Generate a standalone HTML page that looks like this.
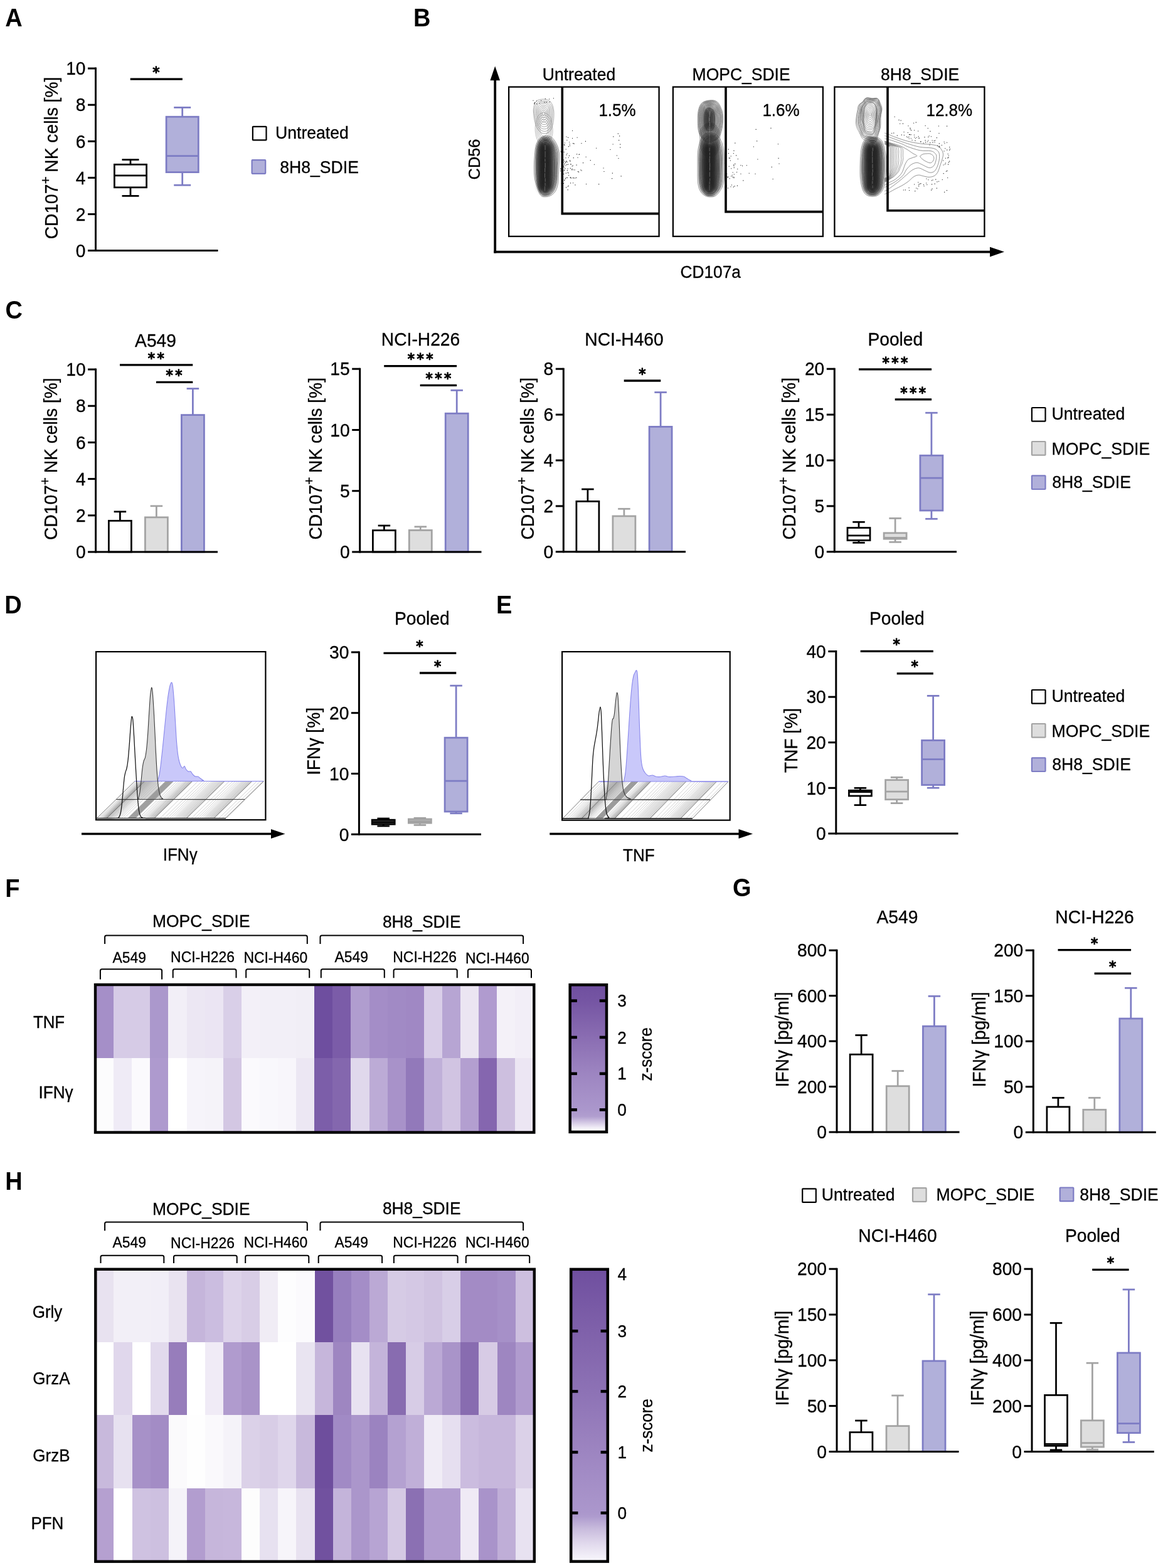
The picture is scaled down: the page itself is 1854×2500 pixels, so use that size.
<!DOCTYPE html>
<html lang="en">
<head>
<meta charset="utf-8">
<title>Figure: NK cell activation by 8H8_SDIE</title>
<style>
html,body{margin:0;padding:0;background:#fff}
body{width:1854px;height:2500px;overflow:hidden}
svg{display:block}
svg text{font-family:"Liberation Sans", sans-serif;fill:#000}
svg text.st{font-family:"DejaVu Sans", "Liberation Sans", sans-serif}
</style>
</head>
<body>
<svg width="1854" height="2500" viewBox="0 0 1854 2500">
<rect x="0" y="0" width="1854" height="2500" fill="#fff"/>
<text font-size="38" font-weight="bold" transform="translate(8.3 42.4) scale(1 1.05)">A</text>
<text font-size="38" font-weight="bold" transform="translate(659 42.2) scale(1 1.05)">B</text>
<text font-size="38" font-weight="bold" transform="translate(8.6 508) scale(1 1.05)">C</text>
<text font-size="38" font-weight="bold" transform="translate(7.3 978) scale(1 1.05)">D</text>
<text font-size="38" font-weight="bold" transform="translate(791 978) scale(1 1.05)">E</text>
<text font-size="38" font-weight="bold" transform="translate(8.2 1430) scale(1 1.05)">F</text>
<text font-size="38" font-weight="bold" transform="translate(1168 1429.4) scale(1 1.05)">G</text>
<text font-size="38" font-weight="bold" transform="translate(8.2 1897.2) scale(1 1.05)">H</text>
<text font-size="28.2" text-anchor="middle" transform="translate(92 252) rotate(-90) scale(1 1.05)" stroke="#000" stroke-width="0.3">CD107<tspan dy="-11.5" font-size="21">+</tspan><tspan dy="11.5" dx="-1.2"> NK cells [%]</tspan></text>
<line x1="208" y1="254.6" x2="208" y2="262.3" stroke="#000" stroke-width="2.75" stroke-linecap="butt"/>
<line x1="208" y1="298.8" x2="208" y2="312.4" stroke="#000" stroke-width="2.75" stroke-linecap="butt"/>
<line x1="194.5" y1="254.6" x2="221.5" y2="254.6" stroke="#000" stroke-width="2.75" stroke-linecap="butt"/>
<line x1="194.5" y1="312.4" x2="221.5" y2="312.4" stroke="#000" stroke-width="2.75" stroke-linecap="butt"/>
<rect x="182.4" y="262.3" width="51.2" height="36.5" fill="#fff" stroke="#000" stroke-width="2.75"/>
<line x1="182.4" y1="279.9" x2="233.6" y2="279.9" stroke="#000" stroke-width="2.75" stroke-linecap="butt"/>
<line x1="290.7" y1="171.4" x2="290.7" y2="186.2" stroke="#7d7cc4" stroke-width="2.75" stroke-linecap="butt"/>
<line x1="290.7" y1="274.6" x2="290.7" y2="295.2" stroke="#7d7cc4" stroke-width="2.75" stroke-linecap="butt"/>
<line x1="277.2" y1="171.4" x2="304.2" y2="171.4" stroke="#7d7cc4" stroke-width="2.75" stroke-linecap="butt"/>
<line x1="277.2" y1="295.2" x2="304.2" y2="295.2" stroke="#7d7cc4" stroke-width="2.75" stroke-linecap="butt"/>
<rect x="265.1" y="186.2" width="51.2" height="88.4" fill="#b1b0da" stroke="#7d7cc4" stroke-width="2.75"/>
<line x1="265.1" y1="248.6" x2="316.3" y2="248.6" stroke="#7d7cc4" stroke-width="2.75" stroke-linecap="butt"/>
<line x1="207.7" y1="126.2" x2="290.9" y2="126.2" stroke="#000" stroke-width="3.3" stroke-linecap="butt"/>
<text x="248.8" y="123" font-size="22.5" text-anchor="middle" class="st" stroke="#000" stroke-width="1.3" stroke-linejoin="round">*</text>
<rect x="402.9" y="201.8" width="21.6" height="21.6" rx="0.7" fill="#fff" stroke="#000" stroke-width="2.2"/>
<text font-size="26.6" transform="translate(439 221.3) scale(1 1.05)" stroke="#000" stroke-width="0.3">Untreated</text>
<rect x="401.6" y="255.2" width="21.6" height="21.6" rx="0.7" fill="#b1b0da" stroke="#7d7cc4" stroke-width="2.2"/>
<text font-size="26.6" transform="translate(446.3 275.5) scale(1 1.05)" stroke="#000" stroke-width="0.3">8H8_SDIE</text>
<line x1="152.5" y1="107.6" x2="152.5" y2="401.1" stroke="#000" stroke-width="3" stroke-linecap="butt"/>
<line x1="140" y1="399.6" x2="347.5" y2="399.6" stroke="#000" stroke-width="3" stroke-linecap="butt"/>
<text font-size="28.2" text-anchor="end" transform="translate(136.5 409.8) scale(1 1.05)" stroke="#000" stroke-width="0.3">0</text>
<line x1="140" y1="341.5" x2="152.5" y2="341.5" stroke="#000" stroke-width="3" stroke-linecap="butt"/>
<text font-size="28.2" text-anchor="end" transform="translate(136.5 351.7) scale(1 1.05)" stroke="#000" stroke-width="0.3">2</text>
<line x1="140" y1="283.4" x2="152.5" y2="283.4" stroke="#000" stroke-width="3" stroke-linecap="butt"/>
<text font-size="28.2" text-anchor="end" transform="translate(136.5 293.6) scale(1 1.05)" stroke="#000" stroke-width="0.3">4</text>
<line x1="140" y1="225.3" x2="152.5" y2="225.3" stroke="#000" stroke-width="3" stroke-linecap="butt"/>
<text font-size="28.2" text-anchor="end" transform="translate(136.5 235.5) scale(1 1.05)" stroke="#000" stroke-width="0.3">6</text>
<line x1="140" y1="167.2" x2="152.5" y2="167.2" stroke="#000" stroke-width="3" stroke-linecap="butt"/>
<text font-size="28.2" text-anchor="end" transform="translate(136.5 177.4) scale(1 1.05)" stroke="#000" stroke-width="0.3">8</text>
<line x1="140" y1="109.1" x2="152.5" y2="109.1" stroke="#000" stroke-width="3" stroke-linecap="butt"/>
<text font-size="28.2" text-anchor="end" transform="translate(136.5 119.3) scale(1 1.05)" stroke="#000" stroke-width="0.3">10</text>
<text font-size="28.2" text-anchor="middle" transform="translate(91.3 731.7) rotate(-90) scale(1 1.05)" stroke="#000" stroke-width="0.3">CD107<tspan dy="-11.5" font-size="21">+</tspan><tspan dy="11.5" dx="-1.2"> NK cells [%]</tspan></text>
<text font-size="28.2" text-anchor="middle" transform="translate(248 552.5) scale(1 1.05)" stroke="#000" stroke-width="0.3">A549</text>
<line x1="191.4" y1="815.8" x2="191.4" y2="830.3" stroke="#000" stroke-width="2.75" stroke-linecap="butt"/>
<line x1="181.65" y1="815.8" x2="201.15" y2="815.8" stroke="#000" stroke-width="2.75" stroke-linecap="butt"/>
<rect x="173.4" y="830.3" width="36" height="49.7" fill="#fff" stroke="#000" stroke-width="2.75"/>
<line x1="249.4" y1="806.8" x2="249.4" y2="824.8" stroke="#a3a3a3" stroke-width="2.75" stroke-linecap="butt"/>
<line x1="239.65" y1="806.8" x2="259.15" y2="806.8" stroke="#a3a3a3" stroke-width="2.75" stroke-linecap="butt"/>
<rect x="231.4" y="824.8" width="36" height="55.2" fill="#dedede" stroke="#a3a3a3" stroke-width="2.75"/>
<line x1="307.4" y1="619.6" x2="307.4" y2="661.6" stroke="#7d7cc4" stroke-width="2.75" stroke-linecap="butt"/>
<line x1="297.65" y1="619.6" x2="317.15" y2="619.6" stroke="#7d7cc4" stroke-width="2.75" stroke-linecap="butt"/>
<rect x="289.4" y="661.6" width="36" height="218.4" fill="#b1b0da" stroke="#7d7cc4" stroke-width="2.75"/>
<line x1="191" y1="581.8" x2="307.3" y2="581.8" stroke="#000" stroke-width="3.3" stroke-linecap="butt"/>
<text x="250.55" y="578.6" font-size="22.5" text-anchor="middle" class="st" stroke="#000" stroke-width="1.3" stroke-linejoin="round" letter-spacing="3.5">**</text>
<line x1="249" y1="609.3" x2="307.3" y2="609.3" stroke="#000" stroke-width="3.3" stroke-linecap="butt"/>
<text x="279.25" y="605.9" font-size="22.5" text-anchor="middle" class="st" stroke="#000" stroke-width="1.3" stroke-linejoin="round" letter-spacing="3.5">**</text>
<text font-size="28.2" text-anchor="middle" transform="translate(512.5 731.3) rotate(-90) scale(1 1.05)" stroke="#000" stroke-width="0.3">CD107<tspan dy="-11.5" font-size="21">+</tspan><tspan dy="11.5" dx="-1.2"> NK cells [%]</tspan></text>
<text font-size="28.2" text-anchor="middle" transform="translate(670.5 550.5) scale(1 1.05)" stroke="#000" stroke-width="0.3">NCI-H226</text>
<line x1="612.4" y1="838" x2="612.4" y2="845.6" stroke="#000" stroke-width="2.75" stroke-linecap="butt"/>
<line x1="602.65" y1="838" x2="622.15" y2="838" stroke="#000" stroke-width="2.75" stroke-linecap="butt"/>
<rect x="594.4" y="845.6" width="36" height="34.4" fill="#fff" stroke="#000" stroke-width="2.75"/>
<line x1="670.3" y1="839.8" x2="670.3" y2="845.4" stroke="#a3a3a3" stroke-width="2.75" stroke-linecap="butt"/>
<line x1="660.55" y1="839.8" x2="680.05" y2="839.8" stroke="#a3a3a3" stroke-width="2.75" stroke-linecap="butt"/>
<rect x="652.3" y="845.4" width="36" height="34.6" fill="#dedede" stroke="#a3a3a3" stroke-width="2.75"/>
<line x1="728.2" y1="622.3" x2="728.2" y2="659.2" stroke="#7d7cc4" stroke-width="2.75" stroke-linecap="butt"/>
<line x1="718.45" y1="622.3" x2="737.95" y2="622.3" stroke="#7d7cc4" stroke-width="2.75" stroke-linecap="butt"/>
<rect x="710.2" y="659.2" width="36" height="220.8" fill="#b1b0da" stroke="#7d7cc4" stroke-width="2.75"/>
<line x1="612.2" y1="583.6" x2="728.1" y2="583.6" stroke="#000" stroke-width="3.3" stroke-linecap="butt"/>
<text x="671.75" y="580.1" font-size="22.5" text-anchor="middle" class="st" stroke="#000" stroke-width="1.3" stroke-linejoin="round" letter-spacing="3.5">***</text>
<line x1="669.7" y1="614.3" x2="728.1" y2="614.3" stroke="#000" stroke-width="3.3" stroke-linecap="butt"/>
<text x="700.55" y="611.1" font-size="22.5" text-anchor="middle" class="st" stroke="#000" stroke-width="1.3" stroke-linejoin="round" letter-spacing="3.5">***</text>
<text font-size="28.2" text-anchor="middle" transform="translate(851.3 731.3) rotate(-90) scale(1 1.05)" stroke="#000" stroke-width="0.3">CD107<tspan dy="-11.5" font-size="21">+</tspan><tspan dy="11.5" dx="-1.2"> NK cells [%]</tspan></text>
<text font-size="28.2" text-anchor="middle" transform="translate(995 550.5) scale(1 1.05)" stroke="#000" stroke-width="0.3">NCI-H460</text>
<line x1="936.9" y1="780" x2="936.9" y2="799.4" stroke="#000" stroke-width="2.75" stroke-linecap="butt"/>
<line x1="927.15" y1="780" x2="946.65" y2="780" stroke="#000" stroke-width="2.75" stroke-linecap="butt"/>
<rect x="918.9" y="799.4" width="36" height="80.4" fill="#fff" stroke="#000" stroke-width="2.75"/>
<line x1="994.9" y1="811.3" x2="994.9" y2="822.9" stroke="#a3a3a3" stroke-width="2.75" stroke-linecap="butt"/>
<line x1="985.15" y1="811.3" x2="1004.65" y2="811.3" stroke="#a3a3a3" stroke-width="2.75" stroke-linecap="butt"/>
<rect x="976.9" y="822.9" width="36" height="56.9" fill="#dedede" stroke="#a3a3a3" stroke-width="2.75"/>
<line x1="1053.1" y1="625.5" x2="1053.1" y2="680.4" stroke="#7d7cc4" stroke-width="2.75" stroke-linecap="butt"/>
<line x1="1043.35" y1="625.5" x2="1062.85" y2="625.5" stroke="#7d7cc4" stroke-width="2.75" stroke-linecap="butt"/>
<rect x="1035.1" y="680.4" width="36" height="199.4" fill="#b1b0da" stroke="#7d7cc4" stroke-width="2.75"/>
<line x1="994.7" y1="607" x2="1053.3" y2="607" stroke="#000" stroke-width="3.3" stroke-linecap="butt"/>
<text x="1023.8" y="603.6" font-size="22.5" text-anchor="middle" class="st" stroke="#000" stroke-width="1.3" stroke-linejoin="round">*</text>
<text font-size="28.2" text-anchor="middle" transform="translate(1268 731.3) rotate(-90) scale(1 1.05)" stroke="#000" stroke-width="0.3">CD107<tspan dy="-11.5" font-size="21">+</tspan><tspan dy="11.5" dx="-1.2"> NK cells [%]</tspan></text>
<text font-size="28.2" text-anchor="middle" transform="translate(1427.3 550.5) scale(1 1.05)" stroke="#000" stroke-width="0.3">Pooled</text>
<line x1="1369" y1="832.3" x2="1369" y2="841.5" stroke="#000" stroke-width="2.75" stroke-linecap="butt"/>
<line x1="1369" y1="861.5" x2="1369" y2="865.3" stroke="#000" stroke-width="2.75" stroke-linecap="butt"/>
<line x1="1359.25" y1="832.3" x2="1378.75" y2="832.3" stroke="#000" stroke-width="2.75" stroke-linecap="butt"/>
<line x1="1359.25" y1="865.3" x2="1378.75" y2="865.3" stroke="#000" stroke-width="2.75" stroke-linecap="butt"/>
<rect x="1351" y="841.5" width="36" height="20" fill="#fff" stroke="#000" stroke-width="2.75"/>
<line x1="1351" y1="853.8" x2="1387" y2="853.8" stroke="#000" stroke-width="2.75" stroke-linecap="butt"/>
<line x1="1427.1" y1="826.4" x2="1427.1" y2="849.8" stroke="#a3a3a3" stroke-width="2.75" stroke-linecap="butt"/>
<line x1="1427.1" y1="859.2" x2="1427.1" y2="864.3" stroke="#a3a3a3" stroke-width="2.75" stroke-linecap="butt"/>
<line x1="1417.35" y1="826.4" x2="1436.85" y2="826.4" stroke="#a3a3a3" stroke-width="2.75" stroke-linecap="butt"/>
<line x1="1417.35" y1="864.3" x2="1436.85" y2="864.3" stroke="#a3a3a3" stroke-width="2.75" stroke-linecap="butt"/>
<rect x="1409.1" y="849.8" width="36" height="9.4" fill="#dedede" stroke="#a3a3a3" stroke-width="2.75"/>
<line x1="1409.1" y1="857.3" x2="1445.1" y2="857.3" stroke="#a3a3a3" stroke-width="2.75" stroke-linecap="butt"/>
<line x1="1484.9" y1="658.2" x2="1484.9" y2="726.2" stroke="#7d7cc4" stroke-width="2.75" stroke-linecap="butt"/>
<line x1="1484.9" y1="814" x2="1484.9" y2="827.3" stroke="#7d7cc4" stroke-width="2.75" stroke-linecap="butt"/>
<line x1="1475.15" y1="658.2" x2="1494.65" y2="658.2" stroke="#7d7cc4" stroke-width="2.75" stroke-linecap="butt"/>
<line x1="1475.15" y1="827.3" x2="1494.65" y2="827.3" stroke="#7d7cc4" stroke-width="2.75" stroke-linecap="butt"/>
<rect x="1466.9" y="726.2" width="36" height="87.8" fill="#b1b0da" stroke="#7d7cc4" stroke-width="2.75"/>
<line x1="1466.9" y1="762.2" x2="1502.9" y2="762.2" stroke="#7d7cc4" stroke-width="2.75" stroke-linecap="butt"/>
<line x1="1369" y1="588.8" x2="1485.1" y2="588.8" stroke="#000" stroke-width="3.3" stroke-linecap="butt"/>
<text x="1428.55" y="586.1" font-size="22.5" text-anchor="middle" class="st" stroke="#000" stroke-width="1.3" stroke-linejoin="round" letter-spacing="3.5">***</text>
<line x1="1426.7" y1="636.8" x2="1485.1" y2="636.8" stroke="#000" stroke-width="3.3" stroke-linecap="butt"/>
<text x="1457.25" y="633.6" font-size="22.5" text-anchor="middle" class="st" stroke="#000" stroke-width="1.3" stroke-linejoin="round" letter-spacing="3.5">***</text>
<rect x="1644.9" y="650" width="21.6" height="21.6" rx="0.7" fill="#fff" stroke="#000" stroke-width="2.2"/>
<text font-size="26.6" transform="translate(1676.6 669.2) scale(1 1.05)" stroke="#000" stroke-width="0.3">Untreated</text>
<rect x="1644.9" y="704" width="21.6" height="21.6" rx="0.7" fill="#dedede" stroke="#a3a3a3" stroke-width="2.2"/>
<text font-size="26.6" transform="translate(1676.6 725.3) scale(1 1.05)" stroke="#000" stroke-width="0.3">MOPC_SDIE</text>
<rect x="1644.9" y="758.4" width="21.6" height="21.6" rx="0.7" fill="#b1b0da" stroke="#7d7cc4" stroke-width="2.2"/>
<text font-size="26.6" transform="translate(1677.3 777.9) scale(1 1.05)" stroke="#000" stroke-width="0.3">8H8_SDIE</text>
<line x1="152.6" y1="587.5" x2="152.6" y2="881.5" stroke="#000" stroke-width="3" stroke-linecap="butt"/>
<line x1="140.1" y1="880" x2="347" y2="880" stroke="#000" stroke-width="3" stroke-linecap="butt"/>
<text font-size="28.2" text-anchor="end" transform="translate(136.6 890.2) scale(1 1.05)" stroke="#000" stroke-width="0.3">0</text>
<line x1="140.1" y1="821.8" x2="152.6" y2="821.8" stroke="#000" stroke-width="3" stroke-linecap="butt"/>
<text font-size="28.2" text-anchor="end" transform="translate(136.6 832) scale(1 1.05)" stroke="#000" stroke-width="0.3">2</text>
<line x1="140.1" y1="763.6" x2="152.6" y2="763.6" stroke="#000" stroke-width="3" stroke-linecap="butt"/>
<text font-size="28.2" text-anchor="end" transform="translate(136.6 773.8) scale(1 1.05)" stroke="#000" stroke-width="0.3">4</text>
<line x1="140.1" y1="705.4" x2="152.6" y2="705.4" stroke="#000" stroke-width="3" stroke-linecap="butt"/>
<text font-size="28.2" text-anchor="end" transform="translate(136.6 715.6) scale(1 1.05)" stroke="#000" stroke-width="0.3">6</text>
<line x1="140.1" y1="647.2" x2="152.6" y2="647.2" stroke="#000" stroke-width="3" stroke-linecap="butt"/>
<text font-size="28.2" text-anchor="end" transform="translate(136.6 657.4) scale(1 1.05)" stroke="#000" stroke-width="0.3">8</text>
<line x1="140.1" y1="589" x2="152.6" y2="589" stroke="#000" stroke-width="3" stroke-linecap="butt"/>
<text font-size="28.2" text-anchor="end" transform="translate(136.6 599.2) scale(1 1.05)" stroke="#000" stroke-width="0.3">10</text>
<line x1="573.7" y1="586.7" x2="573.7" y2="881.5" stroke="#000" stroke-width="3" stroke-linecap="butt"/>
<line x1="561.2" y1="880" x2="767.5" y2="880" stroke="#000" stroke-width="3" stroke-linecap="butt"/>
<text font-size="28.2" text-anchor="end" transform="translate(557.7 890.2) scale(1 1.05)" stroke="#000" stroke-width="0.3">0</text>
<line x1="561.2" y1="782.73" x2="573.7" y2="782.73" stroke="#000" stroke-width="3" stroke-linecap="butt"/>
<text font-size="28.2" text-anchor="end" transform="translate(557.7 792.93) scale(1 1.05)" stroke="#000" stroke-width="0.3">5</text>
<line x1="561.2" y1="685.47" x2="573.7" y2="685.47" stroke="#000" stroke-width="3" stroke-linecap="butt"/>
<text font-size="28.2" text-anchor="end" transform="translate(557.7 695.67) scale(1 1.05)" stroke="#000" stroke-width="0.3">10</text>
<line x1="561.2" y1="588.2" x2="573.7" y2="588.2" stroke="#000" stroke-width="3" stroke-linecap="butt"/>
<text font-size="28.2" text-anchor="end" transform="translate(557.7 598.4) scale(1 1.05)" stroke="#000" stroke-width="0.3">15</text>
<line x1="898.3" y1="586.7" x2="898.3" y2="881.3" stroke="#000" stroke-width="3" stroke-linecap="butt"/>
<line x1="885.8" y1="879.8" x2="1093" y2="879.8" stroke="#000" stroke-width="3" stroke-linecap="butt"/>
<text font-size="28.2" text-anchor="end" transform="translate(882.3 890) scale(1 1.05)" stroke="#000" stroke-width="0.3">0</text>
<line x1="885.8" y1="806.9" x2="898.3" y2="806.9" stroke="#000" stroke-width="3" stroke-linecap="butt"/>
<text font-size="28.2" text-anchor="end" transform="translate(882.3 817.1) scale(1 1.05)" stroke="#000" stroke-width="0.3">2</text>
<line x1="885.8" y1="734" x2="898.3" y2="734" stroke="#000" stroke-width="3" stroke-linecap="butt"/>
<text font-size="28.2" text-anchor="end" transform="translate(882.3 744.2) scale(1 1.05)" stroke="#000" stroke-width="0.3">4</text>
<line x1="885.8" y1="661.1" x2="898.3" y2="661.1" stroke="#000" stroke-width="3" stroke-linecap="butt"/>
<text font-size="28.2" text-anchor="end" transform="translate(882.3 671.3) scale(1 1.05)" stroke="#000" stroke-width="0.3">6</text>
<line x1="885.8" y1="588.2" x2="898.3" y2="588.2" stroke="#000" stroke-width="3" stroke-linecap="butt"/>
<text font-size="28.2" text-anchor="end" transform="translate(882.3 598.4) scale(1 1.05)" stroke="#000" stroke-width="0.3">8</text>
<line x1="1330.3" y1="586.7" x2="1330.3" y2="881.3" stroke="#000" stroke-width="3" stroke-linecap="butt"/>
<line x1="1317.8" y1="879.8" x2="1525" y2="879.8" stroke="#000" stroke-width="3" stroke-linecap="butt"/>
<text font-size="28.2" text-anchor="end" transform="translate(1314.3 890) scale(1 1.05)" stroke="#000" stroke-width="0.3">0</text>
<line x1="1317.8" y1="806.9" x2="1330.3" y2="806.9" stroke="#000" stroke-width="3" stroke-linecap="butt"/>
<text font-size="28.2" text-anchor="end" transform="translate(1314.3 817.1) scale(1 1.05)" stroke="#000" stroke-width="0.3">5</text>
<line x1="1317.8" y1="734" x2="1330.3" y2="734" stroke="#000" stroke-width="3" stroke-linecap="butt"/>
<text font-size="28.2" text-anchor="end" transform="translate(1314.3 744.2) scale(1 1.05)" stroke="#000" stroke-width="0.3">10</text>
<line x1="1317.8" y1="661.1" x2="1330.3" y2="661.1" stroke="#000" stroke-width="3" stroke-linecap="butt"/>
<text font-size="28.2" text-anchor="end" transform="translate(1314.3 671.3) scale(1 1.05)" stroke="#000" stroke-width="0.3">15</text>
<line x1="1317.8" y1="588.2" x2="1330.3" y2="588.2" stroke="#000" stroke-width="3" stroke-linecap="butt"/>
<text font-size="28.2" text-anchor="end" transform="translate(1314.3 598.4) scale(1 1.05)" stroke="#000" stroke-width="0.3">20</text>
<text font-size="28.2" text-anchor="middle" transform="translate(510 1182) rotate(-90) scale(1 1.05)" stroke="#000" stroke-width="0.3">IFNγ [%]</text>
<text font-size="28.2" text-anchor="middle" transform="translate(672.8 996.3) scale(1 1.05)" stroke="#000" stroke-width="0.3">Pooled</text>
<line x1="611.2" y1="1305" x2="611.2" y2="1307.2" stroke="#000" stroke-width="2.75" stroke-linecap="butt"/>
<line x1="611.2" y1="1314.2" x2="611.2" y2="1317" stroke="#000" stroke-width="2.75" stroke-linecap="butt"/>
<line x1="601.45" y1="1305" x2="620.95" y2="1305" stroke="#000" stroke-width="2.75" stroke-linecap="butt"/>
<line x1="601.45" y1="1317" x2="620.95" y2="1317" stroke="#000" stroke-width="2.75" stroke-linecap="butt"/>
<rect x="593.2" y="1307.2" width="36" height="7" fill="#555" stroke="#000" stroke-width="2.75"/>
<line x1="593.2" y1="1310.8" x2="629.2" y2="1310.8" stroke="#000" stroke-width="2.75" stroke-linecap="butt"/>
<line x1="669.4" y1="1304.3" x2="669.4" y2="1306" stroke="#a3a3a3" stroke-width="2.75" stroke-linecap="butt"/>
<line x1="669.4" y1="1312.2" x2="669.4" y2="1315.5" stroke="#a3a3a3" stroke-width="2.75" stroke-linecap="butt"/>
<line x1="659.65" y1="1304.3" x2="679.15" y2="1304.3" stroke="#a3a3a3" stroke-width="2.75" stroke-linecap="butt"/>
<line x1="659.65" y1="1315.5" x2="679.15" y2="1315.5" stroke="#a3a3a3" stroke-width="2.75" stroke-linecap="butt"/>
<rect x="651.4" y="1306" width="36" height="6.2" fill="#bdbdbd" stroke="#a3a3a3" stroke-width="2.75"/>
<line x1="651.4" y1="1309.5" x2="687.4" y2="1309.5" stroke="#a3a3a3" stroke-width="2.75" stroke-linecap="butt"/>
<line x1="727.1" y1="1093.2" x2="727.1" y2="1176.2" stroke="#7d7cc4" stroke-width="2.75" stroke-linecap="butt"/>
<line x1="727.1" y1="1294" x2="727.1" y2="1296.8" stroke="#7d7cc4" stroke-width="2.75" stroke-linecap="butt"/>
<line x1="717.35" y1="1093.2" x2="736.85" y2="1093.2" stroke="#7d7cc4" stroke-width="2.75" stroke-linecap="butt"/>
<line x1="717.35" y1="1296.8" x2="736.85" y2="1296.8" stroke="#7d7cc4" stroke-width="2.75" stroke-linecap="butt"/>
<rect x="709.1" y="1176.2" width="36" height="117.8" fill="#b1b0da" stroke="#7d7cc4" stroke-width="2.75"/>
<line x1="709.1" y1="1245" x2="745.1" y2="1245" stroke="#7d7cc4" stroke-width="2.75" stroke-linecap="butt"/>
<line x1="611.5" y1="1041.3" x2="727.3" y2="1041.3" stroke="#000" stroke-width="3.3" stroke-linecap="butt"/>
<text x="668.8" y="1037.9" font-size="22.5" text-anchor="middle" class="st" stroke="#000" stroke-width="1.3" stroke-linejoin="round">*</text>
<line x1="669" y1="1073" x2="727.3" y2="1073" stroke="#000" stroke-width="3.3" stroke-linecap="butt"/>
<text x="697.5" y="1069.9" font-size="22.5" text-anchor="middle" class="st" stroke="#000" stroke-width="1.3" stroke-linejoin="round">*</text>
<text font-size="28.2" text-anchor="middle" transform="translate(1271.3 1180.6) rotate(-90) scale(1 1.05)" stroke="#000" stroke-width="0.3">TNF [%]</text>
<text font-size="28.2" text-anchor="middle" transform="translate(1429.8 996.3) scale(1 1.05)" stroke="#000" stroke-width="0.3">Pooled</text>
<line x1="1371.4" y1="1256.4" x2="1371.4" y2="1260.3" stroke="#000" stroke-width="2.75" stroke-linecap="butt"/>
<line x1="1371.4" y1="1269" x2="1371.4" y2="1283.6" stroke="#000" stroke-width="2.75" stroke-linecap="butt"/>
<line x1="1361.65" y1="1256.4" x2="1381.15" y2="1256.4" stroke="#000" stroke-width="2.75" stroke-linecap="butt"/>
<line x1="1361.65" y1="1283.6" x2="1381.15" y2="1283.6" stroke="#000" stroke-width="2.75" stroke-linecap="butt"/>
<rect x="1353.4" y="1260.3" width="36" height="8.7" fill="#fff" stroke="#000" stroke-width="2.75"/>
<line x1="1353.4" y1="1262.6" x2="1389.4" y2="1262.6" stroke="#000" stroke-width="2.75" stroke-linecap="butt"/>
<line x1="1429.6" y1="1239.4" x2="1429.6" y2="1243.6" stroke="#a3a3a3" stroke-width="2.75" stroke-linecap="butt"/>
<line x1="1429.6" y1="1274.7" x2="1429.6" y2="1280.6" stroke="#a3a3a3" stroke-width="2.75" stroke-linecap="butt"/>
<line x1="1419.85" y1="1239.4" x2="1439.35" y2="1239.4" stroke="#a3a3a3" stroke-width="2.75" stroke-linecap="butt"/>
<line x1="1419.85" y1="1280.6" x2="1439.35" y2="1280.6" stroke="#a3a3a3" stroke-width="2.75" stroke-linecap="butt"/>
<rect x="1411.6" y="1243.6" width="36" height="31.1" fill="#dedede" stroke="#a3a3a3" stroke-width="2.75"/>
<line x1="1411.6" y1="1262" x2="1447.6" y2="1262" stroke="#a3a3a3" stroke-width="2.75" stroke-linecap="butt"/>
<line x1="1487.6" y1="1109.4" x2="1487.6" y2="1180.4" stroke="#7d7cc4" stroke-width="2.75" stroke-linecap="butt"/>
<line x1="1487.6" y1="1251.5" x2="1487.6" y2="1256.2" stroke="#7d7cc4" stroke-width="2.75" stroke-linecap="butt"/>
<line x1="1477.85" y1="1109.4" x2="1497.35" y2="1109.4" stroke="#7d7cc4" stroke-width="2.75" stroke-linecap="butt"/>
<line x1="1477.85" y1="1256.2" x2="1497.35" y2="1256.2" stroke="#7d7cc4" stroke-width="2.75" stroke-linecap="butt"/>
<rect x="1469.6" y="1180.4" width="36" height="71.1" fill="#b1b0da" stroke="#7d7cc4" stroke-width="2.75"/>
<line x1="1469.6" y1="1210.5" x2="1505.6" y2="1210.5" stroke="#7d7cc4" stroke-width="2.75" stroke-linecap="butt"/>
<line x1="1371.7" y1="1038.3" x2="1487.8" y2="1038.3" stroke="#000" stroke-width="3.3" stroke-linecap="butt"/>
<text x="1429" y="1034.9" font-size="22.5" text-anchor="middle" class="st" stroke="#000" stroke-width="1.3" stroke-linejoin="round">*</text>
<line x1="1429.7" y1="1073.8" x2="1487.8" y2="1073.8" stroke="#000" stroke-width="3.3" stroke-linecap="butt"/>
<text x="1458" y="1070.4" font-size="22.5" text-anchor="middle" class="st" stroke="#000" stroke-width="1.3" stroke-linejoin="round">*</text>
<rect x="1644.9" y="1100" width="21.6" height="21.6" rx="0.7" fill="#fff" stroke="#000" stroke-width="2.2"/>
<text font-size="26.6" transform="translate(1676.6 1119.2) scale(1 1.05)" stroke="#000" stroke-width="0.3">Untreated</text>
<rect x="1644.9" y="1154" width="21.6" height="21.6" rx="0.7" fill="#dedede" stroke="#a3a3a3" stroke-width="2.2"/>
<text font-size="26.6" transform="translate(1676.6 1175.3) scale(1 1.05)" stroke="#000" stroke-width="0.3">MOPC_SDIE</text>
<rect x="1644.9" y="1208.4" width="21.6" height="21.6" rx="0.7" fill="#b1b0da" stroke="#7d7cc4" stroke-width="2.2"/>
<text font-size="26.6" transform="translate(1677.3 1227.9) scale(1 1.05)" stroke="#000" stroke-width="0.3">8H8_SDIE</text>
<line x1="572.4" y1="1038.4" x2="572.4" y2="1331.8" stroke="#000" stroke-width="3" stroke-linecap="butt"/>
<line x1="559.9" y1="1330.3" x2="767" y2="1330.3" stroke="#000" stroke-width="3" stroke-linecap="butt"/>
<text font-size="28.2" text-anchor="end" transform="translate(556.4 1340.5) scale(1 1.05)" stroke="#000" stroke-width="0.3">0</text>
<line x1="559.9" y1="1233.5" x2="572.4" y2="1233.5" stroke="#000" stroke-width="3" stroke-linecap="butt"/>
<text font-size="28.2" text-anchor="end" transform="translate(556.4 1243.7) scale(1 1.05)" stroke="#000" stroke-width="0.3">10</text>
<line x1="559.9" y1="1136.7" x2="572.4" y2="1136.7" stroke="#000" stroke-width="3" stroke-linecap="butt"/>
<text font-size="28.2" text-anchor="end" transform="translate(556.4 1146.9) scale(1 1.05)" stroke="#000" stroke-width="0.3">20</text>
<line x1="559.9" y1="1039.9" x2="572.4" y2="1039.9" stroke="#000" stroke-width="3" stroke-linecap="butt"/>
<text font-size="28.2" text-anchor="end" transform="translate(556.4 1050.1) scale(1 1.05)" stroke="#000" stroke-width="0.3">30</text>
<line x1="1332.8" y1="1037.1" x2="1332.8" y2="1330.4" stroke="#000" stroke-width="3" stroke-linecap="butt"/>
<line x1="1320.3" y1="1328.9" x2="1527.5" y2="1328.9" stroke="#000" stroke-width="3" stroke-linecap="butt"/>
<text font-size="28.2" text-anchor="end" transform="translate(1316.8 1339.1) scale(1 1.05)" stroke="#000" stroke-width="0.3">0</text>
<line x1="1320.3" y1="1256.33" x2="1332.8" y2="1256.33" stroke="#000" stroke-width="3" stroke-linecap="butt"/>
<text font-size="28.2" text-anchor="end" transform="translate(1316.8 1266.53) scale(1 1.05)" stroke="#000" stroke-width="0.3">10</text>
<line x1="1320.3" y1="1183.75" x2="1332.8" y2="1183.75" stroke="#000" stroke-width="3" stroke-linecap="butt"/>
<text font-size="28.2" text-anchor="end" transform="translate(1316.8 1193.95) scale(1 1.05)" stroke="#000" stroke-width="0.3">20</text>
<line x1="1320.3" y1="1111.17" x2="1332.8" y2="1111.17" stroke="#000" stroke-width="3" stroke-linecap="butt"/>
<text font-size="28.2" text-anchor="end" transform="translate(1316.8 1121.38) scale(1 1.05)" stroke="#000" stroke-width="0.3">30</text>
<line x1="1320.3" y1="1038.6" x2="1332.8" y2="1038.6" stroke="#000" stroke-width="3" stroke-linecap="butt"/>
<text font-size="28.2" text-anchor="end" transform="translate(1316.8 1048.8) scale(1 1.05)" stroke="#000" stroke-width="0.3">40</text>
<text font-size="28.2" text-anchor="middle" transform="translate(1256.9 1657.5) rotate(-90) scale(1 1.05)" stroke="#000" stroke-width="0.3">IFNγ [pg/ml]</text>
<text font-size="28.2" text-anchor="middle" transform="translate(1430.4 1472) scale(1 1.05)" stroke="#000" stroke-width="0.3">A549</text>
<line x1="1373.1" y1="1650.5" x2="1373.1" y2="1681.2" stroke="#000" stroke-width="2.75" stroke-linecap="butt"/>
<line x1="1363.35" y1="1650.5" x2="1382.85" y2="1650.5" stroke="#000" stroke-width="2.75" stroke-linecap="butt"/>
<rect x="1355.1" y="1681.2" width="36" height="123.7" fill="#fff" stroke="#000" stroke-width="2.75"/>
<line x1="1431.2" y1="1707.5" x2="1431.2" y2="1731.7" stroke="#a3a3a3" stroke-width="2.75" stroke-linecap="butt"/>
<line x1="1421.45" y1="1707.5" x2="1440.95" y2="1707.5" stroke="#a3a3a3" stroke-width="2.75" stroke-linecap="butt"/>
<rect x="1413.2" y="1731.7" width="36" height="73.2" fill="#dedede" stroke="#a3a3a3" stroke-width="2.75"/>
<line x1="1489.4" y1="1588.3" x2="1489.4" y2="1636.2" stroke="#7d7cc4" stroke-width="2.75" stroke-linecap="butt"/>
<line x1="1479.65" y1="1588.3" x2="1499.15" y2="1588.3" stroke="#7d7cc4" stroke-width="2.75" stroke-linecap="butt"/>
<rect x="1471.4" y="1636.2" width="36" height="168.7" fill="#b1b0da" stroke="#7d7cc4" stroke-width="2.75"/>
<text font-size="28.2" text-anchor="middle" transform="translate(1570.9 1657.5) rotate(-90) scale(1 1.05)" stroke="#000" stroke-width="0.3">IFNγ [pg/ml]</text>
<text font-size="28.2" text-anchor="middle" transform="translate(1745 1471.8) scale(1 1.05)" stroke="#000" stroke-width="0.3">NCI-H226</text>
<line x1="1686.9" y1="1750.3" x2="1686.9" y2="1764.8" stroke="#000" stroke-width="2.75" stroke-linecap="butt"/>
<line x1="1677.15" y1="1750.3" x2="1696.65" y2="1750.3" stroke="#000" stroke-width="2.75" stroke-linecap="butt"/>
<rect x="1668.9" y="1764.8" width="36" height="40.4" fill="#fff" stroke="#000" stroke-width="2.75"/>
<line x1="1744.8" y1="1750.3" x2="1744.8" y2="1769.3" stroke="#a3a3a3" stroke-width="2.75" stroke-linecap="butt"/>
<line x1="1735.05" y1="1750.3" x2="1754.55" y2="1750.3" stroke="#a3a3a3" stroke-width="2.75" stroke-linecap="butt"/>
<rect x="1726.8" y="1769.3" width="36" height="35.9" fill="#dedede" stroke="#a3a3a3" stroke-width="2.75"/>
<line x1="1802.8" y1="1575.3" x2="1802.8" y2="1624" stroke="#7d7cc4" stroke-width="2.75" stroke-linecap="butt"/>
<line x1="1793.05" y1="1575.3" x2="1812.55" y2="1575.3" stroke="#7d7cc4" stroke-width="2.75" stroke-linecap="butt"/>
<rect x="1784.8" y="1624" width="36" height="181.2" fill="#b1b0da" stroke="#7d7cc4" stroke-width="2.75"/>
<line x1="1686.5" y1="1514.6" x2="1803.1" y2="1514.6" stroke="#000" stroke-width="3.3" stroke-linecap="butt"/>
<text x="1744.7" y="1511.6" font-size="22.5" text-anchor="middle" class="st" stroke="#000" stroke-width="1.3" stroke-linejoin="round">*</text>
<line x1="1744.6" y1="1552.1" x2="1803.1" y2="1552.1" stroke="#000" stroke-width="3.3" stroke-linecap="butt"/>
<text x="1773.6" y="1548.7" font-size="22.5" text-anchor="middle" class="st" stroke="#000" stroke-width="1.3" stroke-linejoin="round">*</text>
<text font-size="28.2" text-anchor="middle" transform="translate(1256.9 2165.6) rotate(-90) scale(1 1.05)" stroke="#000" stroke-width="0.3">IFNγ [pg/ml]</text>
<text font-size="28.2" text-anchor="middle" transform="translate(1431 1979.5) scale(1 1.05)" stroke="#000" stroke-width="0.3">NCI-H460</text>
<line x1="1372.9" y1="2265" x2="1372.9" y2="2283.6" stroke="#000" stroke-width="2.75" stroke-linecap="butt"/>
<line x1="1363.15" y1="2265" x2="1382.65" y2="2265" stroke="#000" stroke-width="2.75" stroke-linecap="butt"/>
<rect x="1354.9" y="2283.6" width="36" height="30.8" fill="#fff" stroke="#000" stroke-width="2.75"/>
<line x1="1431" y1="2225" x2="1431" y2="2273.6" stroke="#a3a3a3" stroke-width="2.75" stroke-linecap="butt"/>
<line x1="1421.25" y1="2225" x2="1440.75" y2="2225" stroke="#a3a3a3" stroke-width="2.75" stroke-linecap="butt"/>
<rect x="1413" y="2273.6" width="36" height="40.8" fill="#dedede" stroke="#a3a3a3" stroke-width="2.75"/>
<line x1="1489" y1="2063.8" x2="1489" y2="2169.9" stroke="#7d7cc4" stroke-width="2.75" stroke-linecap="butt"/>
<line x1="1479.25" y1="2063.8" x2="1498.75" y2="2063.8" stroke="#7d7cc4" stroke-width="2.75" stroke-linecap="butt"/>
<rect x="1471" y="2169.9" width="36" height="144.5" fill="#b1b0da" stroke="#7d7cc4" stroke-width="2.75"/>
<text font-size="28.2" text-anchor="middle" transform="translate(1567.9 2165.6) rotate(-90) scale(1 1.05)" stroke="#000" stroke-width="0.3">IFNγ [pg/ml]</text>
<text font-size="28.2" text-anchor="middle" transform="translate(1741.8 1979.5) scale(1 1.05)" stroke="#000" stroke-width="0.3">Pooled</text>
<line x1="1683.5" y1="2109.4" x2="1683.5" y2="2224.4" stroke="#000" stroke-width="2.75" stroke-linecap="butt"/>
<line x1="1683.5" y1="2305.2" x2="1683.5" y2="2311.8" stroke="#000" stroke-width="2.75" stroke-linecap="butt"/>
<line x1="1673.75" y1="2109.4" x2="1693.25" y2="2109.4" stroke="#000" stroke-width="2.75" stroke-linecap="butt"/>
<line x1="1673.75" y1="2311.8" x2="1693.25" y2="2311.8" stroke="#000" stroke-width="2.75" stroke-linecap="butt"/>
<rect x="1665.5" y="2224.4" width="36" height="80.8" fill="#fff" stroke="#000" stroke-width="2.75"/>
<line x1="1665.5" y1="2302.4" x2="1701.5" y2="2302.4" stroke="#000" stroke-width="2.75" stroke-linecap="butt"/>
<line x1="1741.4" y1="2173.2" x2="1741.4" y2="2264.8" stroke="#a3a3a3" stroke-width="2.75" stroke-linecap="butt"/>
<line x1="1741.4" y1="2307" x2="1741.4" y2="2311.2" stroke="#a3a3a3" stroke-width="2.75" stroke-linecap="butt"/>
<line x1="1731.65" y1="2173.2" x2="1751.15" y2="2173.2" stroke="#a3a3a3" stroke-width="2.75" stroke-linecap="butt"/>
<line x1="1731.65" y1="2311.2" x2="1751.15" y2="2311.2" stroke="#a3a3a3" stroke-width="2.75" stroke-linecap="butt"/>
<rect x="1723.4" y="2264.8" width="36" height="42.2" fill="#dedede" stroke="#a3a3a3" stroke-width="2.75"/>
<line x1="1723.4" y1="2300.5" x2="1759.4" y2="2300.5" stroke="#a3a3a3" stroke-width="2.75" stroke-linecap="butt"/>
<line x1="1799.4" y1="2056" x2="1799.4" y2="2157" stroke="#7d7cc4" stroke-width="2.75" stroke-linecap="butt"/>
<line x1="1799.4" y1="2284.6" x2="1799.4" y2="2299.4" stroke="#7d7cc4" stroke-width="2.75" stroke-linecap="butt"/>
<line x1="1789.65" y1="2056" x2="1809.15" y2="2056" stroke="#7d7cc4" stroke-width="2.75" stroke-linecap="butt"/>
<line x1="1789.65" y1="2299.4" x2="1809.15" y2="2299.4" stroke="#7d7cc4" stroke-width="2.75" stroke-linecap="butt"/>
<rect x="1781.4" y="2157" width="36" height="127.6" fill="#b1b0da" stroke="#7d7cc4" stroke-width="2.75"/>
<line x1="1781.4" y1="2269.5" x2="1817.4" y2="2269.5" stroke="#7d7cc4" stroke-width="2.75" stroke-linecap="butt"/>
<line x1="1741.2" y1="2024.3" x2="1799.6" y2="2024.3" stroke="#000" stroke-width="3.3" stroke-linecap="butt"/>
<text x="1770.3" y="2020.9" font-size="22.5" text-anchor="middle" class="st" stroke="#000" stroke-width="1.3" stroke-linejoin="round">*</text>
<rect x="1279.2" y="1895.3" width="21.6" height="21.6" rx="0.7" fill="#fff" stroke="#000" stroke-width="2.2"/>
<text font-size="26.6" transform="translate(1309.8 1914.3) scale(1 1.05)" stroke="#000" stroke-width="0.3">Untreated</text>
<rect x="1455" y="1894.2" width="21.6" height="21.6" rx="0.7" fill="#dedede" stroke="#a3a3a3" stroke-width="2.2"/>
<text font-size="26.6" transform="translate(1492.6 1914.3) scale(1 1.05)" stroke="#000" stroke-width="0.3">MOPC_SDIE</text>
<rect x="1689.7" y="1893.5" width="21.6" height="21.6" rx="0.7" fill="#b1b0da" stroke="#7d7cc4" stroke-width="2.2"/>
<text font-size="26.6" transform="translate(1721.2 1914.3) scale(1 1.05)" stroke="#000" stroke-width="0.3">8H8_SDIE</text>
<line x1="1334" y1="1513.7" x2="1334" y2="1806.4" stroke="#000" stroke-width="3" stroke-linecap="butt"/>
<line x1="1321.5" y1="1804.9" x2="1529.5" y2="1804.9" stroke="#000" stroke-width="3" stroke-linecap="butt"/>
<text font-size="28.2" text-anchor="end" transform="translate(1318 1815.1) scale(1 1.05)" stroke="#000" stroke-width="0.3">0</text>
<line x1="1321.5" y1="1732.48" x2="1334" y2="1732.48" stroke="#000" stroke-width="3" stroke-linecap="butt"/>
<text font-size="28.2" text-anchor="end" transform="translate(1318 1742.68) scale(1 1.05)" stroke="#000" stroke-width="0.3">200</text>
<line x1="1321.5" y1="1660.05" x2="1334" y2="1660.05" stroke="#000" stroke-width="3" stroke-linecap="butt"/>
<text font-size="28.2" text-anchor="end" transform="translate(1318 1670.25) scale(1 1.05)" stroke="#000" stroke-width="0.3">400</text>
<line x1="1321.5" y1="1587.62" x2="1334" y2="1587.62" stroke="#000" stroke-width="3" stroke-linecap="butt"/>
<text font-size="28.2" text-anchor="end" transform="translate(1318 1597.83) scale(1 1.05)" stroke="#000" stroke-width="0.3">600</text>
<line x1="1321.5" y1="1515.2" x2="1334" y2="1515.2" stroke="#000" stroke-width="3" stroke-linecap="butt"/>
<text font-size="28.2" text-anchor="end" transform="translate(1318 1525.4) scale(1 1.05)" stroke="#000" stroke-width="0.3">800</text>
<line x1="1647.3" y1="1513.7" x2="1647.3" y2="1806.7" stroke="#000" stroke-width="3" stroke-linecap="butt"/>
<line x1="1634.8" y1="1805.2" x2="1842.8" y2="1805.2" stroke="#000" stroke-width="3" stroke-linecap="butt"/>
<text font-size="28.2" text-anchor="end" transform="translate(1631.3 1815.4) scale(1 1.05)" stroke="#000" stroke-width="0.3">0</text>
<line x1="1634.8" y1="1732.7" x2="1647.3" y2="1732.7" stroke="#000" stroke-width="3" stroke-linecap="butt"/>
<text font-size="28.2" text-anchor="end" transform="translate(1631.3 1742.9) scale(1 1.05)" stroke="#000" stroke-width="0.3">50</text>
<line x1="1634.8" y1="1660.2" x2="1647.3" y2="1660.2" stroke="#000" stroke-width="3" stroke-linecap="butt"/>
<text font-size="28.2" text-anchor="end" transform="translate(1631.3 1670.4) scale(1 1.05)" stroke="#000" stroke-width="0.3">100</text>
<line x1="1634.8" y1="1587.7" x2="1647.3" y2="1587.7" stroke="#000" stroke-width="3" stroke-linecap="butt"/>
<text font-size="28.2" text-anchor="end" transform="translate(1631.3 1597.9) scale(1 1.05)" stroke="#000" stroke-width="0.3">150</text>
<line x1="1634.8" y1="1515.2" x2="1647.3" y2="1515.2" stroke="#000" stroke-width="3" stroke-linecap="butt"/>
<text font-size="28.2" text-anchor="end" transform="translate(1631.3 1525.4) scale(1 1.05)" stroke="#000" stroke-width="0.3">200</text>
<line x1="1334" y1="2021.7" x2="1334" y2="2315.9" stroke="#000" stroke-width="3" stroke-linecap="butt"/>
<line x1="1321.5" y1="2314.4" x2="1528.5" y2="2314.4" stroke="#000" stroke-width="3" stroke-linecap="butt"/>
<text font-size="28.2" text-anchor="end" transform="translate(1318 2324.6) scale(1 1.05)" stroke="#000" stroke-width="0.3">0</text>
<line x1="1321.5" y1="2241.6" x2="1334" y2="2241.6" stroke="#000" stroke-width="3" stroke-linecap="butt"/>
<text font-size="28.2" text-anchor="end" transform="translate(1318 2251.8) scale(1 1.05)" stroke="#000" stroke-width="0.3">50</text>
<line x1="1321.5" y1="2168.8" x2="1334" y2="2168.8" stroke="#000" stroke-width="3" stroke-linecap="butt"/>
<text font-size="28.2" text-anchor="end" transform="translate(1318 2179) scale(1 1.05)" stroke="#000" stroke-width="0.3">100</text>
<line x1="1321.5" y1="2096" x2="1334" y2="2096" stroke="#000" stroke-width="3" stroke-linecap="butt"/>
<text font-size="28.2" text-anchor="end" transform="translate(1318 2106.2) scale(1 1.05)" stroke="#000" stroke-width="0.3">150</text>
<line x1="1321.5" y1="2023.2" x2="1334" y2="2023.2" stroke="#000" stroke-width="3" stroke-linecap="butt"/>
<text font-size="28.2" text-anchor="end" transform="translate(1318 2033.4) scale(1 1.05)" stroke="#000" stroke-width="0.3">200</text>
<line x1="1645" y1="2021.7" x2="1645" y2="2316" stroke="#000" stroke-width="3" stroke-linecap="butt"/>
<line x1="1632.5" y1="2314.5" x2="1839.8" y2="2314.5" stroke="#000" stroke-width="3" stroke-linecap="butt"/>
<text font-size="28.2" text-anchor="end" transform="translate(1629 2324.7) scale(1 1.05)" stroke="#000" stroke-width="0.3">0</text>
<line x1="1632.5" y1="2241.68" x2="1645" y2="2241.68" stroke="#000" stroke-width="3" stroke-linecap="butt"/>
<text font-size="28.2" text-anchor="end" transform="translate(1629 2251.88) scale(1 1.05)" stroke="#000" stroke-width="0.3">200</text>
<line x1="1632.5" y1="2168.85" x2="1645" y2="2168.85" stroke="#000" stroke-width="3" stroke-linecap="butt"/>
<text font-size="28.2" text-anchor="end" transform="translate(1629 2179.05) scale(1 1.05)" stroke="#000" stroke-width="0.3">400</text>
<line x1="1632.5" y1="2096.03" x2="1645" y2="2096.03" stroke="#000" stroke-width="3" stroke-linecap="butt"/>
<text font-size="28.2" text-anchor="end" transform="translate(1629 2106.22) scale(1 1.05)" stroke="#000" stroke-width="0.3">600</text>
<line x1="1632.5" y1="2023.2" x2="1645" y2="2023.2" stroke="#000" stroke-width="3" stroke-linecap="butt"/>
<text font-size="28.2" text-anchor="end" transform="translate(1629 2033.4) scale(1 1.05)" stroke="#000" stroke-width="0.3">800</text>
<line x1="789.2" y1="125" x2="789.2" y2="403.4" stroke="#000" stroke-width="3.8" stroke-linecap="butt"/>
<polygon points="789.2,105.5 797,128.3 781.4,128.3" fill="#000"/>
<line x1="787.3" y1="401.6" x2="1580" y2="401.6" stroke="#000" stroke-width="3.6" stroke-linecap="butt"/>
<polygon points="1601,401.6 1578,393.8 1578,409.4" fill="#000"/>
<text font-size="25.4" text-anchor="middle" transform="translate(765 254) rotate(-90) scale(1 1.05)" stroke="#000" stroke-width="0.3">CD56</text>
<text font-size="26.3" text-anchor="middle" transform="translate(1132.7 443) scale(1 1.05)" stroke="#000" stroke-width="0.3">CD107a</text>
<defs><filter id="bl" x="-50%" y="-20%" width="200%" height="140%"><feGaussianBlur stdDeviation="3.2"/></filter></defs>
<rect x="858.3" y="226" width="21.5" height="81" rx="10.75" fill="#0a0a0a" opacity="0.8" filter="url(#bl)"/>
<path d="M883.0,180.5L882.9,185.2L882.7,189.1L882.3,192.6L881.8,195.9L881.1,199.1L880.2,202.1L879.2,204.8L877.9,207.2L876.4,209.2L874.8,210.7L873.0,211.9L871.0,212.6L868.9,213.0L866.3,212.8L863.9,212.2L862.1,211.1L860.5,209.7L859.0,208.1L857.7,206.4L856.5,204.5L855.3,202.5L854.3,200.2L853.5,197.7L852.8,194.9L852.1,191.9L851.6,188.7L851.0,185.1L850.6,180.5L850.3,177.0L850.4,174.1L850.8,171.4L851.4,168.9L852.1,166.6L853.0,164.5L854.1,162.6L855.4,161.1L857.0,160.0L858.6,159.3L860.4,158.8L862.1,158.5L864.0,158.3L866.3,158.2L868.7,158.3L870.7,158.6L872.5,159.1L874.2,160.0L875.8,161.0L877.2,162.3L878.5,163.7L879.6,165.4L880.6,167.4L881.3,169.5L881.9,171.9L882.4,174.4L882.8,177.1ZM881.0,180.5L880.9,184.6L880.7,188.0L880.4,191.2L880.0,194.2L879.5,197.1L878.8,199.8L877.8,202.3L876.7,204.4L875.4,206.1L873.9,207.5L872.2,208.5L870.5,209.1L868.6,209.4L866.3,209.2L864.2,208.6L862.6,207.6L861.1,206.4L859.8,204.9L858.7,203.4L857.6,201.9L856.5,200.1L855.6,198.2L854.8,195.9L854.1,193.5L853.5,190.8L853.0,187.9L852.5,184.7L852.1,180.5L851.9,177.3L852.1,174.7L852.5,172.4L853.1,170.3L853.8,168.3L854.6,166.5L855.6,164.8L856.7,163.4L858.0,162.3L859.5,161.7L861.0,161.3L862.6,161.1L864.3,161.0L866.3,160.9L868.4,160.8L870.2,161.0L871.9,161.4L873.4,162.2L874.7,163.1L876.0,164.3L877.1,165.6L878.2,167.1L879.1,168.7L879.8,170.6L880.4,172.7L880.8,175.0L881.0,177.5ZM879.1,180.5L879.1,184.4L879.0,187.6L878.8,190.6L878.4,193.5L877.7,196.1L876.9,198.5L875.9,200.6L874.7,202.4L873.3,203.8L871.8,204.8L870.2,205.4L868.4,205.7L866.3,205.6L864.3,205.0L862.8,204.1L861.5,203.0L860.3,201.7L859.2,200.3L858.1,198.8L857.2,197.0L856.4,195.0L855.7,192.6L855.2,190.1L854.8,187.3L854.4,184.3L854.1,180.5L854.0,177.6L854.2,175.2L854.6,173.1L855.2,171.2L855.9,169.4L856.6,167.8L857.5,166.2L858.6,165.0L859.9,164.2L861.4,163.7L862.8,163.4L864.4,163.2L866.3,163.0L868.3,162.9L870.0,163.1L871.6,163.7L872.9,164.5L874.1,165.6L875.2,166.8L876.3,168.2L877.2,169.7L877.9,171.4L878.5,173.3L878.8,175.4L879.0,177.7ZM877.1,180.5L877.2,184.3L877.1,187.5L876.8,190.5L876.3,193.3L875.5,195.8L874.4,197.9L873.2,199.6L871.8,200.9L870.2,201.7L868.4,202.1L866.3,202.1L864.4,201.5L862.9,200.6L861.5,199.4L860.4,197.9L859.3,196.3L858.4,194.5L857.7,192.3L857.1,189.8L856.6,187.2L856.0,184.3L855.7,180.5L855.6,177.6L855.9,175.3L856.5,173.3L857.3,171.5L858.1,169.9L859.0,168.4L860.1,167.2L861.4,166.4L862.9,165.8L864.4,165.4L866.3,165.2L868.4,165.1L870.0,165.5L871.5,166.3L872.8,167.3L874.0,168.5L875.0,169.9L875.9,171.5L876.5,173.4L876.8,175.5L877.0,177.8ZM875.4,180.5L875.3,184.2L875.1,187.2L874.7,190.1L874.1,192.7L873.2,194.9L871.9,196.7L870.5,197.9L868.8,198.5L866.9,198.6L864.8,198.2L863.3,197.3L862.1,195.9L861.0,194.4L860.0,192.7L859.1,190.8L858.4,188.4L857.9,185.7L857.5,182.6L857.3,179.0L857.5,176.5L858.0,174.4L858.8,172.7L859.7,171.2L860.8,170.0L862.0,169.1L863.4,168.5L864.9,168.1L866.9,168.0L868.7,168.2L870.2,168.6L871.6,169.3L872.9,170.3L874.0,171.6L874.8,173.4L875.2,175.5L875.3,177.8ZM873.7,180.5L873.6,184.1L873.3,187.0L872.7,189.6L871.9,192.1L870.7,193.8L869.1,194.7L867.4,194.9L865.3,194.8L863.8,194.0L862.6,192.5L861.6,190.8L860.7,189.0L859.9,186.8L859.4,184.1L859.1,180.5L859.1,177.8L859.6,175.6L860.4,173.9L861.3,172.5L862.5,171.4L863.8,170.8L865.3,170.5L867.3,170.4L869.0,170.8L870.4,171.5L871.6,172.5L872.6,173.9L873.2,175.8L873.5,177.9ZM872.0,180.5L871.9,184.1L871.3,186.9L870.4,189.3L869.1,190.9L867.4,191.4L865.3,191.2L863.9,190.1L862.8,188.4L861.9,186.5L861.3,184.0L861.0,180.5L861.0,177.8L861.7,175.9L862.6,174.3L863.8,173.3L865.3,172.9L867.3,172.9L868.9,173.4L870.2,174.4L871.3,175.8L871.7,177.9ZM870.2,180.5L869.9,183.9L869.1,186.3L867.7,187.7L865.8,187.9L864.4,186.7L863.4,184.8L862.9,182.3L862.7,179.1L863.3,177.2L864.3,175.9L865.8,175.4L867.6,175.6L869.0,176.4L869.9,178.0ZM868.3,180.5L868.0,183.0L867.0,184.3L865.6,184.2L864.8,182.8L864.5,180.5L864.7,178.7L865.6,177.9L867.0,178.0L868.0,178.7Z" fill="#000" fill-opacity="0.0" stroke="#555" stroke-width="0.5" stroke-linejoin="round"/>
<path d="M881.0,205.0L881.1,208.7L881.0,212.0L880.5,215.0L879.8,217.7L879.1,220.3L878.3,222.7L877.3,224.9L876.2,226.8L874.9,228.3L873.5,229.4L872.1,230.4L870.5,231.2L868.9,231.9L867.0,232.4L865.1,232.4L863.5,231.8L862.0,230.8L860.7,229.3L859.5,227.7L858.4,226.1L857.4,224.3L856.4,222.3L855.5,220.1L854.8,217.6L854.2,214.9L853.7,211.9L853.3,208.8L853.2,205.0L853.3,201.5L853.7,198.5L854.2,195.9L854.8,193.4L855.5,191.0L856.2,188.7L857.0,186.5L858.0,184.6L859.3,183.1L860.6,182.0L862.0,181.1L863.5,180.5L865.1,180.0L867.0,179.9L868.9,180.2L870.5,180.8L872.0,181.7L873.4,182.7L874.8,183.8L876.1,185.0L877.3,186.6L878.3,188.6L879.0,191.0L879.4,193.6L879.7,196.2L880.1,198.9L880.5,201.7ZM879.1,205.0L879.1,208.4L878.9,211.4L878.4,214.1L877.9,216.6L877.2,219.0L876.4,221.2L875.4,223.1L874.2,224.6L873.0,225.7L871.7,226.7L870.3,227.5L868.8,228.2L867.0,228.6L865.3,228.6L863.8,228.0L862.4,227.0L861.2,225.7L860.1,224.2L859.1,222.6L858.2,220.8L857.4,218.7L856.7,216.5L856.1,214.1L855.6,211.4L855.3,208.4L855.2,205.0L855.4,201.8L855.7,199.2L856.2,196.7L856.7,194.4L857.2,192.1L858.0,190.0L858.9,188.2L859.9,186.7L861.1,185.5L862.4,184.5L863.8,183.8L865.3,183.4L867.0,183.3L868.8,183.6L870.3,184.3L871.6,185.0L872.9,185.9L874.2,187.0L875.4,188.3L876.4,190.0L877.1,192.1L877.6,194.5L877.9,196.9L878.3,199.3L878.8,201.9ZM877.3,205.0L877.3,208.4L877.0,211.3L876.5,213.9L875.8,216.3L875.0,218.5L873.9,220.3L872.8,221.7L871.5,222.8L870.2,223.8L868.7,224.6L867.0,224.9L865.3,224.7L863.9,224.0L862.6,222.8L861.5,221.4L860.5,219.8L859.6,218.0L858.8,216.0L858.1,213.7L857.6,211.2L857.2,208.3L857.2,205.0L857.3,201.9L857.7,199.3L858.1,196.9L858.7,194.7L859.4,192.6L860.3,190.8L861.3,189.3L862.5,188.2L863.9,187.3L865.3,186.8L867.0,186.7L868.7,187.1L870.2,187.8L871.5,188.6L872.8,189.6L873.9,190.9L874.8,192.7L875.5,194.8L876.0,197.1L876.5,199.4L877.0,201.9ZM875.3,205.0L875.2,208.4L874.8,211.2L874.2,213.7L873.5,216.0L872.4,217.8L871.1,219.1L869.8,220.0L868.3,220.8L866.5,221.2L864.9,220.8L863.6,219.7L862.5,218.2L861.5,216.5L860.6,214.6L859.9,212.3L859.4,209.7L859.1,206.8L859.1,203.4L859.4,200.6L859.9,198.2L860.5,195.9L861.3,194.0L862.3,192.4L863.5,191.1L864.9,190.3L866.5,190.0L868.3,190.4L869.8,191.2L871.1,192.2L872.3,193.3L873.3,195.0L874.0,197.2L874.6,199.5L875.0,202.0ZM873.4,205.0L873.3,208.3L872.8,210.9L872.0,213.2L870.9,214.9L869.7,216.1L868.3,217.0L866.5,217.3L865.0,216.8L863.8,215.6L862.8,213.9L861.9,212.0L861.3,209.6L861.0,206.7L861.0,203.4L861.4,200.8L861.9,198.5L862.7,196.5L863.7,195.0L865.0,194.0L866.5,193.6L868.3,194.0L869.7,194.8L870.9,195.9L871.9,197.5L872.6,199.6L873.1,202.0Z" fill="#000" fill-opacity="0.0" stroke="#666" stroke-width="0.45" stroke-linejoin="round"/>
<path d="M891.2,265.0L890.7,273.2L890.4,278.9L890.2,284.1L889.9,289.1L889.3,293.7L888.4,297.9L887.1,301.6L885.5,304.8L883.6,307.3L881.4,309.4L879.1,311.1L876.4,312.5L873.3,313.5L868.8,313.9L865.6,313.7L863.5,312.8L861.7,311.1L860.1,308.8L858.8,306.0L857.7,303.1L856.6,300.1L855.6,297.0L854.5,293.8L853.5,290.2L852.5,285.9L851.8,280.7L851.4,274.4L851.3,265.0L851.6,255.6L852.1,249.2L852.6,243.7L853.1,238.8L853.9,234.3L854.8,230.5L856.0,227.3L857.3,224.6L858.7,222.5L860.2,220.8L861.9,219.3L863.7,218.1L865.8,217.2L868.8,216.6L873.2,216.6L876.3,217.3L878.9,218.6L881.2,220.5L883.2,222.9L885.0,225.5L886.7,228.4L888.2,231.6L889.6,235.2L890.8,239.3L891.6,244.2L891.9,249.8L891.7,256.3ZM889.2,265.0L888.8,273.0L888.6,278.6L888.3,283.7L888.0,288.4L887.3,292.8L886.4,296.7L885.2,300.2L883.8,303.2L882.1,305.8L880.2,307.9L878.1,309.6L875.7,311.0L872.9,311.9L868.8,312.4L865.9,312.2L864.0,311.3L862.3,309.7L860.9,307.5L859.7,304.9L858.7,302.1L857.7,299.3L856.7,296.3L855.7,293.1L854.9,289.5L854.1,285.2L853.5,280.1L853.2,274.0L853.1,265.0L853.3,255.9L853.6,249.7L854.0,244.3L854.5,239.4L855.2,235.2L856.1,231.5L857.1,228.3L858.3,225.7L859.6,223.5L861.0,221.7L862.5,220.3L864.1,219.2L866.0,218.4L868.8,218.0L872.8,218.1L875.6,218.8L878.0,220.1L880.0,221.9L881.9,224.1L883.6,226.6L885.1,229.2L886.6,232.2L888.0,235.6L889.1,239.7L889.8,244.5L890.0,250.1L889.8,256.4ZM888.3,265.0L888.1,273.0L887.9,278.6L887.6,283.7L887.2,288.3L886.4,292.5L885.5,296.2L884.3,299.5L882.9,302.4L881.4,305.0L879.6,307.2L877.6,309.0L875.3,310.3L872.7,311.2L868.8,311.6L866.1,311.3L864.2,310.4L862.7,308.9L861.3,306.9L860.2,304.5L859.1,301.9L858.1,299.1L857.2,296.1L856.4,292.8L855.6,289.0L855.1,284.6L854.6,279.5L854.4,273.6L854.3,265.0L854.3,256.2L854.5,250.0L854.8,244.6L855.3,239.9L855.9,235.6L856.8,232.0L857.7,228.8L858.8,226.2L860.0,224.0L861.3,222.2L862.8,220.8L864.4,219.8L866.2,219.1L868.8,218.9L872.6,219.1L875.2,219.8L877.4,221.1L879.4,222.9L881.1,225.0L882.7,227.4L884.2,230.0L885.6,232.9L886.9,236.3L887.9,240.2L888.6,245.0L888.8,250.4L888.7,256.6ZM887.5,265.0L887.4,273.0L887.2,278.6L886.9,283.6L886.4,288.1L885.7,292.2L884.8,295.9L883.6,299.1L882.3,301.9L880.7,304.3L879.1,306.4L877.2,308.2L875.0,309.5L872.5,310.4L868.8,310.7L866.2,310.4L864.5,309.6L863.0,308.2L861.7,306.3L860.5,304.1L859.5,301.6L858.6,298.8L857.7,295.7L857.0,292.3L856.3,288.5L855.8,284.2L855.4,279.3L855.1,273.5L854.9,265.0L855.0,256.3L855.2,250.3L855.5,245.0L856.0,240.4L856.6,236.2L857.4,232.6L858.3,229.4L859.3,226.8L860.4,224.5L861.7,222.7L863.0,221.3L864.5,220.3L866.3,219.6L868.8,219.3L872.4,219.6L874.9,220.4L877.0,221.7L878.9,223.5L880.5,225.5L882.1,227.9L883.5,230.5L884.8,233.4L886.0,236.7L887.0,240.7L887.6,245.3L887.9,250.6L887.8,256.7ZM887.1,265.0L886.9,273.0L886.6,278.6L886.3,283.5L885.7,287.9L885.0,291.9L884.1,295.5L883.0,298.6L881.7,301.4L880.2,303.8L878.6,305.9L876.8,307.6L874.7,309.0L872.3,309.8L868.8,310.1L866.3,309.9L864.6,309.1L863.2,307.7L861.9,306.0L860.8,303.8L859.8,301.3L859.0,298.5L858.2,295.4L857.5,292.0L856.9,288.2L856.3,284.0L855.9,279.2L855.5,273.5L855.3,265.0L855.4,256.3L855.7,250.4L856.1,245.3L856.6,240.8L857.2,236.7L857.9,233.2L858.8,230.0L859.7,227.4L860.8,225.2L862.0,223.4L863.3,222.0L864.7,221.0L866.4,220.3L868.8,220.1L872.2,220.3L874.6,221.0L876.7,222.3L878.4,224.0L880.0,226.1L881.5,228.5L882.8,231.2L884.0,234.1L885.1,237.4L886.0,241.3L886.7,245.7L887.1,250.8L887.2,256.7ZM886.3,265.0L886.1,272.9L885.8,278.4L885.5,283.1L885.0,287.5L884.3,291.4L883.4,294.9L882.3,298.1L881.1,300.9L879.8,303.3L878.2,305.4L876.5,307.2L874.5,308.5L872.2,309.3L868.8,309.6L866.4,309.3L864.8,308.4L863.4,307.2L862.2,305.5L861.1,303.5L860.2,301.1L859.3,298.3L858.6,295.2L857.9,291.7L857.3,287.9L856.8,283.7L856.4,279.0L856.0,273.4L855.8,265.0L855.9,256.4L856.2,250.5L856.6,245.5L857.1,241.1L857.7,237.1L858.4,233.6L859.1,230.4L860.1,227.8L861.1,225.6L862.2,223.8L863.5,222.5L864.9,221.5L866.5,220.9L868.8,220.8L872.1,221.0L874.4,221.8L876.3,223.0L878.0,224.6L879.6,226.6L881.0,228.9L882.2,231.5L883.4,234.5L884.4,237.8L885.3,241.6L885.9,246.0L886.3,251.0L886.4,256.8ZM885.6,265.0L885.4,272.8L885.2,278.2L884.9,283.0L884.3,287.2L883.6,291.0L882.8,294.5L881.8,297.5L880.6,300.3L879.3,302.7L877.8,304.7L876.2,306.4L874.3,307.7L872.0,308.4L868.8,308.7L866.6,308.5L865.0,307.8L863.6,306.7L862.5,305.1L861.4,303.2L860.5,300.8L859.6,298.1L858.9,295.0L858.3,291.6L857.7,287.8L857.3,283.6L856.9,278.8L856.5,273.3L856.4,265.0L856.4,256.5L856.7,250.7L857.1,245.7L857.5,241.3L858.1,237.4L858.7,233.8L859.5,230.8L860.4,228.1L861.4,226.0L862.5,224.3L863.7,223.0L865.1,222.0L866.6,221.5L868.8,221.3L872.0,221.5L874.2,222.1L876.1,223.3L877.7,224.9L879.2,226.8L880.5,229.2L881.8,231.8L882.9,234.7L883.8,238.1L884.6,241.9L885.2,246.2L885.6,251.2L885.7,256.9ZM884.9,265.0L884.8,272.7L884.6,278.1L884.3,282.9L883.8,287.1L883.1,290.9L882.3,294.3L881.3,297.3L880.2,300.0L878.9,302.3L877.5,304.3L875.9,305.9L874.0,307.0L871.9,307.7L868.8,307.9L866.6,307.7L865.2,307.1L863.9,306.0L862.7,304.5L861.7,302.6L860.8,300.3L860.0,297.7L859.3,294.7L858.7,291.3L858.1,287.6L857.7,283.4L857.3,278.7L857.0,273.1L856.9,265.0L857.0,256.7L857.3,251.0L857.6,246.1L858.0,241.8L858.6,237.9L859.2,234.4L859.9,231.3L860.7,228.6L861.7,226.4L862.7,224.7L863.9,223.4L865.2,222.5L866.7,221.9L868.8,221.7L871.9,221.8L874.0,222.4L875.8,223.6L877.4,225.1L878.9,227.1L880.1,229.5L881.3,232.1L882.3,235.0L883.3,238.3L884.0,242.1L884.6,246.4L884.9,251.4L885.0,257.0ZM884.5,265.0L884.4,272.7L884.2,278.1L883.9,282.8L883.3,287.0L882.7,290.7L881.8,294.0L880.9,297.0L879.8,299.6L878.5,301.8L877.1,303.7L875.6,305.3L873.8,306.4L871.8,307.1L868.8,307.4L866.7,307.2L865.3,306.5L864.1,305.5L863.0,304.0L862.0,302.1L861.1,299.9L860.3,297.2L859.7,294.2L859.1,290.9L858.6,287.2L858.2,283.0L857.9,278.4L857.6,273.0L857.5,265.0L857.5,256.8L857.7,251.1L858.0,246.3L858.5,242.1L859.0,238.3L859.6,234.8L860.2,231.7L861.0,229.0L861.9,226.7L862.9,224.9L864.0,223.6L865.3,222.7L866.7,222.2L868.8,222.1L871.7,222.3L873.8,223.0L875.5,224.1L877.1,225.6L878.5,227.5L879.7,229.8L880.9,232.4L881.9,235.3L882.7,238.6L883.5,242.4L884.0,246.7L884.3,251.5L884.5,257.1ZM883.8,265.0L883.8,272.6L883.6,277.9L883.3,282.6L882.8,286.7L882.2,290.4L881.4,293.7L880.4,296.6L879.3,299.1L878.1,301.3L876.8,303.2L875.3,304.7L873.6,305.8L871.6,306.5L868.8,306.8L866.8,306.6L865.4,305.9L864.3,304.8L863.2,303.4L862.3,301.5L861.4,299.3L860.7,296.7L860.1,293.7L859.5,290.3L859.1,286.7L858.6,282.7L858.3,278.2L857.9,272.9L857.7,265.0L857.7,256.7L858.0,251.1L858.3,246.4L858.8,242.2L859.3,238.4L859.9,235.0L860.5,232.0L861.3,229.3L862.2,227.1L863.1,225.3L864.2,223.9L865.4,223.0L866.8,222.6L868.8,222.6L871.6,222.9L873.6,223.6L875.3,224.7L876.8,226.0L878.2,227.8L879.4,229.9L880.5,232.4L881.5,235.4L882.3,238.8L882.9,242.6L883.4,246.9L883.7,251.7L883.8,257.2ZM883.5,265.0L883.4,272.6L883.2,277.9L882.8,282.5L882.3,286.5L881.7,290.2L880.9,293.4L880.0,296.3L879.0,298.8L877.8,301.0L876.5,302.8L875.1,304.3L873.4,305.3L871.5,306.0L868.8,306.2L866.9,306.0L865.6,305.4L864.4,304.4L863.4,302.9L862.5,301.1L861.7,298.9L861.0,296.3L860.4,293.3L859.9,290.1L859.4,286.5L859.0,282.5L858.7,278.1L858.4,272.8L858.2,265.0L858.2,256.9L858.4,251.3L858.7,246.6L859.1,242.4L859.6,238.7L860.2,235.3L860.8,232.4L861.6,229.8L862.4,227.6L863.4,225.9L864.4,224.5L865.6,223.6L866.9,223.0L868.8,222.9L871.5,223.2L873.4,223.9L875.1,225.0L876.5,226.5L877.8,228.3L879.0,230.5L880.0,233.0L880.9,235.9L881.7,239.2L882.4,242.9L882.9,247.1L883.3,251.8L883.5,257.2ZM883.0,265.0L882.9,272.5L882.6,277.7L882.3,282.2L881.8,286.2L881.1,289.8L880.4,292.9L879.5,295.8L878.6,298.3L877.5,300.5L876.2,302.4L874.9,303.9L873.3,305.0L871.4,305.7L868.8,305.9L867.0,305.7L865.7,305.0L864.6,304.0L863.6,302.6L862.7,300.8L861.9,298.6L861.3,296.0L860.7,293.1L860.2,289.9L859.7,286.3L859.4,282.3L859.0,277.9L858.8,272.7L858.7,265.0L858.7,257.1L858.9,251.6L859.2,247.0L859.6,242.8L860.0,239.1L860.5,235.8L861.2,232.9L861.9,230.5L862.7,228.3L863.6,226.6L864.6,225.2L865.7,224.2L867.0,223.5L868.8,223.3L871.4,223.5L873.3,224.1L874.9,225.1L876.3,226.6L877.5,228.4L878.7,230.6L879.6,233.2L880.5,236.2L881.3,239.5L881.9,243.2L882.4,247.3L882.7,251.9L883.0,257.3ZM882.4,265.0L882.3,272.4L882.0,277.5L881.7,281.9L881.2,285.8L880.6,289.3L879.9,292.5L879.1,295.3L878.2,297.9L877.1,300.1L876.0,302.0L874.6,303.5L873.1,304.6L871.4,305.3L868.8,305.6L867.0,305.4L865.8,304.7L864.7,303.7L863.8,302.2L862.9,300.4L862.2,298.2L861.5,295.7L861.0,292.9L860.5,289.7L860.0,286.1L859.7,282.2L859.4,277.8L859.2,272.6L859.1,265.0L859.1,257.2L859.3,251.8L859.6,247.3L860.0,243.2L860.4,239.6L860.9,236.4L861.5,233.5L862.2,230.9L862.9,228.8L863.8,226.9L864.7,225.5L865.8,224.4L867.0,223.8L868.8,223.6L871.4,223.8L873.1,224.4L874.7,225.5L876.0,227.0L877.2,228.8L878.3,231.1L879.2,233.6L880.1,236.6L880.8,239.8L881.4,243.5L881.8,247.5L882.2,252.1L882.4,257.4ZM881.7,265.0L881.7,272.2L881.5,277.3L881.2,281.7L880.8,285.6L880.2,289.1L879.5,292.3L878.8,295.1L877.9,297.6L876.8,299.8L875.7,301.6L874.4,303.1L873.0,304.2L871.3,304.9L868.8,305.2L867.1,305.0L865.9,304.4L864.9,303.4L864.0,302.0L863.1,300.1L862.4,298.0L861.8,295.4L861.3,292.5L860.8,289.3L860.4,285.8L860.1,281.9L859.8,277.5L859.7,272.4L859.6,265.0L859.6,257.4L859.7,252.1L860.0,247.6L860.3,243.5L860.7,239.9L861.2,236.7L861.8,233.8L862.4,231.2L863.1,229.1L864.0,227.3L864.9,225.9L865.9,224.9L867.1,224.2L868.8,224.1L871.3,224.3L873.0,224.9L874.4,225.9L875.7,227.4L876.9,229.2L877.9,231.4L878.9,233.9L879.7,236.8L880.3,240.1L880.9,243.7L881.3,247.8L881.6,252.3L881.7,257.6ZM881.1,265.0L881.1,272.1L880.9,277.1L880.7,281.4L880.3,285.3L879.8,288.8L879.1,292.0L878.4,294.8L877.5,297.2L876.5,299.4L875.4,301.2L874.2,302.6L872.8,303.7L871.2,304.4L868.8,304.6L867.2,304.5L866.0,303.9L865.0,302.9L864.1,301.5L863.4,299.7L862.7,297.5L862.1,295.1L861.5,292.3L861.1,289.1L860.7,285.6L860.4,281.7L860.2,277.4L860.0,272.3L860.0,265.0L860.0,257.5L860.1,252.3L860.4,247.8L860.7,243.8L861.0,240.2L861.5,237.0L862.0,234.1L862.6,231.6L863.3,229.5L864.1,227.7L865.0,226.3L866.0,225.2L867.1,224.6L868.8,224.3L871.2,224.5L872.8,225.1L874.3,226.2L875.5,227.7L876.6,229.5L877.6,231.7L878.5,234.3L879.3,237.1L879.9,240.3L880.4,244.0L880.8,248.0L881.1,252.5L881.1,257.7ZM880.8,265.0L880.7,272.1L880.6,277.1L880.3,281.4L879.9,285.2L879.4,288.7L878.8,291.8L878.1,294.6L877.2,297.0L876.3,299.1L875.2,300.8L874.0,302.2L872.6,303.2L871.1,303.8L868.8,304.0L867.2,303.9L866.1,303.3L865.2,302.3L864.3,300.9L863.6,299.2L862.9,297.1L862.3,294.7L861.8,292.0L861.4,288.9L861.0,285.4L860.7,281.6L860.5,277.3L860.3,272.3L860.3,265.0L860.3,257.6L860.4,252.4L860.6,248.0L860.9,244.0L861.3,240.5L861.8,237.3L862.3,234.4L862.9,232.0L863.5,229.8L864.3,228.1L865.1,226.7L866.1,225.7L867.2,225.1L868.8,224.9L871.1,225.1L872.7,225.8L874.0,226.8L875.2,228.3L876.3,230.1L877.2,232.3L878.1,234.8L878.8,237.6L879.4,240.8L879.9,244.3L880.3,248.2L880.6,252.7L880.7,257.8ZM880.3,265.0L880.2,272.0L880.1,276.9L879.9,281.2L879.5,285.0L879.0,288.5L878.4,291.6L877.7,294.3L876.9,296.7L876.0,298.7L875.0,300.4L873.8,301.8L872.5,302.8L871.0,303.4L868.8,303.7L867.3,303.5L866.2,302.9L865.3,301.8L864.5,300.4L863.8,298.7L863.2,296.7L862.6,294.3L862.1,291.7L861.6,288.7L861.3,285.3L861.0,281.4L860.8,277.1L860.7,272.1L860.7,265.0L860.7,257.8L860.8,252.7L861.0,248.3L861.3,244.4L861.6,240.8L862.0,237.6L862.5,234.8L863.1,232.3L863.7,230.2L864.5,228.5L865.3,227.1L866.2,226.1L867.3,225.5L868.8,225.2L871.0,225.4L872.5,226.1L873.8,227.2L875.0,228.7L876.0,230.6L876.9,232.7L877.7,235.2L878.4,237.9L879.0,241.0L879.5,244.5L879.9,248.4L880.2,252.8L880.3,257.8ZM879.9,265.0L879.8,271.9L879.6,276.7L879.4,280.9L879.1,284.8L878.7,288.3L878.1,291.4L877.5,294.2L876.7,296.6L875.8,298.6L874.7,300.2L873.6,301.5L872.4,302.5L870.9,303.1L868.8,303.4L867.3,303.3L866.3,302.6L865.4,301.6L864.7,300.1L864.0,298.3L863.4,296.3L862.8,293.9L862.3,291.3L861.9,288.3L861.6,284.9L861.4,281.1L861.2,276.8L861.1,271.9L861.1,265.0L861.1,257.9L861.2,253.0L861.4,248.6L861.6,244.7L861.9,241.2L862.3,238.0L862.8,235.3L863.3,232.8L864.0,230.8L864.7,229.1L865.4,227.8L866.3,226.8L867.3,226.2L868.8,226.0L870.9,226.1L872.4,226.7L873.6,227.7L874.7,229.1L875.7,230.8L876.6,232.9L877.4,235.3L878.1,238.1L878.7,241.2L879.1,244.7L879.5,248.6L879.7,252.9L879.9,257.9ZM879.4,265.0L879.4,271.8L879.2,276.6L879.0,280.8L878.7,284.6L878.3,288.0L877.7,291.1L877.1,293.8L876.3,296.1L875.5,298.1L874.5,299.8L873.4,301.1L872.2,302.0L870.8,302.7L868.8,302.9L867.4,302.8L866.4,302.2L865.6,301.2L864.8,299.7L864.2,298.0L863.6,295.9L863.1,293.6L862.6,290.9L862.2,288.0L861.9,284.7L861.6,280.9L861.5,276.7L861.4,271.9L861.4,265.0L861.4,258.0L861.6,253.2L861.7,248.9L861.9,245.1L862.2,241.6L862.6,238.4L863.0,235.6L863.6,233.2L864.2,231.2L864.8,229.6L865.6,228.3L866.4,227.3L867.4,226.7L868.8,226.5L870.8,226.6L872.2,227.2L873.4,228.1L874.5,229.5L875.5,231.2L876.3,233.3L877.1,235.6L877.7,238.3L878.3,241.4L878.8,244.8L879.1,248.7L879.3,253.0L879.4,258.0ZM879.0,265.0L879.0,271.8L878.8,276.5L878.6,280.7L878.3,284.4L877.9,287.7L877.4,290.7L876.7,293.4L876.0,295.8L875.2,297.8L874.3,299.4L873.2,300.7L872.1,301.6L870.7,302.2L868.8,302.5L867.4,302.3L866.5,301.8L865.7,300.8L865.0,299.4L864.4,297.6L863.8,295.6L863.3,293.3L862.8,290.7L862.5,287.7L862.2,284.4L861.9,280.7L861.8,276.5L861.7,271.8L861.7,265.0L861.8,258.1L861.9,253.3L862.0,249.1L862.2,245.4L862.5,242.0L862.9,238.9L863.3,236.1L863.8,233.7L864.3,231.6L865.0,229.9L865.7,228.7L866.5,227.7L867.5,227.2L868.8,227.0L870.7,227.1L872.1,227.7L873.2,228.6L874.3,230.0L875.2,231.7L876.0,233.7L876.7,236.0L877.4,238.7L877.9,241.7L878.3,245.1L878.7,249.0L878.9,253.2L879.0,258.1ZM878.6,265.0L878.5,271.7L878.4,276.3L878.1,280.3L877.8,283.9L877.4,287.2L876.9,290.2L876.4,292.9L875.7,295.3L874.9,297.4L874.1,299.0L873.1,300.3L872.0,301.2L870.7,301.7L868.8,301.9L867.5,301.8L866.6,301.2L865.8,300.3L865.1,298.9L864.5,297.2L864.0,295.2L863.5,292.9L863.1,290.4L862.7,287.4L862.5,284.1L862.3,280.4L862.2,276.3L862.1,271.6L862.0,265.0L862.0,258.1L862.1,253.3L862.2,249.1L862.5,245.5L862.8,242.2L863.1,239.1L863.5,236.4L864.0,234.0L864.5,231.9L865.1,230.3L865.8,229.0L866.6,228.1L867.5,227.6L868.8,227.4L870.7,227.5L872.0,228.0L873.1,229.0L874.1,230.3L874.9,232.0L875.7,234.1L876.4,236.4L877.0,239.0L877.5,242.0L877.9,245.4L878.2,249.2L878.4,253.4L878.5,258.2ZM878.2,265.0L878.2,271.6L878.0,276.2L877.8,280.2L877.4,283.7L877.0,286.9L876.6,289.8L876.1,292.6L875.4,295.0L874.7,297.0L873.8,298.6L872.9,299.8L871.8,300.6L870.6,301.1L868.8,301.3L867.6,301.2L866.7,300.7L866.0,299.8L865.3,298.5L864.7,296.8L864.2,294.9L863.7,292.7L863.3,290.1L863.0,287.2L862.7,283.9L862.5,280.2L862.4,276.1L862.3,271.6L862.3,265.0L862.3,258.2L862.3,253.4L862.5,249.3L862.7,245.7L863.0,242.4L863.3,239.5L863.7,236.8L864.2,234.5L864.7,232.5L865.3,230.9L866.0,229.6L866.7,228.7L867.6,228.1L868.8,227.8L870.6,227.9L871.8,228.5L872.9,229.5L873.8,230.9L874.6,232.6L875.4,234.6L876.1,236.8L876.7,239.3L877.2,242.2L877.6,245.6L877.9,249.3L878.0,253.5L878.1,258.2ZM877.9,265.0L877.8,271.6L877.7,276.2L877.5,280.1L877.1,283.6L876.8,286.8L876.3,289.7L875.8,292.4L875.2,294.7L874.5,296.7L873.6,298.3L872.7,299.4L871.7,300.1L870.5,300.6L868.8,300.8L867.6,300.6L866.8,300.1L866.1,299.2L865.5,298.0L864.9,296.4L864.4,294.5L864.0,292.3L863.6,289.8L863.2,286.9L863.0,283.7L862.8,280.0L862.7,276.0L862.6,271.5L862.6,265.0L862.6,258.4L862.7,253.7L862.8,249.6L863.0,246.0L863.3,242.8L863.6,239.9L864.0,237.2L864.4,234.9L864.9,233.0L865.5,231.5L866.1,230.3L866.8,229.3L867.6,228.7L868.8,228.4L870.5,228.5L871.7,229.0L872.7,230.0L873.6,231.4L874.4,233.1L875.1,235.0L875.8,237.2L876.3,239.6L876.9,242.5L877.3,245.7L877.5,249.4L877.7,253.6L877.8,258.3ZM877.4,265.0L877.4,271.5L877.3,276.1L877.1,279.9L876.8,283.4L876.4,286.4L875.9,289.3L875.5,291.9L874.9,294.3L874.2,296.3L873.4,297.9L872.6,299.0L871.6,299.7L870.4,300.1L868.8,300.2L867.7,300.0L866.9,299.5L866.2,298.7L865.6,297.5L865.1,296.0L864.6,294.1L864.2,291.9L863.8,289.4L863.5,286.6L863.2,283.4L863.1,279.9L862.9,275.9L862.9,271.4L862.9,265.0L862.9,258.5L862.9,253.9L863.1,249.8L863.3,246.2L863.5,243.0L863.8,240.1L864.2,237.5L864.6,235.3L865.1,233.4L865.6,231.8L866.2,230.6L866.9,229.7L867.7,229.2L868.8,228.9L870.4,229.1L871.5,229.7L872.5,230.6L873.4,231.9L874.1,233.5L874.8,235.4L875.5,237.5L876.0,240.0L876.5,242.8L876.8,246.1L877.1,249.7L877.3,253.8L877.4,258.4ZM877.1,265.0L877.1,271.5L877.0,276.0L876.7,279.8L876.4,283.2L876.1,286.3L875.7,289.1L875.2,291.7L874.6,294.0L874.0,295.9L873.2,297.5L872.4,298.5L871.4,299.2L870.3,299.5L868.8,299.6L867.7,299.4L867.0,298.9L866.3,298.2L865.8,297.0L865.2,295.5L864.8,293.7L864.4,291.6L864.0,289.1L863.7,286.4L863.5,283.3L863.3,279.8L863.2,275.8L863.1,271.3L863.2,265.0L863.2,258.6L863.3,254.1L863.4,250.2L863.5,246.6L863.8,243.4L864.0,240.5L864.4,238.0L864.8,235.8L865.3,233.9L865.8,232.4L866.3,231.1L867.0,230.2L867.7,229.7L868.8,229.5L870.3,229.7L871.4,230.3L872.3,231.2L873.1,232.5L873.9,234.1L874.5,235.9L875.1,237.9L875.7,240.3L876.2,243.0L876.5,246.2L876.8,249.8L877.0,253.8L877.1,258.4ZM876.7,265.0L876.6,271.3L876.5,275.6L876.2,279.4L876.0,282.7L875.7,285.8L875.3,288.6L874.9,291.2L874.3,293.5L873.7,295.5L873.0,297.1L872.2,298.1L871.3,298.8L870.3,299.1L868.8,299.2L867.8,298.9L867.1,298.4L866.5,297.5L865.9,296.4L865.4,294.9L865.0,293.1L864.6,291.1L864.2,288.8L863.9,286.1L863.7,283.1L863.5,279.6L863.4,275.7L863.4,271.3L863.4,265.0L863.4,258.6L863.5,254.2L863.6,250.3L863.8,246.9L864.0,243.7L864.3,240.9L864.6,238.4L865.0,236.2L865.4,234.3L865.9,232.7L866.4,231.5L867.1,230.6L867.8,230.1L868.8,230.0L870.3,230.2L871.3,230.8L872.2,231.7L872.9,233.0L873.6,234.6L874.2,236.4L874.8,238.4L875.3,240.7L875.8,243.4L876.2,246.4L876.5,249.8L876.7,253.8L876.7,258.5ZM876.3,265.0L876.3,271.2L876.1,275.5L875.9,279.2L875.6,282.5L875.3,285.5L875.0,288.2L874.6,290.8L874.1,293.1L873.5,295.0L872.8,296.5L872.0,297.5L871.2,298.1L870.2,298.4L868.8,298.5L867.8,298.3L867.2,297.9L866.6,297.2L866.0,296.1L865.6,294.6L865.2,292.8L864.8,290.7L864.5,288.4L864.2,285.7L864.0,282.8L863.8,279.4L863.7,275.6L863.7,271.2L863.7,265.0L863.7,258.8L863.8,254.4L863.9,250.5L864.0,247.1L864.2,244.0L864.5,241.2L864.8,238.8L865.2,236.7L865.6,234.8L866.0,233.2L866.6,231.9L867.1,231.0L867.8,230.5L868.8,230.4L870.2,230.7L871.2,231.4L872.0,232.3L872.7,233.5L873.4,235.0L874.0,236.7L874.6,238.7L875.0,241.0L875.5,243.6L875.8,246.7L876.1,250.2L876.2,254.1L876.3,258.6ZM875.9,265.0L875.9,271.1L875.7,275.3L875.5,278.9L875.3,282.1L875.0,285.1L874.6,287.8L874.3,290.3L873.8,292.6L873.2,294.4L872.6,295.9L871.9,296.9L871.0,297.5L870.1,297.8L868.8,297.9L867.9,297.8L867.2,297.4L866.7,296.8L866.2,295.7L865.7,294.2L865.3,292.5L865.0,290.4L864.7,288.1L864.4,285.5L864.2,282.6L864.0,279.4L863.9,275.5L863.9,271.2L863.9,265.0L863.9,258.8L864.0,254.4L864.1,250.6L864.2,247.1L864.4,244.1L864.7,241.4L865.0,239.1L865.4,237.2L865.8,235.4L866.2,233.9L866.7,232.6L867.2,231.6L867.9,231.0L868.8,230.9L870.1,231.2L871.0,231.9L871.8,232.9L872.5,234.2L873.1,235.7L873.7,237.4L874.2,239.3L874.7,241.5L875.1,244.1L875.4,247.1L875.7,250.4L875.9,254.2L875.9,258.7ZM875.6,265.0L875.5,271.0L875.4,275.2L875.2,278.7L874.9,281.8L874.6,284.8L874.3,287.5L874.0,290.0L873.5,292.2L873.0,294.0L872.4,295.4L871.7,296.4L870.9,297.0L870.0,297.4L868.8,297.5L867.9,297.3L867.3,296.9L866.8,296.2L866.3,295.1L865.9,293.6L865.6,291.8L865.2,289.8L864.9,287.6L864.7,285.1L864.4,282.2L864.3,279.0L864.2,275.3L864.2,271.0L864.2,265.0L864.3,259.0L864.3,254.8L864.4,251.0L864.5,247.5L864.6,244.4L864.9,241.7L865.2,239.5L865.6,237.6L865.9,236.0L866.3,234.5L866.8,233.2L867.3,232.2L867.9,231.5L868.8,231.2L870.1,231.4L870.9,232.1L871.7,233.2L872.3,234.5L872.9,236.0L873.5,237.7L874.0,239.6L874.4,241.8L874.8,244.3L875.1,247.3L875.4,250.6L875.5,254.4L875.6,258.8ZM875.2,265.0L875.1,270.9L875.0,275.0L874.8,278.5L874.6,281.6L874.3,284.4L874.0,287.0L873.6,289.4L873.2,291.6L872.8,293.4L872.2,294.9L871.5,296.0L870.8,296.6L870.0,296.9L868.8,297.0L868.0,296.8L867.4,296.4L866.9,295.6L866.5,294.6L866.1,293.2L865.7,291.5L865.4,289.5L865.1,287.3L864.9,284.8L864.7,282.0L864.5,278.9L864.4,275.2L864.4,271.0L864.4,265.0L864.4,259.0L864.5,254.8L864.6,251.1L864.7,247.8L864.9,244.8L865.1,242.2L865.4,240.0L865.7,238.0L866.1,236.4L866.5,234.9L866.9,233.7L867.4,232.8L868.0,232.1L868.8,231.9L870.0,232.2L870.8,232.8L871.5,233.8L872.1,235.1L872.7,236.6L873.2,238.3L873.6,240.2L874.1,242.3L874.4,244.8L874.7,247.6L875.0,250.9L875.1,254.6L875.2,258.9ZM874.8,265.0L874.7,270.8L874.7,274.9L874.5,278.3L874.3,281.4L874.0,284.1L873.7,286.6L873.4,288.9L873.0,291.0L872.5,292.9L872.0,294.3L871.4,295.3L870.7,295.9L869.9,296.2L868.8,296.3L868.0,296.2L867.5,295.9L867.0,295.2L866.6,294.2L866.2,292.8L865.9,291.1L865.6,289.2L865.3,287.0L865.1,284.5L864.9,281.7L864.8,278.5L864.7,274.9L864.6,270.8L864.6,265.0L864.6,259.0L864.7,254.8L864.8,251.2L864.9,248.0L865.1,245.2L865.3,242.6L865.6,240.4L865.9,238.4L866.2,236.7L866.6,235.3L867.0,234.2L867.5,233.4L868.0,232.9L868.8,232.7L869.9,232.8L870.7,233.4L871.4,234.3L871.9,235.6L872.4,237.2L872.9,238.9L873.3,240.7L873.7,242.8L874.1,245.1L874.4,247.9L874.6,251.1L874.7,254.9L874.7,259.1ZM874.4,265.0L874.3,270.7L874.3,274.8L874.1,278.2L873.9,281.3L873.7,284.0L873.4,286.5L873.0,288.7L872.7,290.7L872.2,292.5L871.7,293.9L871.1,294.9L870.4,295.6L869.7,295.9L868.5,295.9L867.9,295.7L867.4,295.1L867.0,294.3L866.6,293.1L866.3,291.7L866.0,289.9L865.7,287.9L865.5,285.6L865.2,283.0L865.1,280.1L865.0,276.8L864.9,273.0L864.9,268.4L864.9,261.5L864.9,257.0L865.0,253.2L865.1,249.8L865.3,246.7L865.5,244.0L865.7,241.6L866.0,239.6L866.3,237.9L866.6,236.4L867.0,235.3L867.4,234.3L867.9,233.6L868.5,233.2L869.7,233.2L870.4,233.7L871.1,234.5L871.7,235.8L872.2,237.3L872.6,238.9L873.0,240.8L873.4,242.9L873.8,245.2L874.0,248.0L874.2,251.3L874.3,254.9L874.4,259.1ZM874.1,265.0L874.0,270.8L873.9,274.8L873.8,278.3L873.6,281.4L873.3,284.1L873.0,286.6L872.7,288.9L872.3,290.8L871.8,292.5L871.3,293.8L870.7,294.6L870.0,295.1L869.2,295.3L868.2,295.1L867.7,294.7L867.3,294.0L866.9,293.0L866.5,291.6L866.2,290.0L865.9,288.0L865.7,285.6L865.5,283.0L865.3,280.1L865.2,276.8L865.1,273.0L865.1,268.5L865.1,261.5L865.2,256.9L865.3,253.0L865.4,249.7L865.5,246.6L865.7,243.9L866.0,241.6L866.2,239.6L866.5,238.0L866.9,236.6L867.3,235.4L867.7,234.5L868.2,233.9L869.2,233.8L870.0,234.0L870.7,234.8L871.3,235.9L871.8,237.3L872.2,239.0L872.7,240.8L873.0,242.8L873.4,245.2L873.7,247.9L873.9,251.1L874.0,254.8L874.1,259.0ZM873.8,265.0L873.7,270.8L873.6,274.8L873.5,278.3L873.3,281.3L873.0,284.1L872.7,286.5L872.4,288.7L872.0,290.6L871.5,292.2L871.0,293.3L870.4,294.1L869.8,294.5L868.8,294.6L868.1,294.4L867.7,294.0L867.3,293.2L866.9,292.0L866.6,290.5L866.3,288.7L866.1,286.5L865.9,284.0L865.7,281.2L865.6,278.2L865.5,274.8L865.4,270.8L865.3,265.0L865.4,259.0L865.4,254.9L865.5,251.4L865.7,248.3L865.9,245.6L866.1,243.1L866.3,241.0L866.6,239.1L866.9,237.6L867.3,236.3L867.7,235.3L868.1,234.7L868.8,234.4L869.8,234.5L870.5,235.2L871.0,236.2L871.5,237.7L871.9,239.3L872.3,241.1L872.7,243.1L873.1,245.3L873.4,247.9L873.6,251.0L873.7,254.6L873.8,258.9ZM873.4,265.0L873.4,270.8L873.3,274.8L873.1,278.2L872.9,281.1L872.7,283.7L872.4,286.1L872.1,288.2L871.7,290.1L871.3,291.7L870.8,292.9L870.2,293.6L869.5,294.0L868.6,294.1L868.0,293.8L867.6,293.3L867.2,292.5L866.9,291.2L866.6,289.5L866.4,287.4L866.2,285.0L866.0,282.4L865.9,279.6L865.8,276.5L865.6,272.9L865.6,268.5L865.6,261.5L865.6,256.8L865.7,253.0L865.8,249.8L866.0,247.0L866.2,244.5L866.4,242.3L866.7,240.4L867.0,238.8L867.3,237.4L867.6,236.3L868.0,235.4L868.6,234.9L869.5,234.9L870.2,235.5L870.8,236.6L871.2,238.0L871.7,239.6L872.0,241.5L872.4,243.5L872.7,245.7L873.0,248.3L873.2,251.3L873.3,254.9L873.4,259.0ZM873.1,265.0L873.1,270.9L873.0,274.9L872.8,278.4L872.6,281.3L872.4,284.0L872.1,286.3L871.7,288.4L871.4,290.1L870.9,291.6L870.4,292.6L869.8,293.2L869.1,293.4L868.3,293.2L867.9,292.7L867.5,292.0L867.2,291.0L866.9,289.5L866.6,287.5L866.4,285.0L866.3,282.3L866.2,279.4L866.0,276.4L865.9,272.9L865.8,268.5L865.8,261.4L865.9,256.8L866.0,253.1L866.1,249.9L866.3,247.0L866.4,244.6L866.7,242.4L866.9,240.6L867.2,239.0L867.5,237.7L867.9,236.5L868.3,235.8L869.1,235.5L869.8,235.9L870.4,236.8L870.9,238.0L871.3,239.6L871.7,241.4L872.0,243.3L872.4,245.6L872.6,248.2L872.8,251.2L873.0,254.8L873.1,258.9ZM872.8,265.0L872.8,271.0L872.7,275.0L872.5,278.4L872.3,281.3L872.1,284.0L871.8,286.3L871.5,288.2L871.1,289.8L870.7,291.1L870.2,292.1L869.6,292.6L868.8,292.7L868.2,292.4L867.8,291.8L867.5,291.0L867.2,289.8L866.9,288.2L866.7,286.0L866.6,283.4L866.5,280.5L866.4,277.5L866.3,274.4L866.2,270.7L866.1,265.0L866.1,259.1L866.2,255.1L866.3,251.8L866.4,248.8L866.6,246.1L866.8,243.8L867.0,241.9L867.2,240.3L867.5,238.8L867.8,237.6L868.2,236.7L868.8,236.4L869.6,236.6L870.2,237.3L870.7,238.4L871.1,239.7L871.5,241.4L871.8,243.3L872.1,245.7L872.3,248.3L872.5,251.3L872.7,254.7L872.8,258.9ZM872.5,265.0L872.4,270.9L872.3,274.9L872.1,278.3L872.0,281.3L871.7,283.9L871.5,286.2L871.1,288.0L870.8,289.6L870.3,290.7L869.8,291.5L869.2,291.7L868.5,291.5L868.1,291.1L867.7,290.5L867.4,289.6L867.2,288.1L867.0,285.9L866.8,283.2L866.7,280.2L866.7,277.3L866.5,274.4L866.4,270.7L866.3,265.0L866.4,259.1L866.4,255.1L866.5,251.7L866.6,248.7L866.8,246.1L867.0,243.9L867.2,242.0L867.5,240.2L867.7,238.7L868.1,237.6L868.5,237.0L869.3,237.1L869.9,237.7L870.3,238.6L870.8,239.8L871.1,241.3L871.5,243.2L871.8,245.5L872.0,248.0L872.2,251.0L872.4,254.5L872.5,258.8ZM872.1,265.0L872.1,271.0L871.9,275.0L871.8,278.3L871.6,281.3L871.4,283.9L871.1,286.1L870.8,287.9L870.4,289.3L870.0,290.2L869.5,290.7L868.8,290.7L868.3,290.5L868.0,289.9L867.7,289.2L867.4,287.9L867.2,286.1L867.0,283.5L866.9,280.6L866.8,277.5L866.7,274.4L866.6,270.7L866.6,265.0L866.6,259.0L866.6,255.0L866.7,251.5L866.9,248.5L867.0,246.0L867.2,243.8L867.4,242.0L867.7,240.4L868.0,239.0L868.3,238.2L868.8,237.9L869.5,238.2L870.0,239.1L870.4,240.2L870.8,241.6L871.1,243.3L871.4,245.5L871.7,248.1L871.9,251.1L872.0,254.6L872.1,258.8ZM871.8,265.0L871.7,271.0L871.6,275.1L871.5,278.4L871.3,281.3L871.1,283.7L870.8,285.8L870.5,287.6L870.1,288.9L869.7,289.7L869.2,290.1L868.5,290.0L868.2,289.6L867.9,288.8L867.6,287.6L867.4,285.8L867.2,283.5L867.1,280.7L867.0,277.6L866.9,274.5L866.9,270.7L866.8,265.0L866.8,259.0L866.9,254.9L866.9,251.4L867.1,248.5L867.2,246.0L867.4,244.0L867.6,242.3L867.9,240.8L868.2,239.6L868.5,239.0L869.2,238.9L869.7,239.5L870.1,240.5L870.5,241.9L870.8,243.6L871.1,245.7L871.3,248.3L871.5,251.2L871.7,254.7L871.8,258.8ZM871.4,265.0L871.4,270.9L871.3,275.0L871.2,278.3L871.0,281.0L870.8,283.3L870.5,285.4L870.3,287.1L869.9,288.3L869.5,289.0L869.0,289.2L868.5,289.0L868.2,288.6L867.9,287.7L867.7,286.4L867.5,284.3L867.4,281.8L867.3,279.0L867.2,276.0L867.1,272.7L867.0,268.3L867.0,261.6L867.1,257.1L867.1,253.5L867.2,250.3L867.4,247.6L867.5,245.3L867.7,243.5L867.9,242.1L868.2,240.9L868.5,240.1L869.0,240.0L869.5,240.4L869.9,241.3L870.2,242.6L870.5,244.1L870.8,245.9L871.0,248.4L871.2,251.4L871.3,254.9L871.4,259.0ZM871.1,265.0L871.1,270.9L871.0,274.8L870.8,278.1L870.7,280.8L870.5,283.2L870.2,285.2L870.0,286.7L869.6,287.6L869.2,288.0L868.7,288.0L868.4,287.8L868.1,287.2L867.9,286.0L867.7,284.2L867.6,281.8L867.5,279.1L867.4,276.1L867.3,272.6L867.3,268.3L867.3,261.6L867.3,257.1L867.4,253.4L867.4,250.4L867.6,247.8L867.7,245.7L867.9,243.9L868.1,242.5L868.3,241.5L868.7,241.0L869.2,241.2L869.6,241.9L870.0,243.1L870.2,244.5L870.5,246.3L870.7,248.5L870.9,251.3L871.0,254.9L871.1,259.0ZM870.7,265.0L870.7,270.8L870.6,274.7L870.5,277.9L870.4,280.5L870.2,282.7L870.0,284.6L869.7,285.9L869.4,286.6L869.0,286.9L868.5,286.8L868.3,286.4L868.1,285.3L867.9,283.6L867.8,281.4L867.7,278.8L867.6,276.0L867.5,272.6L867.5,268.3L867.5,261.6L867.5,257.2L867.6,253.6L867.7,250.6L867.8,248.0L867.9,245.9L868.1,244.2L868.3,243.0L868.5,242.2L869.0,242.0L869.4,242.4L869.7,243.4L870.0,244.8L870.2,246.6L870.4,248.7L870.6,251.4L870.7,254.9L870.7,259.0ZM870.4,265.0L870.4,270.9L870.3,274.8L870.2,278.0L870.0,280.5L869.9,282.6L869.6,284.2L869.4,285.2L869.0,285.6L868.6,285.7L868.4,285.2L868.2,284.1L868.1,282.4L868.0,280.1L867.9,277.5L867.8,274.4L867.7,270.6L867.7,265.0L867.7,259.2L867.8,255.2L867.8,252.0L867.9,249.3L868.1,247.1L868.2,245.2L868.4,244.0L868.6,243.3L869.1,243.3L869.4,243.9L869.7,245.0L869.9,246.6L870.1,248.7L870.2,251.4L870.4,254.8L870.4,259.0ZM870.1,265.0L870.1,270.7L870.0,274.5L869.9,277.4L869.7,279.8L869.6,281.7L869.4,283.2L869.2,284.0L868.8,284.3L868.6,284.0L868.4,283.2L868.3,281.7L868.1,279.7L868.1,277.2L868.0,274.2L867.9,270.5L867.9,265.0L867.9,259.2L868.0,255.3L868.0,252.2L868.1,249.6L868.2,247.5L868.4,245.9L868.5,244.9L868.8,244.5L869.2,244.8L869.4,245.7L869.6,247.2L869.8,249.2L869.9,251.8L870.0,255.1L870.1,259.1ZM869.8,265.0L869.7,270.6L869.7,274.3L869.6,277.2L869.5,279.4L869.3,281.0L869.1,282.0L868.9,282.5L868.6,282.4L868.5,281.6L868.4,280.2L868.3,278.3L868.2,275.7L868.2,272.4L868.1,268.2L868.1,261.7L868.2,257.3L868.2,253.8L868.3,251.1L868.4,248.9L868.5,247.3L868.6,246.5L868.9,246.3L869.2,246.7L869.3,247.8L869.5,249.6L869.6,252.0L869.7,255.2L869.8,259.1Z" fill="#000" fill-opacity="0.06" stroke="#222" stroke-width="0.45" stroke-linejoin="round"/>
<path d="M869.1,232.0v6.7M869.1,241.7v8.7M868.9,253.7v3.2M869.2,260.2v6.9M868.7,268.4v5.8M868.5,276.6v6.4M869.2,284.6v4.7M869.1,292.1v4.0M868.6,297.5v6.7" stroke="#fff" stroke-opacity="0.32" stroke-width="0.8" stroke-linecap="round" fill="none"/>
<path d="M922.6,246.0h1.1v1.1h-1.1zM911.6,264.4h1.1v1.1h-1.1zM912.7,263.5h1.1v1.1h-1.1zM905.8,250.7h1.1v1.1h-1.1zM961.5,267.4h1.1v1.1h-1.1zM929.0,259.1h1.1v1.1h-1.1zM899.1,256.7h1.1v1.1h-1.1zM897.8,264.5h1.1v1.1h-1.1zM893.2,271.9h1.1v1.1h-1.1zM918.1,282.8h1.1v1.1h-1.1zM903.5,244.2h1.1v1.1h-1.1zM903.9,271.1h1.1v1.1h-1.1zM989.6,280.3h1.1v1.1h-1.1zM911.5,268.5h1.1v1.1h-1.1zM904.5,268.5h1.1v1.1h-1.1zM932.9,224.8h1.1v1.1h-1.1zM975.8,275.6h1.1v1.1h-1.1zM940.7,255.1h1.1v1.1h-1.1zM934.0,292.9h1.1v1.1h-1.1zM922.1,273.7h1.1v1.1h-1.1zM908.0,255.3h1.1v1.1h-1.1zM899.5,270.4h1.1v1.1h-1.1zM901.4,251.2h1.1v1.1h-1.1zM909.2,261.3h1.1v1.1h-1.1zM903.9,282.8h1.1v1.1h-1.1zM925.3,270.5h1.1v1.1h-1.1zM899.4,287.0h1.1v1.1h-1.1zM908.9,282.6h1.1v1.1h-1.1zM893.7,269.0h1.1v1.1h-1.1zM905.4,275.3h1.1v1.1h-1.1zM895.7,267.4h1.1v1.1h-1.1zM912.0,207.9h1.1v1.1h-1.1zM903.3,223.0h1.1v1.1h-1.1zM905.7,295.7h1.1v1.1h-1.1zM895.2,209.1h1.1v1.1h-1.1zM920.5,250.7h1.1v1.1h-1.1zM898.8,271.3h1.1v1.1h-1.1zM903.0,261.9h1.1v1.1h-1.1zM920.9,273.1h1.1v1.1h-1.1zM909.9,283.3h1.1v1.1h-1.1zM912.9,270.2h1.1v1.1h-1.1zM954.1,293.1h1.1v1.1h-1.1zM901.2,258.0h1.1v1.1h-1.1zM894.8,291.9h1.1v1.1h-1.1zM899.0,286.6h1.1v1.1h-1.1zM902.0,282.7h1.1v1.1h-1.1zM988.2,229.6h1.1v1.1h-1.1zM910.9,270.1h1.1v1.1h-1.1zM895.9,297.5h1.1v1.1h-1.1zM899.0,230.1h1.1v1.1h-1.1zM915.5,270.3h1.1v1.1h-1.1zM898.5,266.0h1.1v1.1h-1.1zM895.5,214.6h1.1v1.1h-1.1zM962.4,272.9h1.1v1.1h-1.1zM922.9,245.6h1.1v1.1h-1.1zM977.3,217.3h1.1v1.1h-1.1zM901.7,237.5h1.1v1.1h-1.1zM902.5,217.4h1.1v1.1h-1.1zM894.7,234.5h1.1v1.1h-1.1zM896.1,257.5h1.1v1.1h-1.1zM899.8,227.4h1.1v1.1h-1.1zM902.5,257.0h1.1v1.1h-1.1zM908.6,282.2h1.1v1.1h-1.1zM898.2,254.6h1.1v1.1h-1.1zM913.0,291.2h1.1v1.1h-1.1zM919.6,218.7h1.1v1.1h-1.1zM903.5,258.0h1.1v1.1h-1.1zM901.0,284.3h1.1v1.1h-1.1zM896.1,277.9h1.1v1.1h-1.1zM907.2,226.2h1.1v1.1h-1.1zM985.4,251.9h1.1v1.1h-1.1zM901.4,263.4h1.1v1.1h-1.1zM902.6,246.3h1.1v1.1h-1.1zM904.6,302.1h1.1v1.1h-1.1zM926.6,271.4h1.1v1.1h-1.1zM900.9,258.4h1.1v1.1h-1.1zM950.1,235.7h1.1v1.1h-1.1zM916.1,283.4h1.1v1.1h-1.1zM904.6,274.5h1.1v1.1h-1.1zM902.0,298.3h1.1v1.1h-1.1zM898.7,242.0h1.1v1.1h-1.1zM986.1,223.1h1.1v1.1h-1.1zM898.0,291.9h1.1v1.1h-1.1zM908.8,267.8h1.1v1.1h-1.1zM913.7,251.1h1.1v1.1h-1.1zM905.8,233.1h1.1v1.1h-1.1zM933.6,249.7h1.1v1.1h-1.1zM909.1,291.3h1.1v1.1h-1.1zM914.6,228.6h1.1v1.1h-1.1zM919.1,245.3h1.1v1.1h-1.1zM984.8,212.6h1.1v1.1h-1.1zM897.6,258.2h1.1v1.1h-1.1zM918.5,262.6h1.1v1.1h-1.1zM988.2,234.6h1.1v1.1h-1.1zM946.9,261.7h1.1v1.1h-1.1zM976.6,229.5h1.1v1.1h-1.1zM906.1,278.9h1.1v1.1h-1.1zM894.9,238.4h1.1v1.1h-1.1zM894.8,257.9h1.1v1.1h-1.1zM913.1,228.1h1.1v1.1h-1.1zM914.2,283.2h1.1v1.1h-1.1zM975.1,284.1h1.1v1.1h-1.1zM908.4,256.7h1.1v1.1h-1.1zM905.0,261.6h1.1v1.1h-1.1zM909.8,261.5h1.1v1.1h-1.1zM912.8,283.1h1.1v1.1h-1.1zM907.9,232.0h1.1v1.1h-1.1zM916.4,294.3h1.1v1.1h-1.1zM987.1,216.3h1.1v1.1h-1.1zM895.8,238.3h1.1v1.1h-1.1zM899.4,231.0h1.1v1.1h-1.1zM907.7,229.3h1.1v1.1h-1.1zM894.2,241.9h1.1v1.1h-1.1zM982.9,247.5h1.1v1.1h-1.1zM900.2,268.1h1.1v1.1h-1.1zM905.1,218.8h1.1v1.1h-1.1zM896.7,280.3h1.1v1.1h-1.1zM899.6,260.3h1.1v1.1h-1.1zM899.1,262.4h1.1v1.1h-1.1zM902.4,256.2h1.1v1.1h-1.1zM904.8,296.7h1.1v1.1h-1.1zM906.9,247.8h1.1v1.1h-1.1zM893.7,240.7h1.1v1.1h-1.1zM895.8,240.8h1.1v1.1h-1.1zM901.9,275.6h1.1v1.1h-1.1zM912.0,220.0h1.1v1.1h-1.1zM898.1,276.9h1.1v1.1h-1.1zM972.4,237.9h1.1v1.1h-1.1zM926.4,228.0h1.1v1.1h-1.1zM893.3,268.6h1.1v1.1h-1.1z" fill="#222"/>
<path d="M867.5,162.6h1.1v1.1h-1.1zM875.0,157.4h1.1v1.1h-1.1zM849.4,159.7h1.1v1.1h-1.1zM859.7,164.1h1.1v1.1h-1.1zM875.9,162.0h1.1v1.1h-1.1zM870.8,162.6h1.1v1.1h-1.1zM854.7,160.4h1.1v1.1h-1.1zM855.3,165.1h1.1v1.1h-1.1zM851.3,164.2h1.1v1.1h-1.1zM851.9,162.9h1.1v1.1h-1.1zM862.1,160.0h1.1v1.1h-1.1zM881.9,156.2h1.1v1.1h-1.1zM851.4,165.2h1.1v1.1h-1.1zM868.8,156.9h1.1v1.1h-1.1z" fill="#222"/>
<rect x="1120.5" y="228" width="21.5" height="80" rx="10.75" fill="#0a0a0a" opacity="0.8" filter="url(#bl)"/>
<rect x="1123.3" y="173" width="14.5" height="36" rx="7.25" fill="#0a0a0a" opacity="0.6" filter="url(#bl)"/>
<path d="M1152.8,190.0L1152.5,196.3L1151.9,200.7L1151.1,204.6L1150.3,208.1L1149.5,211.4L1148.5,214.5L1147.2,217.3L1145.6,219.6L1143.8,221.4L1141.8,222.9L1139.6,224.2L1137.2,225.3L1134.4,226.2L1130.6,226.7L1127.3,226.6L1124.9,225.8L1122.9,224.5L1121.1,222.8L1119.6,221.0L1118.1,219.1L1116.6,217.1L1115.3,214.7L1114.2,211.9L1113.4,208.6L1112.8,204.9L1112.5,200.7L1112.4,196.2L1112.3,190.0L1112.4,184.9L1112.6,181.1L1113.0,177.7L1113.6,174.7L1114.4,172.0L1115.3,169.5L1116.5,167.2L1117.8,165.3L1119.4,163.8L1121.1,162.6L1123.0,161.7L1125.1,161.0L1127.4,160.4L1130.6,160.0L1134.5,159.7L1137.3,159.9L1139.9,160.5L1142.2,161.6L1144.1,163.1L1145.8,165.0L1147.2,167.3L1148.4,169.7L1149.4,172.2L1150.5,174.8L1151.4,177.7L1152.2,180.9L1152.7,184.7ZM1151.6,190.0L1151.4,196.1L1150.8,200.5L1150.1,204.2L1149.4,207.7L1148.5,210.9L1147.5,213.9L1146.3,216.5L1144.9,218.8L1143.1,220.7L1141.2,222.2L1139.2,223.5L1136.9,224.5L1134.2,225.3L1130.6,225.7L1127.5,225.5L1125.2,224.8L1123.3,223.6L1121.6,222.1L1120.1,220.3L1118.7,218.4L1117.3,216.4L1116.1,214.0L1115.1,211.2L1114.3,208.0L1113.8,204.4L1113.5,200.4L1113.3,196.0L1113.3,190.0L1113.3,185.0L1113.5,181.3L1113.9,178.1L1114.5,175.1L1115.2,172.4L1116.1,170.0L1117.2,167.8L1118.5,165.9L1120.0,164.4L1121.6,163.3L1123.4,162.4L1125.4,161.7L1127.6,161.1L1130.6,160.7L1134.3,160.5L1137.0,160.6L1139.4,161.3L1141.6,162.4L1143.4,163.9L1144.9,165.8L1146.3,168.0L1147.4,170.3L1148.4,172.7L1149.4,175.3L1150.2,178.1L1151.0,181.2L1151.5,184.9ZM1150.7,190.0L1150.4,196.0L1149.9,200.2L1149.2,203.9L1148.5,207.2L1147.6,210.3L1146.7,213.2L1145.6,215.9L1144.2,218.2L1142.6,220.1L1140.8,221.6L1138.8,222.8L1136.6,223.7L1134.1,224.3L1130.6,224.6L1127.7,224.4L1125.5,223.7L1123.7,222.7L1122.0,221.3L1120.5,219.7L1119.2,217.9L1117.9,215.8L1116.8,213.4L1115.9,210.7L1115.2,207.5L1114.7,204.0L1114.4,200.1L1114.2,195.8L1114.1,190.0L1114.1,185.1L1114.3,181.5L1114.7,178.4L1115.3,175.5L1116.0,172.9L1116.8,170.5L1117.9,168.4L1119.1,166.5L1120.5,165.0L1122.0,163.9L1123.7,163.0L1125.6,162.3L1127.7,161.8L1130.6,161.4L1134.1,161.2L1136.7,161.4L1139.0,162.0L1141.0,163.1L1142.7,164.6L1144.2,166.5L1145.5,168.5L1146.6,170.7L1147.7,173.0L1148.6,175.5L1149.5,178.2L1150.2,181.3L1150.6,185.0ZM1149.6,190.0L1149.4,195.8L1149.0,200.0L1148.4,203.6L1147.7,206.9L1146.9,209.9L1145.9,212.7L1144.8,215.2L1143.5,217.5L1142.0,219.4L1140.3,220.9L1138.4,222.1L1136.3,222.9L1133.9,223.5L1130.6,223.7L1127.8,223.5L1125.8,222.9L1124.0,221.9L1122.4,220.6L1121.0,219.0L1119.7,217.3L1118.5,215.2L1117.5,212.9L1116.6,210.2L1115.9,207.1L1115.4,203.7L1115.1,199.9L1114.9,195.7L1114.8,190.0L1114.8,185.2L1115.0,181.7L1115.4,178.6L1115.9,175.8L1116.6,173.2L1117.5,171.0L1118.5,168.9L1119.6,167.1L1120.9,165.6L1122.4,164.4L1124.0,163.5L1125.8,162.9L1127.8,162.4L1130.6,162.1L1133.9,162.0L1136.4,162.2L1138.5,162.8L1140.5,163.9L1142.1,165.3L1143.6,167.1L1144.8,169.1L1145.9,171.2L1146.8,173.5L1147.7,175.9L1148.5,178.6L1149.1,181.6L1149.5,185.1ZM1148.8,190.0L1148.6,195.7L1148.1,199.8L1147.5,203.3L1146.8,206.4L1146.1,209.4L1145.2,212.1L1144.1,214.6L1142.9,216.8L1141.5,218.6L1139.8,220.1L1138.0,221.2L1136.0,222.1L1133.7,222.6L1130.6,222.8L1127.9,222.7L1126.0,222.1L1124.3,221.2L1122.8,219.9L1121.4,218.4L1120.2,216.7L1119.0,214.7L1118.0,212.4L1117.2,209.8L1116.6,206.7L1116.1,203.4L1115.8,199.7L1115.6,195.6L1115.5,190.0L1115.5,185.3L1115.7,181.9L1116.1,178.8L1116.7,176.1L1117.3,173.7L1118.1,171.5L1119.1,169.4L1120.1,167.7L1121.4,166.2L1122.8,165.0L1124.3,164.1L1126.0,163.5L1128.0,163.0L1130.6,162.8L1133.7,162.7L1136.1,163.0L1138.1,163.6L1139.9,164.6L1141.5,166.1L1142.9,167.8L1144.0,169.7L1145.1,171.7L1146.1,173.9L1146.9,176.2L1147.7,178.8L1148.4,181.8L1148.7,185.2ZM1148.1,190.0L1147.9,195.6L1147.5,199.6L1146.9,203.1L1146.3,206.3L1145.5,209.1L1144.6,211.7L1143.5,214.0L1142.3,216.0L1140.9,217.7L1139.3,219.2L1137.6,220.3L1135.7,221.2L1133.6,221.8L1130.6,221.9L1128.1,221.7L1126.2,221.2L1124.7,220.2L1123.2,219.0L1121.9,217.6L1120.7,215.9L1119.6,214.0L1118.7,211.8L1117.9,209.2L1117.2,206.3L1116.8,203.1L1116.5,199.5L1116.3,195.5L1116.2,190.0L1116.3,185.4L1116.5,182.1L1116.8,179.1L1117.3,176.5L1118.0,174.1L1118.7,171.9L1119.6,169.9L1120.6,168.2L1121.8,166.7L1123.1,165.6L1124.6,164.7L1126.3,164.1L1128.1,163.7L1130.6,163.6L1133.6,163.6L1135.8,163.9L1137.7,164.5L1139.4,165.5L1140.9,166.7L1142.3,168.3L1143.4,170.1L1144.5,172.1L1145.4,174.2L1146.2,176.5L1147.0,179.0L1147.6,181.9L1148.0,185.3ZM1147.2,190.0L1147.0,195.5L1146.6,199.4L1146.1,202.8L1145.5,205.8L1144.7,208.6L1143.9,211.2L1142.9,213.4L1141.7,215.4L1140.4,217.0L1138.9,218.4L1137.2,219.4L1135.5,220.3L1133.4,220.8L1130.6,221.1L1128.2,220.9L1126.5,220.4L1124.9,219.5L1123.6,218.3L1122.4,216.9L1121.2,215.3L1120.2,213.4L1119.3,211.3L1118.5,208.8L1117.9,205.9L1117.5,202.7L1117.2,199.2L1117.0,195.3L1116.9,190.0L1116.9,185.5L1117.1,182.2L1117.4,179.3L1118.0,176.8L1118.6,174.5L1119.4,172.4L1120.2,170.5L1121.2,168.8L1122.3,167.3L1123.5,166.2L1124.9,165.3L1126.5,164.7L1128.2,164.3L1130.6,164.2L1133.4,164.3L1135.5,164.6L1137.3,165.3L1138.9,166.2L1140.4,167.4L1141.7,168.9L1142.8,170.6L1143.8,172.5L1144.7,174.5L1145.5,176.8L1146.2,179.3L1146.7,182.1L1147.1,185.4ZM1146.4,190.0L1146.3,195.4L1145.9,199.2L1145.4,202.6L1144.8,205.6L1144.1,208.3L1143.3,210.8L1142.3,213.0L1141.2,214.9L1139.9,216.5L1138.5,217.8L1136.9,218.8L1135.2,219.5L1133.3,220.0L1130.6,220.2L1128.3,220.1L1126.7,219.5L1125.3,218.6L1124.0,217.5L1122.8,216.1L1121.8,214.5L1120.8,212.7L1119.9,210.6L1119.2,208.1L1118.7,205.4L1118.3,202.3L1118.0,198.9L1117.8,195.1L1117.7,190.0L1117.7,185.7L1117.8,182.5L1118.2,179.7L1118.6,177.2L1119.2,174.9L1120.0,172.9L1120.8,171.1L1121.7,169.5L1122.7,168.1L1123.9,166.9L1125.2,166.1L1126.7,165.4L1128.3,165.1L1130.6,164.9L1133.3,165.0L1135.2,165.3L1136.9,166.0L1138.5,166.8L1139.9,168.0L1141.1,169.4L1142.2,171.0L1143.2,172.8L1144.0,174.8L1144.7,177.1L1145.4,179.6L1145.9,182.3L1146.2,185.5ZM1145.4,190.0L1145.4,195.2L1145.1,198.9L1144.6,202.2L1144.0,205.1L1143.4,207.8L1142.6,210.2L1141.7,212.4L1140.6,214.3L1139.4,215.8L1138.1,217.0L1136.6,217.9L1134.9,218.6L1133.1,219.1L1130.6,219.3L1128.5,219.2L1126.9,218.7L1125.5,217.9L1124.3,216.8L1123.2,215.4L1122.2,213.8L1121.3,212.0L1120.6,209.9L1119.9,207.6L1119.4,204.9L1119.0,201.9L1118.7,198.7L1118.5,195.0L1118.3,190.0L1118.3,185.8L1118.5,182.6L1118.8,179.9L1119.3,177.5L1119.9,175.4L1120.6,173.4L1121.3,171.6L1122.2,170.0L1123.2,168.7L1124.3,167.6L1125.5,166.8L1126.9,166.2L1128.5,165.8L1130.6,165.6L1133.1,165.7L1135.0,166.0L1136.6,166.6L1138.1,167.5L1139.4,168.6L1140.6,169.9L1141.6,171.4L1142.6,173.2L1143.4,175.2L1144.0,177.4L1144.6,179.9L1145.0,182.6L1145.3,185.7ZM1144.6,190.0L1144.5,195.0L1144.2,198.7L1143.8,201.8L1143.3,204.7L1142.6,207.3L1141.9,209.6L1141.1,211.8L1140.1,213.6L1138.9,215.1L1137.6,216.2L1136.2,217.1L1134.7,217.8L1133.0,218.2L1130.6,218.4L1128.6,218.3L1127.1,217.9L1125.8,217.1L1124.7,215.9L1123.7,214.6L1122.7,213.1L1121.9,211.4L1121.1,209.4L1120.5,207.1L1120.0,204.5L1119.7,201.6L1119.4,198.4L1119.2,194.9L1119.0,190.0L1119.0,185.9L1119.2,182.9L1119.5,180.2L1120.0,177.9L1120.5,175.8L1121.1,173.8L1121.8,172.1L1122.6,170.5L1123.6,169.2L1124.6,168.2L1125.8,167.4L1127.1,166.8L1128.6,166.5L1130.6,166.3L1133.0,166.4L1134.7,166.7L1136.3,167.3L1137.6,168.1L1138.9,169.2L1140.0,170.4L1141.0,171.9L1141.9,173.6L1142.7,175.6L1143.3,177.8L1143.8,180.2L1144.1,182.8L1144.4,185.8ZM1143.7,190.0L1143.7,194.9L1143.4,198.4L1143.0,201.5L1142.5,204.2L1141.9,206.7L1141.2,209.0L1140.5,211.1L1139.5,213.0L1138.5,214.4L1137.2,215.5L1135.9,216.4L1134.5,217.0L1132.8,217.4L1130.6,217.6L1128.7,217.5L1127.3,217.0L1126.1,216.2L1125.1,215.1L1124.1,213.8L1123.2,212.3L1122.4,210.7L1121.7,208.8L1121.1,206.5L1120.7,204.0L1120.3,201.2L1120.1,198.2L1119.8,194.7L1119.7,190.0L1119.7,186.0L1119.8,183.1L1120.2,180.5L1120.6,178.3L1121.1,176.2L1121.6,174.3L1122.3,172.5L1123.1,171.0L1124.0,169.8L1125.0,168.8L1126.1,168.2L1127.3,167.6L1128.7,167.3L1130.6,167.1L1132.8,167.1L1134.5,167.4L1135.9,168.0L1137.2,168.8L1138.4,169.8L1139.4,171.1L1140.4,172.5L1141.2,174.1L1141.9,176.0L1142.5,178.2L1142.9,180.5L1143.3,183.0L1143.6,186.0ZM1142.8,190.0L1142.8,194.8L1142.6,198.4L1142.2,201.5L1141.7,204.2L1141.1,206.7L1140.5,209.0L1139.7,211.0L1138.7,212.7L1137.6,214.1L1136.4,215.1L1135.0,215.8L1133.6,216.4L1131.8,216.7L1129.5,216.7L1128.1,216.3L1126.9,215.7L1125.8,214.7L1124.8,213.5L1123.9,212.0L1123.1,210.4L1122.4,208.5L1121.9,206.3L1121.4,203.8L1121.1,201.1L1120.8,198.1L1120.6,194.7L1120.4,190.0L1120.4,186.0L1120.6,183.1L1120.9,180.6L1121.3,178.3L1121.7,176.2L1122.3,174.3L1122.9,172.6L1123.7,171.1L1124.7,170.0L1125.7,169.1L1126.8,168.5L1128.1,168.0L1129.5,167.7L1131.8,167.7L1133.6,167.9L1135.0,168.5L1136.3,169.3L1137.5,170.2L1138.6,171.4L1139.5,172.7L1140.4,174.3L1141.1,176.1L1141.7,178.2L1142.1,180.6L1142.4,183.1L1142.7,186.0ZM1141.9,190.0L1141.9,194.8L1141.7,198.3L1141.4,201.4L1140.9,204.1L1140.3,206.6L1139.7,208.8L1138.8,210.8L1137.9,212.4L1136.8,213.7L1135.5,214.6L1134.2,215.3L1132.7,215.7L1130.6,215.8L1128.8,215.7L1127.6,215.1L1126.5,214.3L1125.5,213.1L1124.6,211.8L1123.8,210.2L1123.1,208.3L1122.5,206.2L1122.1,203.7L1121.8,201.0L1121.5,198.0L1121.3,194.6L1121.2,190.0L1121.2,186.1L1121.3,183.2L1121.6,180.7L1122.0,178.4L1122.4,176.3L1123.0,174.4L1123.6,172.7L1124.4,171.3L1125.4,170.2L1126.4,169.5L1127.5,168.9L1128.8,168.5L1130.6,168.4L1132.7,168.5L1134.2,168.9L1135.5,169.6L1136.7,170.5L1137.7,171.6L1138.7,172.9L1139.6,174.4L1140.3,176.2L1140.9,178.3L1141.3,180.6L1141.6,183.2L1141.8,186.0ZM1141.0,190.0L1141.0,194.7L1140.8,198.2L1140.5,201.2L1140.0,203.9L1139.5,206.4L1138.8,208.5L1138.0,210.4L1137.0,211.9L1135.9,213.1L1134.7,213.9L1133.3,214.5L1131.7,214.8L1129.6,214.9L1128.3,214.6L1127.1,213.9L1126.1,213.0L1125.2,211.7L1124.4,210.1L1123.7,208.3L1123.2,206.1L1122.7,203.7L1122.4,201.0L1122.1,198.1L1121.8,194.7L1121.7,190.0L1121.7,186.1L1121.9,183.2L1122.3,180.7L1122.7,178.6L1123.1,176.5L1123.7,174.7L1124.4,173.1L1125.2,171.7L1126.1,170.7L1127.1,170.0L1128.3,169.5L1129.6,169.2L1131.8,169.2L1133.4,169.4L1134.7,170.0L1135.9,170.9L1136.9,172.0L1137.9,173.2L1138.7,174.7L1139.5,176.3L1140.1,178.3L1140.5,180.6L1140.8,183.2L1140.9,186.1ZM1140.2,190.0L1140.2,194.8L1140.0,198.3L1139.7,201.3L1139.2,204.0L1138.6,206.4L1137.9,208.6L1137.0,210.3L1136.0,211.7L1134.9,212.7L1133.6,213.4L1132.1,213.8L1130.1,214.0L1128.6,213.8L1127.5,213.2L1126.5,212.2L1125.6,210.8L1124.8,209.2L1124.1,207.3L1123.6,205.1L1123.2,202.5L1122.9,199.7L1122.6,196.5L1122.5,192.7L1122.4,187.7L1122.5,184.5L1122.8,181.9L1123.2,179.6L1123.6,177.5L1124.2,175.6L1124.8,173.9L1125.6,172.5L1126.5,171.4L1127.5,170.7L1128.6,170.2L1130.1,169.9L1132.1,170.0L1133.6,170.4L1134.9,171.1L1136.0,172.1L1136.9,173.3L1137.8,174.7L1138.6,176.3L1139.2,178.3L1139.7,180.6L1139.9,183.2L1140.1,186.1ZM1139.5,190.0L1139.4,194.7L1139.2,198.2L1138.9,201.2L1138.4,203.8L1137.8,206.2L1137.1,208.2L1136.2,209.8L1135.2,211.1L1134.1,212.0L1132.8,212.6L1131.2,212.9L1129.4,212.9L1128.2,212.4L1127.2,211.6L1126.3,210.4L1125.5,209.0L1124.8,207.2L1124.2,205.1L1123.7,202.6L1123.4,199.7L1123.2,196.5L1123.1,192.7L1123.1,187.7L1123.2,184.6L1123.4,181.9L1123.8,179.6L1124.3,177.6L1124.8,175.7L1125.5,174.2L1126.2,172.9L1127.1,171.9L1128.2,171.2L1129.4,170.8L1131.2,170.8L1132.8,171.0L1134.1,171.6L1135.2,172.5L1136.2,173.6L1137.0,175.0L1137.8,176.6L1138.4,178.5L1138.8,180.7L1139.1,183.2L1139.4,186.1ZM1138.8,190.0L1138.7,194.8L1138.5,198.3L1138.1,201.3L1137.6,203.9L1137.0,206.3L1136.2,208.2L1135.3,209.6L1134.2,210.6L1133.0,211.3L1131.6,211.7L1129.7,211.9L1128.5,211.5L1127.5,210.8L1126.6,209.6L1125.9,208.1L1125.2,206.2L1124.7,203.9L1124.3,201.2L1124.0,198.2L1123.8,194.8L1123.7,190.0L1123.8,186.0L1124.0,183.2L1124.4,180.8L1124.8,178.7L1125.3,176.7L1125.9,174.9L1126.6,173.6L1127.5,172.6L1128.5,172.0L1129.7,171.6L1131.6,171.6L1133.1,172.0L1134.2,172.8L1135.2,173.8L1136.1,175.1L1136.9,176.6L1137.6,178.5L1138.0,180.7L1138.4,183.2L1138.6,186.0ZM1138.0,190.0L1137.9,194.9L1137.7,198.4L1137.3,201.4L1136.8,204.0L1136.1,206.2L1135.3,207.9L1134.3,209.2L1133.2,210.0L1131.9,210.6L1130.1,210.9L1128.9,210.6L1127.9,209.9L1127.0,208.7L1126.3,207.0L1125.6,205.1L1125.1,202.6L1124.8,199.8L1124.5,196.6L1124.4,192.8L1124.4,187.7L1124.5,184.5L1124.9,181.9L1125.2,179.7L1125.7,177.6L1126.3,175.8L1127.0,174.4L1127.9,173.4L1128.9,172.8L1130.1,172.5L1132.0,172.7L1133.2,173.2L1134.3,174.1L1135.2,175.2L1136.1,176.6L1136.8,178.4L1137.3,180.6L1137.6,183.1L1137.9,186.0ZM1137.2,190.0L1137.1,194.8L1136.9,198.2L1136.5,201.1L1136.0,203.6L1135.3,205.7L1134.5,207.2L1133.6,208.4L1132.5,209.3L1131.1,209.8L1129.5,209.7L1128.5,209.2L1127.6,208.1L1126.9,206.7L1126.3,204.8L1125.8,202.5L1125.4,199.6L1125.2,196.5L1125.1,192.7L1125.0,187.7L1125.2,184.6L1125.5,182.0L1125.8,179.8L1126.3,177.8L1126.9,176.1L1127.6,174.9L1128.5,174.0L1129.5,173.5L1131.1,173.4L1132.5,173.7L1133.6,174.5L1134.5,175.6L1135.3,177.0L1136.0,178.7L1136.5,180.8L1136.8,183.2L1137.0,186.1ZM1136.4,190.0L1136.3,194.8L1136.1,198.2L1135.7,201.1L1135.1,203.5L1134.4,205.4L1133.6,206.8L1132.6,207.8L1131.5,208.4L1129.9,208.5L1128.8,208.0L1128.0,206.9L1127.3,205.5L1126.7,203.6L1126.2,201.2L1125.9,198.2L1125.7,194.8L1125.6,190.0L1125.7,186.0L1125.9,183.1L1126.3,180.8L1126.7,178.7L1127.3,176.9L1128.0,175.7L1128.8,174.9L1129.9,174.4L1131.5,174.4L1132.7,175.0L1133.6,176.0L1134.5,177.2L1135.2,178.7L1135.7,180.7L1136.1,183.2L1136.3,186.1ZM1135.6,190.0L1135.6,194.8L1135.3,198.2L1134.9,201.0L1134.3,203.3L1133.6,205.0L1132.7,206.1L1131.7,206.9L1130.2,207.1L1129.2,206.7L1128.4,205.8L1127.7,204.3L1127.1,202.4L1126.7,199.8L1126.4,196.6L1126.3,192.8L1126.2,187.6L1126.4,184.4L1126.7,181.9L1127.1,179.6L1127.6,177.8L1128.3,176.5L1129.2,175.8L1130.2,175.5L1131.7,175.7L1132.7,176.5L1133.6,177.6L1134.3,178.9L1134.9,180.8L1135.3,183.2L1135.5,186.0ZM1134.9,190.0L1134.8,194.8L1134.5,198.1L1134.1,200.8L1133.5,202.9L1132.8,204.4L1131.9,205.4L1130.6,205.8L1129.5,205.5L1128.7,204.5L1128.1,203.1L1127.6,201.0L1127.2,198.2L1127.0,194.8L1126.9,190.0L1127.0,185.9L1127.2,183.1L1127.6,180.8L1128.1,178.9L1128.7,177.6L1129.5,176.9L1130.6,176.6L1131.9,177.0L1132.8,177.9L1133.5,179.1L1134.2,180.8L1134.5,183.2L1134.8,186.0ZM1134.1,190.0L1134.1,194.8L1133.8,198.0L1133.3,200.5L1132.7,202.4L1132.0,203.6L1131.0,204.3L1129.8,204.1L1129.1,203.2L1128.5,201.7L1128.0,199.6L1127.7,196.6L1127.6,192.8L1127.5,187.6L1127.7,184.4L1128.0,182.0L1128.5,180.0L1129.0,178.7L1129.8,177.9L1131.0,177.9L1132.0,178.5L1132.7,179.5L1133.4,181.0L1133.8,183.3L1134.0,186.1ZM1133.4,190.0L1133.3,194.6L1133.0,197.8L1132.6,200.1L1132.0,201.7L1131.2,202.5L1130.1,202.6L1129.4,201.8L1128.9,200.3L1128.5,198.0L1128.3,194.7L1128.2,190.0L1128.3,186.0L1128.5,183.3L1128.9,181.2L1129.4,179.9L1130.1,179.2L1131.2,179.3L1132.0,180.1L1132.6,181.5L1133.0,183.5L1133.3,186.2ZM1132.7,190.0L1132.6,194.7L1132.3,197.8L1131.8,199.8L1131.1,200.8L1130.2,200.9L1129.6,199.7L1129.2,197.8L1128.9,194.7L1128.8,190.0L1128.9,186.0L1129.2,183.5L1129.6,181.7L1130.2,180.9L1131.1,181.0L1131.8,181.9L1132.3,183.6L1132.5,186.1ZM1131.9,190.0L1131.8,194.6L1131.5,197.2L1131.0,198.6L1130.3,198.6L1129.8,197.3L1129.6,194.6L1129.5,190.0L1129.6,186.2L1129.8,183.9L1130.3,182.8L1131.0,182.8L1131.5,184.1L1131.8,186.3Z" fill="#000" fill-opacity="0.03" stroke="#3a3a3a" stroke-width="0.5" stroke-linejoin="round"/>
<path d="M1147.6,222.0L1147.3,225.7L1147.1,228.9L1146.8,232.0L1146.4,235.0L1145.6,237.8L1144.7,240.4L1143.6,242.7L1142.3,244.9L1140.9,246.8L1139.2,248.4L1137.4,249.4L1135.4,249.9L1133.3,249.9L1131.0,249.7L1128.8,249.4L1127.0,249.1L1125.1,248.6L1123.4,247.8L1121.8,246.5L1120.5,244.6L1119.4,242.4L1118.4,240.0L1117.5,237.5L1116.8,234.8L1116.2,232.0L1115.9,228.9L1115.8,225.7L1115.8,222.0L1115.6,218.6L1115.5,215.4L1115.6,212.4L1116.0,209.5L1116.9,206.9L1118.0,204.8L1119.4,203.1L1120.7,201.5L1122.1,199.9L1123.6,198.5L1125.2,197.4L1126.9,196.6L1128.8,196.1L1131.0,196.0L1133.3,196.1L1135.4,196.4L1137.3,197.0L1139.1,198.0L1140.7,199.4L1142.1,201.2L1143.3,203.2L1144.5,205.2L1145.6,207.4L1146.6,209.7L1147.4,212.4L1147.7,215.3L1147.8,218.5ZM1145.6,222.0L1145.4,225.5L1145.3,228.6L1145.1,231.6L1144.7,234.5L1144.0,237.1L1143.2,239.5L1142.1,241.8L1141.0,243.8L1139.7,245.6L1138.3,247.0L1136.6,248.0L1134.9,248.4L1133.1,248.5L1131.0,248.4L1129.1,248.2L1127.4,248.0L1125.8,247.5L1124.3,246.7L1122.9,245.3L1121.7,243.4L1120.8,241.3L1119.9,239.0L1119.2,236.6L1118.5,234.1L1118.0,231.5L1117.7,228.6L1117.6,225.5L1117.5,222.0L1117.4,218.7L1117.3,215.7L1117.3,212.8L1117.7,210.0L1118.5,207.7L1119.5,205.7L1120.7,204.0L1121.9,202.4L1123.1,200.9L1124.4,199.5L1125.8,198.4L1127.4,197.6L1129.1,197.3L1131.0,197.2L1133.1,197.4L1134.8,197.8L1136.5,198.4L1138.1,199.3L1139.5,200.6L1140.8,202.3L1141.9,204.1L1142.9,206.0L1143.9,208.0L1144.8,210.3L1145.4,212.9L1145.7,215.7L1145.7,218.7ZM1144.2,222.0L1144.1,225.4L1144.0,228.4L1143.8,231.3L1143.4,234.0L1142.8,236.6L1142.0,238.9L1141.0,240.9L1140.0,242.8L1138.8,244.5L1137.5,245.8L1136.1,246.8L1134.5,247.3L1132.9,247.4L1131.0,247.3L1129.3,247.2L1127.8,246.9L1126.3,246.4L1124.9,245.6L1123.7,244.2L1122.7,242.5L1121.8,240.4L1121.0,238.3L1120.3,236.0L1119.7,233.7L1119.2,231.1L1118.9,228.3L1118.7,225.4L1118.7,222.0L1118.6,218.8L1118.5,215.9L1118.6,213.1L1119.0,210.5L1119.7,208.2L1120.6,206.3L1121.7,204.6L1122.8,203.2L1123.9,201.7L1125.0,200.4L1126.3,199.4L1127.7,198.7L1129.3,198.3L1131.0,198.3L1132.8,198.5L1134.5,198.8L1136.0,199.3L1137.4,200.2L1138.7,201.4L1139.9,203.0L1140.9,204.7L1141.8,206.6L1142.7,208.6L1143.5,210.8L1144.0,213.2L1144.3,215.9L1144.3,218.8ZM1143.1,222.0L1143.0,225.4L1142.8,228.4L1142.6,231.3L1142.2,234.0L1141.5,236.4L1140.7,238.6L1139.8,240.6L1138.8,242.3L1137.6,243.9L1136.4,245.2L1135.0,246.1L1133.5,246.5L1131.9,246.5L1130.1,246.3L1128.7,246.0L1127.3,245.6L1126.0,244.8L1124.8,243.7L1123.8,242.1L1122.9,240.2L1122.2,238.1L1121.5,235.8L1120.9,233.5L1120.4,231.0L1120.1,228.3L1119.9,225.4L1119.8,222.0L1119.8,218.9L1119.8,216.0L1119.9,213.2L1120.3,210.7L1121.0,208.4L1121.8,206.5L1122.8,204.9L1123.8,203.4L1124.9,202.0L1126.0,200.7L1127.3,199.8L1128.6,199.3L1130.1,199.1L1131.9,199.2L1133.5,199.5L1135.0,200.0L1136.3,200.7L1137.6,201.9L1138.7,203.4L1139.6,205.1L1140.5,206.9L1141.3,208.8L1142.1,210.9L1142.8,213.3L1143.1,215.9L1143.2,218.8ZM1141.8,222.0L1141.7,225.4L1141.6,228.5L1141.4,231.3L1140.9,234.0L1140.2,236.4L1139.4,238.5L1138.5,240.5L1137.5,242.3L1136.4,243.8L1135.1,244.8L1133.8,245.3L1132.3,245.5L1130.6,245.4L1129.1,245.2L1127.8,244.8L1126.5,244.1L1125.4,242.9L1124.4,241.2L1123.6,239.3L1122.8,237.2L1122.2,234.9L1121.7,232.5L1121.3,229.8L1121.1,226.9L1121.1,223.8L1121.0,220.3L1121.0,217.4L1121.0,214.6L1121.2,211.9L1121.8,209.5L1122.6,207.5L1123.5,205.8L1124.5,204.3L1125.5,202.9L1126.6,201.7L1127.8,200.8L1129.1,200.2L1130.6,200.0L1132.3,200.0L1133.7,200.3L1135.1,201.0L1136.3,202.1L1137.4,203.5L1138.4,205.1L1139.3,206.9L1140.1,208.8L1140.9,210.9L1141.5,213.2L1141.8,215.9L1141.9,218.8ZM1140.7,222.0L1140.6,225.5L1140.5,228.6L1140.3,231.5L1139.8,234.2L1139.1,236.6L1138.3,238.6L1137.4,240.5L1136.3,242.1L1135.2,243.4L1133.9,244.1L1132.6,244.4L1131.0,244.3L1129.6,244.1L1128.3,243.7L1127.1,243.1L1126.0,242.0L1125.1,240.3L1124.3,238.3L1123.6,236.1L1123.0,233.8L1122.5,231.2L1122.2,228.4L1122.1,225.4L1122.0,222.0L1122.0,218.8L1122.0,215.9L1122.2,213.1L1122.6,210.5L1123.3,208.5L1124.2,206.7L1125.1,205.2L1126.1,203.7L1127.1,202.4L1128.2,201.5L1129.5,201.0L1131.0,200.9L1132.6,201.1L1133.9,201.6L1135.1,202.4L1136.3,203.6L1137.2,205.2L1138.1,207.0L1138.9,208.9L1139.6,210.9L1140.2,213.2L1140.6,215.9L1140.7,218.7ZM1139.6,222.0L1139.6,225.6L1139.5,228.8L1139.2,231.9L1138.6,234.5L1137.9,236.8L1137.0,238.9L1136.1,240.7L1135.0,242.1L1133.8,243.0L1132.5,243.3L1131.0,243.3L1129.6,243.1L1128.4,242.7L1127.3,241.8L1126.3,240.4L1125.5,238.5L1124.8,236.3L1124.1,234.0L1123.6,231.4L1123.3,228.6L1123.1,225.5L1123.1,222.0L1123.0,218.7L1123.0,215.7L1123.3,212.8L1123.8,210.3L1124.5,208.2L1125.4,206.5L1126.3,204.9L1127.3,203.5L1128.4,202.6L1129.6,202.1L1131.0,201.9L1132.5,202.1L1133.8,202.6L1135.0,203.6L1136.0,205.0L1136.9,206.7L1137.7,208.7L1138.4,210.7L1139.0,213.1L1139.4,215.7L1139.5,218.7ZM1138.5,222.0L1138.5,225.6L1138.3,228.8L1138.0,231.8L1137.5,234.5L1136.8,236.8L1135.9,238.7L1135.0,240.3L1133.9,241.5L1132.7,242.2L1131.4,242.4L1130.0,242.3L1128.8,241.8L1127.8,240.9L1126.8,239.4L1126.0,237.6L1125.4,235.4L1124.8,232.9L1124.4,230.2L1124.1,227.2L1124.0,223.9L1123.9,220.2L1124.0,217.1L1124.2,214.2L1124.6,211.5L1125.2,209.3L1126.0,207.4L1126.8,205.8L1127.8,204.4L1128.8,203.5L1130.0,203.1L1131.4,203.0L1132.7,203.3L1133.9,204.0L1134.9,205.1L1135.9,206.7L1136.6,208.6L1137.3,210.7L1137.9,213.0L1138.3,215.7L1138.5,218.6ZM1137.5,222.0L1137.4,225.7L1137.3,228.9L1136.9,231.9L1136.4,234.5L1135.7,236.6L1134.9,238.5L1133.9,239.9L1132.9,240.8L1131.7,241.2L1130.4,241.1L1129.3,240.7L1128.3,239.9L1127.4,238.5L1126.6,236.6L1126.0,234.3L1125.5,231.7L1125.1,228.9L1124.9,225.7L1124.9,222.0L1124.9,218.6L1125.0,215.5L1125.3,212.7L1125.9,210.4L1126.6,208.5L1127.4,206.8L1128.3,205.5L1129.3,204.6L1130.4,204.2L1131.7,204.3L1132.8,204.7L1133.9,205.5L1134.8,206.8L1135.6,208.6L1136.3,210.7L1136.8,213.0L1137.3,215.6L1137.5,218.6ZM1136.6,222.0L1136.4,225.7L1136.2,228.9L1135.9,231.8L1135.4,234.4L1134.7,236.5L1133.9,238.1L1132.9,239.2L1131.9,239.8L1130.7,239.8L1129.7,239.5L1128.7,238.7L1127.9,237.4L1127.2,235.5L1126.6,233.2L1126.2,230.5L1125.9,227.4L1125.8,224.0L1125.8,220.1L1125.9,217.0L1126.1,214.1L1126.6,211.6L1127.3,209.7L1128.0,208.0L1128.7,206.5L1129.6,205.6L1130.7,205.3L1131.9,205.5L1132.9,206.1L1133.8,207.1L1134.6,208.7L1135.2,210.8L1135.8,213.1L1136.2,215.6L1136.5,218.5ZM1135.6,222.0L1135.5,225.9L1135.3,229.1L1134.9,232.0L1134.3,234.4L1133.6,236.3L1132.8,237.6L1131.8,238.3L1130.7,238.4L1129.8,238.0L1128.9,237.2L1128.2,235.6L1127.6,233.4L1127.1,230.7L1126.8,227.6L1126.7,224.1L1126.7,220.1L1126.8,216.8L1127.1,214.0L1127.6,211.6L1128.3,209.7L1129.0,208.1L1129.8,207.0L1130.7,206.6L1131.8,206.8L1132.8,207.5L1133.6,208.8L1134.2,210.7L1134.8,212.9L1135.2,215.4L1135.5,218.4ZM1134.6,222.0L1134.5,226.0L1134.3,229.3L1133.8,232.1L1133.3,234.3L1132.6,236.0L1131.7,236.9L1130.7,237.0L1129.9,236.5L1129.2,235.2L1128.6,233.3L1128.1,230.8L1127.8,227.7L1127.6,224.1L1127.6,220.0L1127.8,216.7L1128.1,213.9L1128.6,211.6L1129.2,209.8L1129.9,208.4L1130.7,207.9L1131.7,208.2L1132.6,209.0L1133.3,210.6L1133.8,212.7L1134.2,215.3L1134.5,218.3ZM1133.6,222.0L1133.6,226.1L1133.3,229.4L1132.9,232.0L1132.3,234.0L1131.6,235.2L1130.8,235.3L1130.1,234.6L1129.5,233.1L1129.0,230.7L1128.7,227.8L1128.5,224.2L1128.6,220.0L1128.7,216.7L1129.0,213.9L1129.5,211.7L1130.1,210.2L1130.8,209.5L1131.6,209.8L1132.3,210.9L1132.9,212.8L1133.3,215.2L1133.5,218.3ZM1132.7,222.0L1132.6,226.1L1132.4,229.2L1132.0,231.5L1131.5,232.9L1130.8,233.1L1130.3,232.2L1129.9,230.3L1129.6,227.6L1129.4,224.2L1129.4,220.0L1129.6,216.8L1129.9,214.2L1130.3,212.4L1130.8,211.7L1131.5,211.9L1132.0,213.2L1132.4,215.3L1132.6,218.3Z" fill="#000" fill-opacity="0.03" stroke="#333" stroke-width="0.45" stroke-linejoin="round"/>
<path d="M1154.2,267.0L1154.3,275.4L1154.4,281.5L1154.1,286.9L1153.4,291.7L1152.3,295.7L1150.8,299.2L1149.2,302.1L1147.5,304.8L1145.7,307.4L1143.7,309.7L1141.4,311.7L1138.8,313.2L1135.7,313.9L1131.2,314.0L1127.6,313.5L1125.0,312.6L1122.9,311.4L1120.9,310.0L1119.0,308.3L1117.3,306.2L1115.8,303.6L1114.4,300.5L1113.4,296.6L1112.6,292.2L1112.2,287.1L1112.0,281.6L1112.0,275.5L1112.0,267.0L1112.0,257.0L1112.0,249.8L1112.3,243.5L1112.9,237.9L1113.8,233.0L1114.9,228.7L1116.1,224.9L1117.5,221.4L1119.0,218.4L1120.8,215.9L1122.7,213.9L1124.9,212.5L1127.5,211.7L1131.2,211.5L1135.7,211.9L1138.8,212.8L1141.5,214.3L1143.8,216.3L1145.9,218.7L1147.9,221.5L1149.6,224.8L1151.2,228.5L1152.5,232.8L1153.5,237.8L1154.1,243.6L1154.3,250.0L1154.3,257.1ZM1152.1,267.0L1152.1,275.1L1152.2,281.0L1152.0,286.3L1151.4,291.0L1150.4,295.0L1149.1,298.3L1147.6,301.2L1146.0,303.8L1144.4,306.2L1142.5,308.5L1140.5,310.4L1138.1,311.9L1135.3,312.6L1131.2,312.7L1127.9,312.2L1125.6,311.3L1123.6,310.1L1121.8,308.7L1120.2,307.1L1118.6,305.0L1117.3,302.4L1116.1,299.3L1115.1,295.5L1114.5,291.2L1114.0,286.4L1113.8,281.2L1113.7,275.3L1113.7,267.0L1113.5,257.2L1113.6,250.1L1113.9,244.0L1114.5,238.6L1115.3,233.8L1116.3,229.7L1117.4,225.9L1118.7,222.6L1120.1,219.6L1121.7,217.1L1123.4,215.1L1125.5,213.8L1127.8,213.1L1131.2,213.0L1135.3,213.5L1138.1,214.5L1140.5,216.0L1142.6,217.9L1144.6,220.2L1146.3,223.0L1147.9,226.1L1149.3,229.7L1150.6,233.8L1151.5,238.6L1152.1,244.2L1152.3,250.4L1152.2,257.4ZM1151.0,267.0L1151.0,275.0L1151.0,280.7L1150.8,285.9L1150.3,290.6L1149.4,294.6L1148.2,298.0L1146.8,300.8L1145.3,303.3L1143.7,305.6L1141.9,307.7L1140.0,309.6L1137.7,311.1L1135.1,311.9L1131.2,312.1L1128.0,311.7L1125.9,310.9L1124.0,309.7L1122.3,308.2L1120.7,306.4L1119.3,304.3L1118.0,301.8L1116.9,298.8L1115.9,295.2L1115.3,291.0L1114.8,286.2L1114.7,281.0L1114.7,275.1L1114.7,267.0L1114.6,257.4L1114.6,250.5L1114.9,244.5L1115.4,239.1L1116.2,234.4L1117.1,230.4L1118.2,226.8L1119.4,223.5L1120.7,220.7L1122.2,218.2L1123.9,216.2L1125.8,214.9L1128.0,214.1L1131.2,214.0L1135.1,214.4L1137.7,215.3L1140.0,216.7L1142.0,218.6L1143.9,220.9L1145.5,223.7L1147.0,226.9L1148.3,230.4L1149.5,234.4L1150.4,239.1L1151.1,244.4L1151.3,250.6L1151.2,257.5ZM1150.2,267.0L1150.0,274.9L1149.9,280.5L1149.7,285.5L1149.3,290.1L1148.6,294.2L1147.5,297.7L1146.2,300.7L1144.8,303.2L1143.2,305.4L1141.5,307.3L1139.6,309.0L1137.4,310.4L1134.9,311.3L1131.2,311.6L1128.2,311.3L1126.1,310.5L1124.3,309.2L1122.7,307.6L1121.3,305.6L1120.0,303.5L1118.7,301.0L1117.6,298.1L1116.7,294.7L1115.9,290.7L1115.5,286.1L1115.2,281.0L1115.2,275.1L1115.3,267.0L1115.3,257.5L1115.3,250.7L1115.6,244.6L1116.1,239.3L1116.8,234.7L1117.7,230.7L1118.8,227.3L1120.0,224.2L1121.3,221.5L1122.7,219.1L1124.3,217.2L1126.1,215.8L1128.2,215.1L1131.2,214.9L1134.9,215.3L1137.4,216.1L1139.6,217.4L1141.6,219.2L1143.3,221.5L1144.9,224.2L1146.2,227.5L1147.4,231.1L1148.5,235.2L1149.4,239.7L1150.1,244.9L1150.4,250.8L1150.4,257.6ZM1149.4,267.0L1149.3,274.8L1149.2,280.3L1149.0,285.3L1148.5,289.8L1147.8,293.8L1146.8,297.2L1145.5,300.1L1144.1,302.6L1142.6,304.7L1141.0,306.7L1139.2,308.4L1137.1,309.8L1134.7,310.6L1131.2,310.9L1128.3,310.7L1126.3,309.9L1124.6,308.7L1123.1,307.2L1121.7,305.3L1120.4,303.1L1119.3,300.6L1118.2,297.7L1117.3,294.4L1116.5,290.5L1116.0,286.0L1115.8,280.9L1115.7,275.1L1115.8,267.0L1115.8,257.5L1115.9,250.8L1116.2,244.9L1116.7,239.7L1117.4,235.1L1118.3,231.1L1119.3,227.6L1120.4,224.6L1121.7,221.9L1123.0,219.7L1124.6,217.9L1126.3,216.7L1128.3,216.0L1131.2,215.8L1134.7,216.1L1137.1,216.8L1139.3,218.0L1141.1,219.8L1142.8,222.1L1144.2,225.0L1145.5,228.2L1146.6,231.8L1147.7,235.7L1148.6,240.1L1149.2,245.2L1149.6,251.0L1149.6,257.7ZM1148.7,267.0L1148.5,274.7L1148.4,280.1L1148.2,285.1L1147.9,289.6L1147.2,293.5L1146.2,296.9L1145.0,299.7L1143.6,302.1L1142.2,304.2L1140.6,306.2L1138.9,307.9L1136.9,309.2L1134.6,310.0L1131.2,310.3L1128.4,310.0L1126.5,309.3L1124.9,308.1L1123.4,306.6L1122.1,304.8L1120.9,302.6L1119.8,300.0L1118.8,297.1L1117.9,293.9L1117.2,290.1L1116.6,285.8L1116.3,280.8L1116.2,275.1L1116.3,267.0L1116.4,257.6L1116.6,251.0L1116.8,245.2L1117.3,240.1L1118.0,235.5L1118.8,231.5L1119.8,228.1L1120.8,225.0L1122.0,222.4L1123.4,220.2L1124.8,218.6L1126.5,217.4L1128.4,216.8L1131.2,216.6L1134.6,216.7L1136.9,217.3L1139.0,218.4L1140.8,220.1L1142.4,222.5L1143.7,225.4L1144.9,228.8L1146.0,232.3L1147.0,236.2L1147.9,240.4L1148.6,245.3L1149.0,251.1L1149.0,257.7ZM1147.8,267.0L1147.6,274.5L1147.6,279.8L1147.4,284.7L1147.1,289.1L1146.4,293.0L1145.5,296.4L1144.4,299.2L1143.1,301.7L1141.7,303.8L1140.2,305.8L1138.6,307.4L1136.7,308.6L1134.4,309.4L1131.2,309.6L1128.5,309.4L1126.7,308.7L1125.1,307.7L1123.7,306.3L1122.4,304.5L1121.2,302.3L1120.2,299.7L1119.3,296.8L1118.5,293.5L1117.7,289.8L1117.2,285.6L1116.9,280.7L1116.7,275.0L1116.8,267.0L1116.9,257.7L1117.1,251.1L1117.3,245.4L1117.8,240.3L1118.4,235.8L1119.3,231.9L1120.2,228.5L1121.2,225.5L1122.4,222.9L1123.7,220.7L1125.1,219.0L1126.7,217.8L1128.5,217.1L1131.2,217.0L1134.4,217.2L1136.7,217.9L1138.7,219.0L1140.4,220.7L1141.9,223.0L1143.3,225.8L1144.4,229.1L1145.4,232.7L1146.4,236.5L1147.2,240.8L1147.8,245.7L1148.1,251.4L1148.1,257.9ZM1147.0,267.0L1146.9,274.3L1146.9,279.6L1146.7,284.4L1146.4,288.8L1145.8,292.7L1145.0,296.1L1143.9,299.0L1142.7,301.4L1141.4,303.6L1139.9,305.5L1138.3,307.0L1136.5,308.2L1134.3,308.9L1131.2,309.2L1128.6,309.0L1126.9,308.3L1125.3,307.3L1124.0,305.8L1122.7,304.0L1121.6,301.9L1120.6,299.4L1119.7,296.6L1118.9,293.3L1118.2,289.6L1117.7,285.4L1117.4,280.5L1117.3,274.9L1117.2,267.0L1117.3,257.7L1117.5,251.2L1117.8,245.6L1118.3,240.6L1119.0,236.3L1119.8,232.4L1120.6,229.0L1121.6,226.0L1122.7,223.4L1123.9,221.2L1125.3,219.5L1126.9,218.4L1128.6,217.8L1131.2,217.6L1134.3,217.8L1136.5,218.4L1138.4,219.5L1140.0,221.2L1141.5,223.5L1142.8,226.4L1143.9,229.6L1144.9,233.1L1145.8,237.0L1146.5,241.2L1147.1,246.1L1147.4,251.7L1147.3,258.1ZM1146.5,267.0L1146.4,274.3L1146.4,279.6L1146.3,284.3L1145.9,288.7L1145.4,292.5L1144.6,295.9L1143.5,298.8L1142.4,301.3L1141.1,303.5L1139.7,305.4L1138.1,306.9L1136.3,308.0L1134.2,308.7L1131.2,308.9L1128.7,308.7L1127.0,308.0L1125.5,307.0L1124.2,305.6L1123.0,303.7L1122.0,301.6L1121.0,299.1L1120.1,296.2L1119.4,293.0L1118.7,289.3L1118.2,285.2L1117.9,280.4L1117.8,274.9L1117.8,267.0L1117.9,257.8L1118.1,251.5L1118.4,246.0L1118.9,241.2L1119.6,237.0L1120.3,233.2L1121.1,229.9L1122.1,226.9L1123.1,224.3L1124.3,222.1L1125.6,220.4L1127.1,219.3L1128.8,218.6L1131.2,218.3L1134.2,218.4L1136.3,219.0L1138.1,220.1L1139.7,221.8L1141.1,224.0L1142.3,226.8L1143.4,230.0L1144.4,233.5L1145.2,237.3L1145.9,241.5L1146.5,246.4L1146.7,251.9L1146.7,258.2ZM1146.4,267.0L1146.3,274.5L1146.2,279.7L1145.9,284.4L1145.5,288.5L1144.9,292.3L1144.1,295.6L1143.1,298.5L1142.0,301.0L1140.7,303.1L1139.4,304.9L1137.8,306.4L1136.1,307.5L1134.1,308.2L1131.2,308.4L1128.8,308.2L1127.2,307.5L1125.8,306.4L1124.5,304.9L1123.4,303.1L1122.4,301.0L1121.4,298.5L1120.6,295.7L1119.9,292.6L1119.3,288.9L1118.8,284.8L1118.5,280.2L1118.4,274.7L1118.4,267.0L1118.5,258.0L1118.7,251.8L1119.0,246.4L1119.5,241.6L1120.0,237.4L1120.7,233.6L1121.5,230.2L1122.4,227.3L1123.4,224.8L1124.5,222.7L1125.8,221.1L1127.2,219.9L1128.8,219.1L1131.2,218.8L1134.1,219.0L1136.1,219.6L1137.8,220.6L1139.4,222.3L1140.8,224.4L1142.0,227.1L1143.0,230.2L1143.9,233.7L1144.7,237.5L1145.4,241.8L1145.9,246.6L1146.2,252.0L1146.4,258.2ZM1146.1,267.0L1146.0,274.5L1145.7,279.7L1145.4,284.2L1144.9,288.2L1144.3,291.9L1143.5,295.2L1142.6,298.1L1141.6,300.6L1140.4,302.8L1139.1,304.5L1137.6,305.9L1135.9,306.9L1134.0,307.6L1131.2,307.8L1128.9,307.6L1127.3,306.9L1126.0,305.9L1124.7,304.5L1123.6,302.8L1122.6,300.7L1121.8,298.3L1121.0,295.4L1120.3,292.1L1119.8,288.4L1119.4,284.4L1119.2,279.8L1118.9,274.6L1118.8,267.0L1118.9,258.1L1119.1,251.9L1119.5,246.7L1119.9,242.0L1120.5,237.9L1121.1,234.1L1121.9,230.7L1122.7,227.7L1123.7,225.2L1124.8,223.1L1126.0,221.5L1127.4,220.3L1128.9,219.6L1131.2,219.4L1134.0,219.6L1135.9,220.2L1137.6,221.3L1139.1,222.8L1140.4,224.9L1141.6,227.4L1142.7,230.4L1143.6,233.8L1144.3,237.7L1144.9,242.0L1145.4,246.7L1145.8,252.0L1146.0,258.2ZM1145.5,267.0L1145.4,274.4L1145.2,279.6L1144.9,284.1L1144.4,288.1L1143.8,291.7L1143.1,294.9L1142.2,297.7L1141.2,300.2L1140.0,302.2L1138.7,304.0L1137.3,305.3L1135.7,306.4L1133.9,307.0L1131.2,307.2L1129.0,307.0L1127.5,306.3L1126.2,305.3L1125.0,303.9L1124.0,302.1L1123.0,300.0L1122.2,297.6L1121.4,294.9L1120.8,291.7L1120.3,288.2L1119.9,284.2L1119.6,279.7L1119.4,274.5L1119.4,267.0L1119.4,258.2L1119.6,252.1L1119.9,246.9L1120.3,242.2L1120.8,238.0L1121.4,234.2L1122.2,230.9L1123.0,228.1L1123.9,225.6L1125.0,223.5L1126.2,221.9L1127.5,220.7L1129.0,220.0L1131.2,219.7L1133.9,219.9L1135.8,220.5L1137.4,221.6L1138.8,223.2L1140.1,225.3L1141.2,227.8L1142.3,230.7L1143.1,234.1L1143.9,238.0L1144.5,242.2L1144.9,246.9L1145.3,252.2L1145.4,258.3ZM1145.1,267.0L1145.0,274.4L1144.8,279.5L1144.5,283.9L1144.0,287.9L1143.4,291.5L1142.7,294.7L1141.8,297.4L1140.8,299.8L1139.7,301.9L1138.5,303.5L1137.1,304.8L1135.5,305.8L1133.8,306.4L1131.2,306.7L1129.1,306.5L1127.6,305.8L1126.4,304.7L1125.3,303.3L1124.3,301.5L1123.4,299.4L1122.6,297.0L1121.9,294.3L1121.3,291.3L1120.8,287.8L1120.3,283.9L1120.0,279.5L1119.8,274.4L1119.7,267.0L1119.8,258.3L1120.0,252.2L1120.3,247.0L1120.7,242.4L1121.2,238.2L1121.8,234.6L1122.5,231.3L1123.3,228.5L1124.2,226.0L1125.2,224.0L1126.4,222.4L1127.6,221.2L1129.1,220.4L1131.2,220.1L1133.8,220.3L1135.6,221.0L1137.1,222.2L1138.5,223.9L1139.7,225.9L1140.8,228.4L1141.8,231.3L1142.7,234.6L1143.4,238.3L1144.0,242.4L1144.5,247.0L1144.8,252.3L1145.0,258.3ZM1144.5,267.0L1144.4,274.3L1144.2,279.3L1143.9,283.7L1143.5,287.6L1143.0,291.2L1142.3,294.4L1141.4,297.1L1140.5,299.5L1139.4,301.5L1138.2,303.1L1136.9,304.5L1135.4,305.4L1133.7,306.1L1131.2,306.3L1129.2,306.1L1127.8,305.5L1126.5,304.4L1125.5,303.0L1124.5,301.3L1123.6,299.2L1122.9,296.9L1122.2,294.2L1121.6,291.1L1121.1,287.7L1120.7,283.8L1120.4,279.4L1120.2,274.3L1120.2,267.0L1120.2,258.4L1120.4,252.4L1120.7,247.2L1121.1,242.7L1121.6,238.6L1122.2,235.0L1122.8,231.8L1123.6,229.0L1124.5,226.5L1125.5,224.5L1126.5,222.9L1127.8,221.8L1129.2,221.1L1131.2,220.8L1133.7,221.0L1135.4,221.6L1136.9,222.7L1138.2,224.3L1139.4,226.3L1140.5,228.8L1141.4,231.7L1142.2,235.0L1142.9,238.7L1143.5,242.8L1143.9,247.3L1144.3,252.5L1144.5,258.4ZM1144.1,267.0L1144.0,274.2L1143.8,279.2L1143.5,283.6L1143.1,287.4L1142.5,290.9L1141.8,294.0L1141.0,296.7L1140.1,299.0L1139.1,301.0L1137.9,302.6L1136.7,304.0L1135.2,305.0L1133.6,305.7L1131.2,306.0L1129.2,305.9L1127.9,305.3L1126.7,304.3L1125.6,302.9L1124.7,301.1L1123.9,299.1L1123.1,296.7L1122.5,293.9L1122.0,290.8L1121.5,287.3L1121.2,283.5L1120.9,279.2L1120.7,274.2L1120.6,267.0L1120.6,258.4L1120.8,252.5L1121.1,247.5L1121.5,243.0L1122.0,239.0L1122.5,235.4L1123.2,232.2L1123.9,229.4L1124.7,227.0L1125.7,225.0L1126.7,223.4L1127.9,222.3L1129.2,221.6L1131.2,221.3L1133.6,221.6L1135.2,222.3L1136.7,223.4L1137.9,225.0L1139.1,227.1L1140.1,229.5L1141.0,232.3L1141.8,235.5L1142.4,239.0L1143.0,243.0L1143.5,247.5L1143.9,252.6L1144.1,258.5ZM1143.6,267.0L1143.6,274.2L1143.4,279.1L1143.0,283.4L1142.6,287.2L1142.1,290.6L1141.4,293.7L1140.7,296.4L1139.8,298.7L1138.8,300.7L1137.7,302.2L1136.4,303.5L1135.1,304.5L1133.5,305.1L1131.2,305.4L1129.3,305.3L1128.0,304.7L1126.9,303.7L1125.9,302.3L1125.0,300.6L1124.2,298.6L1123.5,296.3L1122.9,293.5L1122.3,290.4L1121.9,287.0L1121.6,283.2L1121.3,279.0L1121.1,274.1L1120.9,267.0L1120.9,258.4L1121.1,252.6L1121.4,247.6L1121.8,243.2L1122.3,239.3L1122.9,235.8L1123.5,232.7L1124.2,229.9L1125.0,227.6L1125.9,225.6L1126.9,224.0L1128.0,222.8L1129.3,222.0L1131.2,221.7L1133.5,221.9L1135.1,222.5L1136.5,223.7L1137.7,225.3L1138.8,227.3L1139.8,229.8L1140.6,232.6L1141.4,235.8L1142.0,239.4L1142.5,243.4L1142.9,247.9L1143.3,252.9L1143.5,258.6ZM1143.3,267.0L1143.2,274.2L1143.0,279.0L1142.6,283.2L1142.1,286.9L1141.6,290.3L1141.0,293.3L1140.3,296.0L1139.4,298.3L1138.5,300.3L1137.4,301.9L1136.3,303.2L1134.9,304.2L1133.4,304.9L1131.2,305.2L1129.4,305.1L1128.1,304.4L1127.0,303.4L1126.1,302.1L1125.2,300.4L1124.4,298.4L1123.7,296.1L1123.1,293.3L1122.7,290.2L1122.3,286.8L1122.0,283.0L1121.7,278.8L1121.5,274.0L1121.3,267.0L1121.3,258.6L1121.5,252.8L1121.8,247.8L1122.2,243.5L1122.7,239.7L1123.2,236.3L1123.8,233.2L1124.5,230.4L1125.2,228.1L1126.1,226.1L1127.1,224.5L1128.1,223.4L1129.4,222.7L1131.2,222.4L1133.4,222.6L1134.9,223.3L1136.3,224.4L1137.4,226.0L1138.5,228.0L1139.4,230.3L1140.2,233.1L1140.9,236.3L1141.5,239.8L1142.1,243.8L1142.5,248.1L1142.9,253.0L1143.2,258.6ZM1142.9,267.0L1142.9,274.1L1142.6,279.0L1142.2,283.1L1141.7,286.7L1141.3,290.1L1140.7,293.1L1140.0,295.8L1139.1,298.0L1138.2,299.9L1137.2,301.4L1136.1,302.7L1134.8,303.8L1133.3,304.6L1131.2,304.9L1129.4,304.8L1128.2,304.2L1127.2,303.1L1126.2,301.8L1125.4,300.1L1124.7,298.2L1124.0,295.8L1123.4,293.1L1123.0,290.0L1122.7,286.5L1122.4,282.7L1122.2,278.6L1121.9,273.9L1121.8,267.0L1121.7,258.7L1121.9,253.0L1122.2,248.2L1122.6,244.0L1123.0,240.2L1123.5,236.7L1124.1,233.7L1124.8,231.0L1125.5,228.7L1126.3,226.8L1127.2,225.3L1128.3,224.1L1129.5,223.3L1131.2,223.0L1133.3,223.2L1134.8,223.9L1136.1,225.0L1137.2,226.5L1138.2,228.3L1139.1,230.6L1139.9,233.4L1140.6,236.6L1141.1,240.2L1141.6,244.2L1142.0,248.4L1142.4,253.2L1142.7,258.7ZM1142.4,267.0L1142.3,274.0L1142.1,278.8L1141.8,282.9L1141.4,286.6L1140.9,289.9L1140.3,292.9L1139.6,295.5L1138.8,297.7L1137.9,299.6L1137.0,301.1L1135.9,302.4L1134.7,303.4L1133.2,304.0L1131.2,304.2L1129.5,304.1L1128.4,303.4L1127.4,302.4L1126.5,301.0L1125.7,299.4L1125.0,297.5L1124.3,295.2L1123.8,292.6L1123.3,289.6L1123.0,286.3L1122.7,282.6L1122.4,278.6L1122.2,273.9L1122.1,267.0L1122.1,258.8L1122.3,253.2L1122.6,248.4L1122.9,244.2L1123.4,240.5L1123.8,237.1L1124.4,234.1L1125.0,231.4L1125.7,229.1L1126.5,227.2L1127.4,225.7L1128.4,224.5L1129.5,223.8L1131.2,223.5L1133.2,223.6L1134.7,224.2L1135.9,225.3L1137.0,226.7L1138.0,228.6L1138.8,231.0L1139.6,233.8L1140.2,237.0L1140.7,240.5L1141.2,244.4L1141.6,248.7L1141.9,253.4L1142.2,258.9ZM1141.9,267.0L1141.9,274.0L1141.8,278.8L1141.4,282.8L1141.0,286.4L1140.5,289.6L1139.9,292.4L1139.2,295.0L1138.5,297.2L1137.6,299.0L1136.7,300.6L1135.7,301.9L1134.5,302.9L1133.2,303.5L1131.2,303.8L1129.6,303.6L1128.5,303.1L1127.5,302.1L1126.6,300.8L1125.9,299.2L1125.2,297.2L1124.6,294.9L1124.1,292.2L1123.7,289.2L1123.3,286.0L1123.0,282.4L1122.8,278.5L1122.5,273.8L1122.4,267.0L1122.5,258.9L1122.6,253.3L1122.9,248.6L1123.3,244.5L1123.7,240.8L1124.1,237.4L1124.7,234.5L1125.3,231.9L1126.0,229.6L1126.7,227.8L1127.6,226.3L1128.5,225.1L1129.6,224.3L1131.2,224.0L1133.2,224.1L1134.5,224.6L1135.7,225.7L1136.8,227.1L1137.7,229.0L1138.5,231.4L1139.2,234.1L1139.8,237.3L1140.3,240.9L1140.7,244.8L1141.1,249.0L1141.4,253.6L1141.7,259.0ZM1141.5,267.0L1141.5,273.8L1141.2,278.6L1140.9,282.5L1140.5,286.0L1140.1,289.2L1139.5,292.1L1138.9,294.6L1138.2,296.8L1137.4,298.7L1136.5,300.3L1135.5,301.6L1134.4,302.5L1133.1,303.1L1131.2,303.3L1129.7,303.1L1128.6,302.6L1127.7,301.6L1126.8,300.4L1126.1,298.8L1125.4,296.9L1124.9,294.6L1124.4,291.9L1124.0,289.0L1123.7,285.7L1123.4,282.2L1123.1,278.3L1122.9,273.7L1122.8,267.0L1122.8,259.0L1123.0,253.5L1123.3,248.9L1123.6,244.8L1124.0,241.1L1124.4,237.8L1124.9,234.9L1125.5,232.2L1126.2,230.0L1126.9,228.1L1127.7,226.7L1128.6,225.6L1129.7,224.9L1131.2,224.7L1133.1,224.8L1134.4,225.4L1135.5,226.3L1136.5,227.7L1137.4,229.5L1138.2,231.8L1138.9,234.5L1139.5,237.7L1140.0,241.2L1140.3,245.0L1140.7,249.2L1141.0,253.7L1141.3,259.1ZM1141.0,267.0L1141.0,273.8L1140.8,278.4L1140.5,282.4L1140.2,285.9L1139.7,289.0L1139.2,291.9L1138.6,294.3L1137.9,296.5L1137.1,298.3L1136.3,299.9L1135.3,301.1L1134.3,302.1L1133.0,302.7L1131.2,302.9L1129.7,302.7L1128.7,302.1L1127.8,301.1L1127.0,299.9L1126.3,298.3L1125.7,296.4L1125.2,294.2L1124.7,291.6L1124.3,288.7L1124.0,285.6L1123.7,282.1L1123.4,278.2L1123.3,273.7L1123.2,267.0L1123.3,259.2L1123.4,253.8L1123.7,249.3L1124.0,245.2L1124.3,241.4L1124.7,238.1L1125.2,235.1L1125.7,232.5L1126.4,230.4L1127.1,228.6L1127.8,227.2L1128.7,226.2L1129.7,225.6L1131.2,225.4L1133.0,225.6L1134.2,226.1L1135.3,227.0L1136.3,228.3L1137.2,230.0L1137.9,232.2L1138.6,234.9L1139.1,238.0L1139.6,241.5L1140.0,245.3L1140.3,249.4L1140.6,253.9L1140.9,259.2ZM1140.6,267.0L1140.6,273.7L1140.4,278.3L1140.1,282.2L1139.8,285.6L1139.3,288.6L1138.8,291.3L1138.2,293.8L1137.6,296.0L1136.9,297.9L1136.1,299.5L1135.2,300.8L1134.1,301.7L1132.9,302.3L1131.2,302.4L1129.8,302.2L1128.8,301.7L1128.0,300.8L1127.2,299.6L1126.5,298.0L1125.9,296.1L1125.4,293.8L1125.0,291.2L1124.6,288.3L1124.3,285.2L1124.0,281.8L1123.8,278.1L1123.6,273.6L1123.5,267.0L1123.6,259.3L1123.8,254.0L1124.0,249.6L1124.3,245.6L1124.6,241.9L1125.0,238.7L1125.5,235.7L1126.0,233.2L1126.6,231.0L1127.3,229.2L1128.0,227.9L1128.8,226.9L1129.8,226.2L1131.2,225.9L1132.9,226.0L1134.1,226.5L1135.2,227.3L1136.1,228.6L1136.9,230.3L1137.7,232.5L1138.3,235.2L1138.8,238.3L1139.3,241.7L1139.6,245.5L1139.9,249.6L1140.2,254.1L1140.4,259.3ZM1140.0,267.0L1140.1,273.5L1140.0,278.1L1139.7,281.9L1139.3,285.3L1138.9,288.2L1138.4,290.8L1137.8,293.1L1137.2,295.3L1136.6,297.3L1135.8,299.0L1135.0,300.3L1134.0,301.2L1132.8,301.6L1131.2,301.8L1129.9,301.6L1128.9,301.2L1128.1,300.4L1127.4,299.3L1126.7,297.7L1126.2,295.8L1125.7,293.5L1125.3,290.9L1124.9,288.1L1124.6,285.0L1124.3,281.7L1124.1,277.9L1123.9,273.5L1123.9,267.0L1123.9,259.3L1124.0,254.1L1124.3,249.6L1124.6,245.7L1124.9,242.2L1125.3,239.0L1125.7,236.2L1126.2,233.6L1126.8,231.4L1127.4,229.5L1128.1,228.1L1128.9,227.1L1129.9,226.5L1131.2,226.3L1132.8,226.4L1134.0,226.9L1135.0,227.7L1135.9,229.0L1136.7,230.8L1137.4,233.0L1138.0,235.7L1138.5,238.7L1138.9,242.1L1139.2,245.8L1139.5,249.9L1139.7,254.4L1139.9,259.5ZM1139.6,267.0L1139.7,273.4L1139.6,278.0L1139.4,281.8L1139.0,285.2L1138.6,288.1L1138.1,290.6L1137.6,293.0L1137.0,295.1L1136.4,297.0L1135.6,298.6L1134.8,299.9L1133.9,300.8L1132.8,301.3L1131.2,301.4L1129.9,301.2L1129.0,300.6L1128.3,299.8L1127.6,298.6L1127.0,297.0L1126.4,295.1L1126.0,292.9L1125.6,290.5L1125.2,287.8L1124.9,284.8L1124.6,281.6L1124.4,277.8L1124.3,273.4L1124.2,267.0L1124.3,259.5L1124.4,254.3L1124.6,249.9L1124.9,246.0L1125.2,242.5L1125.5,239.3L1126.0,236.5L1126.4,234.0L1127.0,231.8L1127.6,230.0L1128.3,228.7L1129.0,227.8L1129.9,227.2L1131.2,227.1L1132.8,227.2L1133.8,227.7L1134.8,228.5L1135.6,229.8L1136.4,231.5L1137.1,233.6L1137.6,236.2L1138.1,239.1L1138.5,242.4L1138.9,246.1L1139.1,250.1L1139.4,254.5L1139.5,259.6ZM1139.2,267.0L1139.2,273.3L1139.1,277.7L1138.9,281.5L1138.6,284.8L1138.2,287.7L1137.8,290.2L1137.3,292.5L1136.7,294.6L1136.1,296.4L1135.4,298.0L1134.6,299.3L1133.7,300.1L1132.7,300.6L1131.2,300.7L1130.0,300.5L1129.1,300.1L1128.4,299.3L1127.7,298.2L1127.1,296.8L1126.6,294.9L1126.2,292.7L1125.8,290.2L1125.5,287.5L1125.2,284.5L1124.9,281.3L1124.7,277.7L1124.6,273.3L1124.5,267.0L1124.6,259.6L1124.7,254.5L1124.9,250.2L1125.2,246.3L1125.5,242.9L1125.8,239.7L1126.2,236.9L1126.7,234.4L1127.2,232.2L1127.7,230.5L1128.4,229.2L1129.1,228.2L1130.0,227.7L1131.2,227.4L1132.7,227.6L1133.7,228.1L1134.6,228.9L1135.4,230.3L1136.2,232.0L1136.8,234.1L1137.3,236.7L1137.8,239.6L1138.2,242.8L1138.5,246.4L1138.8,250.3L1138.9,254.7L1139.1,259.7ZM1138.9,267.0L1138.9,273.2L1138.8,277.6L1138.6,281.4L1138.3,284.6L1137.9,287.5L1137.5,290.0L1137.0,292.3L1136.5,294.3L1135.9,296.2L1135.2,297.7L1134.5,298.9L1133.6,299.7L1132.6,300.2L1131.2,300.3L1130.0,300.1L1129.2,299.5L1128.5,298.7L1127.9,297.6L1127.4,296.2L1126.9,294.5L1126.4,292.4L1126.0,290.0L1125.7,287.3L1125.5,284.4L1125.2,281.1L1125.1,277.5L1125.0,273.2L1125.0,267.0L1125.1,259.9L1125.2,255.0L1125.4,250.7L1125.5,246.8L1125.8,243.3L1126.1,240.1L1126.4,237.2L1126.9,234.8L1127.4,232.8L1127.9,231.2L1128.6,229.9L1129.2,229.0L1130.0,228.4L1131.2,228.2L1132.6,228.3L1133.6,228.8L1134.5,229.6L1135.2,230.9L1135.9,232.6L1136.5,234.6L1137.1,237.0L1137.5,239.8L1137.9,243.0L1138.2,246.5L1138.4,250.4L1138.6,254.8L1138.8,259.8ZM1138.5,267.0L1138.5,273.1L1138.4,277.4L1138.2,281.0L1137.9,284.2L1137.5,287.1L1137.2,289.7L1136.7,292.0L1136.2,294.1L1135.7,295.9L1135.0,297.3L1134.3,298.4L1133.5,299.2L1132.5,299.6L1131.2,299.7L1130.1,299.5L1129.3,299.0L1128.7,298.2L1128.1,297.1L1127.5,295.8L1127.1,294.1L1126.6,292.1L1126.3,289.7L1126.0,287.1L1125.8,284.1L1125.6,280.8L1125.4,277.2L1125.3,273.0L1125.3,267.0L1125.4,259.9L1125.5,255.1L1125.6,250.9L1125.8,247.2L1126.1,243.7L1126.3,240.5L1126.7,237.7L1127.1,235.3L1127.6,233.3L1128.1,231.7L1128.7,230.5L1129.3,229.6L1130.1,229.0L1131.2,228.8L1132.5,228.9L1133.5,229.4L1134.3,230.3L1135.0,231.5L1135.7,233.1L1136.2,235.1L1136.8,237.4L1137.2,240.2L1137.6,243.4L1137.8,246.9L1138.1,250.7L1138.3,255.0L1138.4,259.8ZM1138.1,267.0L1138.1,273.0L1137.9,277.2L1137.7,280.7L1137.5,283.8L1137.2,286.6L1136.8,289.2L1136.4,291.5L1135.9,293.5L1135.4,295.3L1134.8,296.7L1134.1,297.8L1133.4,298.5L1132.5,298.9L1131.2,299.0L1130.2,298.8L1129.4,298.3L1128.8,297.6L1128.3,296.6L1127.7,295.3L1127.3,293.6L1126.9,291.7L1126.5,289.4L1126.3,286.8L1126.0,283.9L1125.8,280.8L1125.7,277.2L1125.6,273.0L1125.6,267.0L1125.6,260.0L1125.7,255.2L1125.9,251.0L1126.0,247.2L1126.3,243.7L1126.5,240.6L1126.9,237.8L1127.3,235.4L1127.7,233.5L1128.2,232.0L1128.8,230.9L1129.4,230.1L1130.2,229.7L1131.2,229.6L1132.5,229.7L1133.3,230.2L1134.1,231.0L1134.8,232.2L1135.4,233.8L1136.0,235.8L1136.4,238.1L1136.9,240.8L1137.2,243.8L1137.5,247.2L1137.7,250.9L1137.9,255.1L1138.0,259.9ZM1137.6,267.0L1137.6,272.8L1137.5,276.9L1137.3,280.4L1137.1,283.5L1136.8,286.2L1136.5,288.7L1136.1,291.0L1135.7,292.9L1135.2,294.7L1134.6,296.1L1134.0,297.2L1133.2,297.9L1132.4,298.4L1131.2,298.5L1130.2,298.4L1129.5,297.9L1128.9,297.2L1128.4,296.2L1127.9,294.8L1127.5,293.2L1127.1,291.3L1126.8,289.1L1126.5,286.6L1126.3,283.8L1126.1,280.6L1126.0,277.0L1125.9,272.9L1125.9,267.0L1125.9,260.1L1126.0,255.3L1126.1,251.1L1126.3,247.4L1126.5,244.0L1126.8,241.0L1127.1,238.3L1127.5,236.0L1127.9,234.1L1128.4,232.6L1128.9,231.4L1129.5,230.7L1130.2,230.2L1131.2,230.1L1132.4,230.3L1133.2,230.9L1133.9,231.7L1134.6,233.0L1135.2,234.5L1135.7,236.4L1136.1,238.7L1136.5,241.3L1136.9,244.2L1137.1,247.5L1137.4,251.2L1137.5,255.4L1137.6,260.1ZM1137.3,267.0L1137.3,272.8L1137.2,276.8L1137.0,280.3L1136.8,283.4L1136.6,286.1L1136.2,288.6L1135.9,290.7L1135.4,292.7L1134.9,294.3L1134.4,295.7L1133.8,296.7L1133.1,297.4L1132.3,297.8L1131.2,297.9L1130.3,297.7L1129.6,297.3L1129.1,296.6L1128.6,295.5L1128.1,294.2L1127.7,292.6L1127.4,290.7L1127.1,288.6L1126.8,286.2L1126.6,283.4L1126.4,280.4L1126.3,276.9L1126.2,272.8L1126.2,267.0L1126.2,260.2L1126.3,255.5L1126.4,251.4L1126.6,247.8L1126.8,244.6L1127.1,241.7L1127.4,239.1L1127.7,236.9L1128.1,234.9L1128.6,233.3L1129.1,232.1L1129.6,231.3L1130.3,230.8L1131.2,230.7L1132.3,230.8L1133.1,231.3L1133.8,232.1L1134.4,233.2L1135.0,234.8L1135.4,236.8L1135.8,239.2L1136.2,241.8L1136.5,244.8L1136.8,248.0L1137.0,251.6L1137.1,255.6L1137.2,260.3ZM1137.0,267.0L1137.0,272.7L1136.9,276.7L1136.8,280.2L1136.5,283.2L1136.3,285.8L1135.9,288.2L1135.6,290.2L1135.2,292.1L1134.7,293.7L1134.2,295.1L1133.6,296.1L1133.0,296.9L1132.3,297.3L1131.2,297.5L1130.3,297.3L1129.7,296.8L1129.2,296.1L1128.7,295.0L1128.3,293.6L1128.0,292.0L1127.6,290.1L1127.3,288.1L1127.1,285.7L1126.9,283.0L1126.7,280.0L1126.6,276.6L1126.5,272.6L1126.5,267.0L1126.6,260.4L1126.6,255.8L1126.7,251.7L1126.9,248.2L1127.1,245.0L1127.3,242.1L1127.6,239.7L1127.9,237.5L1128.3,235.6L1128.7,234.1L1129.2,232.9L1129.7,232.0L1130.3,231.5L1131.2,231.4L1132.3,231.5L1133.0,231.9L1133.6,232.6L1134.2,233.8L1134.7,235.4L1135.2,237.3L1135.6,239.6L1135.9,242.2L1136.2,245.1L1136.4,248.3L1136.6,251.8L1136.8,255.7L1136.9,260.3ZM1136.5,267.0L1136.5,272.6L1136.5,276.4L1136.3,279.8L1136.2,282.7L1135.9,285.3L1135.6,287.6L1135.3,289.7L1134.9,291.5L1134.5,293.2L1134.0,294.6L1133.5,295.6L1132.9,296.4L1132.2,296.8L1131.2,296.9L1130.4,296.7L1129.8,296.2L1129.3,295.5L1128.9,294.5L1128.5,293.2L1128.2,291.6L1127.8,289.8L1127.6,287.7L1127.3,285.5L1127.1,282.9L1126.9,280.0L1126.8,276.6L1126.8,272.6L1126.8,267.0L1126.8,260.4L1126.8,255.8L1127.0,251.9L1127.1,248.4L1127.3,245.3L1127.6,242.6L1127.8,240.2L1128.2,238.0L1128.5,236.2L1128.9,234.7L1129.3,233.5L1129.8,232.7L1130.4,232.2L1131.2,232.1L1132.2,232.2L1132.9,232.6L1133.5,233.3L1134.0,234.4L1134.5,236.0L1134.9,238.0L1135.3,240.3L1135.6,242.9L1135.8,245.8L1136.1,248.9L1136.2,252.3L1136.4,256.1L1136.5,260.5ZM1136.2,267.0L1136.2,272.5L1136.1,276.3L1136.0,279.6L1135.8,282.4L1135.5,285.0L1135.2,287.2L1134.9,289.3L1134.6,291.1L1134.2,292.7L1133.7,294.1L1133.2,295.1L1132.6,295.8L1132.0,296.1L1130.9,296.2L1130.3,296.0L1129.8,295.6L1129.3,294.8L1128.9,293.7L1128.6,292.3L1128.2,290.5L1128.0,288.6L1127.7,286.3L1127.5,283.9L1127.3,281.2L1127.2,278.1L1127.1,274.6L1127.0,270.3L1127.0,263.1L1127.1,258.0L1127.2,253.8L1127.3,250.2L1127.5,246.9L1127.7,244.0L1127.9,241.5L1128.2,239.2L1128.6,237.3L1128.9,235.7L1129.3,234.4L1129.8,233.5L1130.3,232.9L1130.9,232.7L1132.0,232.7L1132.6,233.1L1133.2,233.8L1133.7,234.9L1134.2,236.5L1134.6,238.4L1135.0,240.6L1135.2,243.2L1135.5,245.9L1135.7,249.0L1135.9,252.3L1136.1,256.1L1136.2,260.5ZM1135.9,267.0L1135.9,272.5L1135.8,276.3L1135.6,279.6L1135.4,282.4L1135.2,284.9L1135.0,287.2L1134.7,289.3L1134.3,291.1L1133.9,292.6L1133.5,293.9L1133.0,294.7L1132.4,295.3L1131.7,295.5L1130.8,295.4L1130.2,295.2L1129.7,294.7L1129.3,293.8L1129.0,292.7L1128.6,291.2L1128.4,289.4L1128.1,287.3L1127.9,284.9L1127.7,282.4L1127.6,279.5L1127.5,276.3L1127.4,272.5L1127.4,267.0L1127.4,260.6L1127.5,256.1L1127.6,252.3L1127.7,248.8L1127.9,245.7L1128.1,243.0L1128.3,240.6L1128.6,238.6L1129.0,236.8L1129.3,235.5L1129.7,234.5L1130.2,233.8L1130.8,233.5L1131.7,233.6L1132.4,233.9L1133.0,234.5L1133.5,235.5L1133.9,236.9L1134.3,238.7L1134.7,240.8L1135.0,243.2L1135.2,246.0L1135.4,249.0L1135.6,252.4L1135.7,256.1L1135.8,260.6ZM1135.5,267.0L1135.5,272.5L1135.4,276.3L1135.3,279.6L1135.1,282.6L1134.9,285.1L1134.6,287.3L1134.3,289.3L1134.0,291.0L1133.6,292.4L1133.1,293.5L1132.6,294.3L1132.0,294.7L1131.2,294.8L1130.5,294.7L1130.0,294.3L1129.6,293.6L1129.2,292.5L1128.9,291.1L1128.6,289.3L1128.4,287.2L1128.2,284.9L1128.0,282.4L1127.9,279.5L1127.8,276.3L1127.7,272.5L1127.7,267.0L1127.7,260.6L1127.8,256.1L1127.9,252.2L1128.0,248.9L1128.2,245.9L1128.4,243.2L1128.6,240.9L1128.9,238.8L1129.2,237.1L1129.6,235.7L1130.0,234.8L1130.5,234.3L1131.2,234.2L1132.0,234.4L1132.6,234.9L1133.1,235.8L1133.6,237.0L1134.0,238.7L1134.3,240.7L1134.6,243.1L1134.9,245.7L1135.1,248.7L1135.3,252.1L1135.4,256.0L1135.5,260.5ZM1135.2,267.0L1135.1,272.4L1135.1,276.2L1135.0,279.5L1134.8,282.4L1134.6,284.9L1134.3,287.1L1134.0,289.0L1133.7,290.7L1133.3,292.0L1132.9,293.1L1132.4,293.8L1131.8,294.1L1131.0,294.1L1130.4,293.8L1130.0,293.3L1129.6,292.5L1129.3,291.3L1129.0,289.9L1128.8,288.1L1128.5,286.0L1128.3,283.6L1128.2,280.9L1128.1,277.9L1128.0,274.4L1128.0,270.2L1128.0,263.3L1128.0,258.3L1128.1,254.1L1128.2,250.5L1128.3,247.3L1128.5,244.6L1128.7,242.1L1129.0,240.1L1129.3,238.3L1129.6,236.9L1130.0,235.9L1130.4,235.4L1131.0,235.2L1131.8,235.3L1132.4,235.7L1132.9,236.5L1133.3,237.7L1133.7,239.3L1134.0,241.3L1134.3,243.6L1134.5,246.2L1134.7,249.1L1134.9,252.4L1135.1,256.1L1135.1,260.6ZM1134.8,267.0L1134.8,272.5L1134.7,276.2L1134.6,279.5L1134.5,282.4L1134.3,285.0L1134.0,287.2L1133.7,289.0L1133.4,290.5L1133.0,291.7L1132.6,292.6L1132.1,293.2L1131.5,293.5L1130.7,293.5L1130.3,293.0L1129.9,292.2L1129.6,291.1L1129.3,289.7L1129.0,288.0L1128.8,286.0L1128.6,283.7L1128.5,281.0L1128.4,278.0L1128.3,274.5L1128.2,270.2L1128.2,263.2L1128.3,258.2L1128.3,254.0L1128.5,250.5L1128.6,247.4L1128.8,244.6L1129.0,242.2L1129.3,240.3L1129.6,238.7L1129.9,237.4L1130.3,236.6L1130.7,236.1L1131.5,236.0L1132.1,236.4L1132.6,237.1L1133.0,238.2L1133.3,239.7L1133.7,241.5L1134.0,243.7L1134.2,246.2L1134.4,249.1L1134.6,252.4L1134.7,256.2L1134.8,260.6ZM1134.4,267.0L1134.4,272.4L1134.4,276.2L1134.3,279.5L1134.1,282.4L1133.9,284.9L1133.7,287.1L1133.4,288.9L1133.1,290.3L1132.7,291.5L1132.3,292.3L1131.8,292.8L1131.0,292.9L1130.5,292.6L1130.1,291.9L1129.8,290.8L1129.5,289.5L1129.3,287.9L1129.1,286.0L1128.9,283.7L1128.7,281.0L1128.6,278.0L1128.5,274.5L1128.5,270.2L1128.5,263.2L1128.5,258.1L1128.6,254.0L1128.7,250.5L1128.9,247.4L1129.1,244.7L1129.3,242.5L1129.5,240.6L1129.8,239.2L1130.2,238.1L1130.5,237.3L1131.0,237.0L1131.8,237.1L1132.3,237.6L1132.7,238.5L1133.0,239.9L1133.4,241.6L1133.6,243.8L1133.9,246.3L1134.1,249.2L1134.2,252.6L1134.3,256.3L1134.4,260.6ZM1134.1,267.0L1134.1,272.6L1134.1,276.4L1134.0,279.7L1133.8,282.5L1133.6,284.8L1133.4,286.9L1133.1,288.6L1132.8,290.0L1132.4,291.0L1132.0,291.6L1131.4,291.9L1130.8,291.8L1130.4,291.3L1130.1,290.4L1129.8,289.2L1129.6,287.6L1129.4,285.6L1129.2,283.4L1129.0,280.8L1128.9,277.9L1128.8,274.4L1128.8,270.2L1128.8,263.2L1128.8,258.3L1128.9,254.1L1129.0,250.4L1129.1,247.3L1129.3,244.7L1129.5,242.6L1129.8,241.0L1130.1,239.7L1130.4,238.7L1130.8,238.0L1131.4,237.7L1132.0,238.1L1132.4,239.0L1132.7,240.3L1133.0,242.0L1133.3,244.0L1133.6,246.4L1133.7,249.2L1133.9,252.5L1134.0,256.3L1134.1,260.6ZM1133.8,267.0L1133.8,272.4L1133.7,276.3L1133.6,279.6L1133.5,282.4L1133.3,284.7L1133.0,286.7L1132.8,288.3L1132.5,289.6L1132.1,290.6L1131.7,291.1L1131.0,291.2L1130.6,290.9L1130.3,290.1L1130.0,288.9L1129.8,287.3L1129.6,285.3L1129.5,283.1L1129.3,280.7L1129.2,277.9L1129.1,274.5L1129.1,270.2L1129.1,263.2L1129.1,258.2L1129.2,254.0L1129.3,250.4L1129.4,247.4L1129.6,245.1L1129.8,243.2L1130.1,241.6L1130.3,240.3L1130.6,239.4L1131.0,238.9L1131.7,239.0L1132.1,239.6L1132.4,240.7L1132.8,242.2L1133.0,244.2L1133.2,246.6L1133.4,249.3L1133.6,252.5L1133.7,256.2L1133.7,260.6ZM1133.4,267.0L1133.4,272.4L1133.4,276.2L1133.3,279.4L1133.1,282.2L1133.0,284.4L1132.7,286.2L1132.5,287.8L1132.2,289.1L1131.8,290.0L1131.4,290.4L1130.8,290.3L1130.5,289.7L1130.3,288.6L1130.0,287.2L1129.8,285.4L1129.7,283.3L1129.5,280.8L1129.5,277.8L1129.4,274.4L1129.4,270.2L1129.4,263.3L1129.4,258.3L1129.4,254.1L1129.5,250.6L1129.7,247.8L1129.9,245.6L1130.1,243.7L1130.3,242.2L1130.5,241.1L1130.9,240.4L1131.4,240.1L1131.8,240.4L1132.2,241.2L1132.5,242.6L1132.7,244.5L1132.9,246.8L1133.1,249.5L1133.3,252.6L1133.4,256.3L1133.4,260.7ZM1133.1,267.0L1133.1,272.4L1133.1,276.2L1133.0,279.3L1132.8,281.8L1132.6,283.8L1132.4,285.6L1132.2,287.1L1131.9,288.3L1131.6,289.0L1131.1,289.2L1130.7,288.8L1130.5,287.9L1130.3,286.7L1130.1,285.0L1129.9,283.0L1129.8,280.6L1129.7,277.7L1129.7,274.3L1129.6,270.1L1129.6,263.3L1129.6,258.4L1129.7,254.2L1129.8,250.7L1129.9,248.1L1130.1,246.0L1130.3,244.4L1130.5,242.9L1130.7,241.9L1131.1,241.3L1131.6,241.2L1131.9,241.8L1132.2,243.0L1132.4,244.7L1132.6,247.0L1132.8,249.7L1132.9,252.8L1133.0,256.4L1133.1,260.7ZM1132.8,267.0L1132.8,272.5L1132.7,276.2L1132.6,279.3L1132.5,281.7L1132.3,283.7L1132.1,285.3L1131.9,286.6L1131.6,287.6L1131.2,288.1L1130.9,287.9L1130.6,287.0L1130.4,285.6L1130.3,283.9L1130.1,281.9L1130.0,279.4L1129.9,276.2L1129.9,272.4L1129.9,267.0L1129.9,260.7L1129.9,256.3L1130.0,252.5L1130.1,249.5L1130.3,247.3L1130.4,245.7L1130.6,244.3L1130.9,243.2L1131.2,242.5L1131.6,242.6L1131.9,243.6L1132.1,245.1L1132.3,247.2L1132.5,249.7L1132.6,252.8L1132.7,256.4L1132.8,260.7ZM1132.5,267.0L1132.5,272.3L1132.4,275.9L1132.3,279.0L1132.2,281.4L1132.1,283.3L1131.9,284.7L1131.7,285.9L1131.4,286.8L1131.0,287.0L1130.8,286.3L1130.6,284.9L1130.5,283.2L1130.4,281.3L1130.3,279.0L1130.2,276.0L1130.2,272.3L1130.1,267.0L1130.2,260.8L1130.2,256.5L1130.3,252.9L1130.4,250.1L1130.5,248.1L1130.7,246.7L1130.8,245.5L1131.0,244.5L1131.4,244.1L1131.7,244.7L1131.9,246.1L1132.1,248.1L1132.2,250.4L1132.3,253.2L1132.4,256.6L1132.5,260.8ZM1132.2,267.0L1132.2,272.2L1132.1,275.7L1132.0,278.6L1131.9,280.8L1131.8,282.5L1131.6,283.8L1131.4,284.9L1131.1,285.3L1130.9,284.8L1130.8,283.4L1130.7,281.7L1130.6,279.7L1130.5,277.2L1130.4,274.1L1130.4,270.1L1130.4,263.4L1130.4,258.7L1130.5,254.8L1130.6,251.7L1130.7,249.7L1130.8,248.3L1130.9,247.1L1131.1,246.1L1131.4,246.1L1131.6,247.0L1131.8,248.6L1131.9,250.7L1132.0,253.4L1132.1,256.8L1132.1,260.9Z" fill="#000" fill-opacity="0.06" stroke="#222" stroke-width="0.45" stroke-linejoin="round"/>
<path d="M1139.5,190.0L1139.4,194.1L1139.2,197.3L1138.8,200.1L1138.3,202.5L1137.5,204.5L1136.6,206.2L1135.5,207.4L1134.3,208.3L1133.1,208.9L1131.6,209.3L1129.7,209.5L1128.3,209.3L1127.1,208.6L1126.2,207.4L1125.3,205.7L1124.6,203.9L1123.9,202.0L1123.3,199.8L1122.8,197.2L1122.5,194.1L1122.4,190.0L1122.5,186.3L1122.7,183.4L1123.1,180.9L1123.6,178.6L1124.2,176.7L1125.0,175.0L1126.0,173.7L1127.0,172.6L1128.2,172.0L1129.7,171.8L1131.6,171.9L1133.1,172.4L1134.4,173.1L1135.6,173.9L1136.7,175.0L1137.7,176.5L1138.5,178.4L1139.0,180.8L1139.3,183.4L1139.4,186.3ZM1138.4,190.0L1138.3,194.2L1138.1,197.3L1137.7,200.1L1137.1,202.5L1136.3,204.4L1135.4,205.9L1134.3,207.0L1133.2,207.8L1131.9,208.4L1130.1,208.6L1128.8,208.4L1127.7,207.6L1126.7,206.4L1126.0,204.7L1125.3,202.9L1124.6,200.9L1124.1,198.6L1123.7,195.7L1123.6,192.3L1123.6,187.9L1123.7,184.8L1124.0,182.2L1124.4,179.8L1125.0,177.8L1125.7,176.0L1126.6,174.6L1127.6,173.5L1128.7,173.0L1130.1,172.9L1131.9,173.1L1133.3,173.5L1134.5,174.2L1135.6,175.2L1136.5,176.6L1137.3,178.5L1137.8,180.8L1138.2,183.3L1138.4,186.2ZM1137.2,190.0L1137.1,194.2L1136.8,197.4L1136.4,200.1L1135.8,202.4L1135.0,204.2L1134.1,205.6L1133.0,206.5L1131.8,207.2L1130.2,207.4L1128.9,207.1L1127.9,206.2L1127.0,204.8L1126.3,203.1L1125.7,201.1L1125.1,198.8L1124.7,195.9L1124.6,192.4L1124.6,187.8L1124.7,184.6L1125.0,181.9L1125.4,179.4L1126.0,177.4L1126.8,175.8L1127.7,174.6L1128.8,174.0L1130.1,173.8L1131.9,174.0L1133.1,174.5L1134.2,175.4L1135.2,176.7L1135.9,178.5L1136.5,180.7L1136.9,183.3L1137.1,186.2ZM1136.1,190.0L1136.0,194.2L1135.7,197.4L1135.3,200.1L1134.6,202.2L1133.9,203.8L1133.0,205.0L1132.0,205.7L1130.6,206.1L1129.4,205.8L1128.4,205.0L1127.7,203.6L1127.0,201.9L1126.4,199.9L1126.0,197.4L1125.7,194.2L1125.6,190.0L1125.7,186.2L1125.9,183.3L1126.2,180.7L1126.8,178.6L1127.5,176.9L1128.3,175.7L1129.3,175.1L1130.6,175.0L1132.0,175.3L1133.1,175.9L1134.0,177.0L1134.8,178.7L1135.4,180.7L1135.8,183.2L1136.0,186.2ZM1134.9,190.0L1134.9,194.3L1134.6,197.5L1134.1,200.1L1133.5,202.1L1132.7,203.5L1131.8,204.4L1130.6,204.7L1129.5,204.4L1128.7,203.4L1128.0,201.8L1127.5,199.9L1127.0,197.4L1126.8,194.3L1126.7,190.0L1126.7,186.1L1127.0,183.2L1127.4,180.8L1127.9,178.8L1128.6,177.4L1129.5,176.6L1130.6,176.4L1131.8,176.7L1132.8,177.4L1133.6,178.8L1134.2,180.7L1134.6,183.2L1134.9,186.1ZM1133.8,190.0L1133.7,194.3L1133.4,197.5L1133.0,199.9L1132.4,201.6L1131.6,202.6L1130.6,203.1L1129.7,202.7L1129.0,201.5L1128.5,199.7L1128.1,197.4L1127.8,194.3L1127.7,190.0L1127.8,186.1L1128.0,183.2L1128.4,180.9L1128.9,179.2L1129.6,178.3L1130.6,178.0L1131.6,178.4L1132.4,179.4L1133.0,181.0L1133.4,183.2L1133.7,186.1ZM1132.6,190.0L1132.6,194.4L1132.3,197.4L1131.8,199.5L1131.2,200.6L1130.4,200.9L1129.7,200.1L1129.3,198.4L1128.9,195.9L1128.8,192.5L1128.8,187.8L1128.9,184.6L1129.2,182.2L1129.7,180.6L1130.4,179.9L1131.2,180.2L1131.8,181.3L1132.3,183.3L1132.5,186.1ZM1131.5,190.0L1131.4,194.5L1131.1,197.0L1130.6,197.8L1130.2,196.9L1129.9,194.4L1129.8,190.0L1129.9,185.9L1130.1,183.5L1130.6,182.8L1131.1,183.6L1131.4,186.0Z" fill="#000" fill-opacity="0.05" stroke="#222" stroke-width="0.4" stroke-linejoin="round"/>
<path d="M1131.6,178.0v7.8M1130.9,188.0v4.6M1131.5,195.2v5.8M1131.1,203.0v7.6" stroke="#fff" stroke-opacity="0.32" stroke-width="0.8" stroke-linecap="round" fill="none"/>
<path d="M1131.1,236.0v4.9M1131.4,243.6v3.4M1131.4,248.9v3.3M1131.1,253.4v5.6M1131.7,260.2v5.5M1131.5,267.0v4.3M1131.3,274.8v6.5M1131.7,284.7v3.3M1131.1,289.7v3.9M1131.1,295.3v7.9" stroke="#fff" stroke-opacity="0.32" stroke-width="0.8" stroke-linecap="round" fill="none"/>
<path d="M1162.9,251.6h1.1v1.1h-1.1zM1206.1,224.3h1.1v1.1h-1.1zM1155.4,259.7h1.1v1.1h-1.1zM1169.4,281.9h1.1v1.1h-1.1zM1168.7,297.6h1.1v1.1h-1.1zM1169.7,266.8h1.1v1.1h-1.1zM1170.5,296.3h1.1v1.1h-1.1zM1159.3,282.3h1.1v1.1h-1.1zM1200.8,233.5h1.1v1.1h-1.1zM1164.5,297.2h1.1v1.1h-1.1zM1184.3,287.3h1.1v1.1h-1.1zM1156.9,264.6h1.1v1.1h-1.1zM1240.5,251.8h1.1v1.1h-1.1zM1180.4,276.7h1.1v1.1h-1.1zM1162.6,284.2h1.1v1.1h-1.1zM1239.9,229.2h1.1v1.1h-1.1zM1165.9,294.4h1.1v1.1h-1.1zM1169.8,277.4h1.1v1.1h-1.1zM1174.9,295.6h1.1v1.1h-1.1zM1204.6,205.8h1.1v1.1h-1.1zM1156.0,282.8h1.1v1.1h-1.1zM1175.2,268.9h1.1v1.1h-1.1zM1161.6,251.5h1.1v1.1h-1.1zM1183.0,264.0h1.1v1.1h-1.1zM1193.7,275.7h1.1v1.1h-1.1zM1169.4,239.8h1.1v1.1h-1.1zM1157.6,295.3h1.1v1.1h-1.1zM1166.7,278.7h1.1v1.1h-1.1zM1203.5,276.7h1.1v1.1h-1.1zM1164.7,248.5h1.1v1.1h-1.1zM1167.4,281.6h1.1v1.1h-1.1zM1180.4,262.9h1.1v1.1h-1.1zM1207.3,253.5h1.1v1.1h-1.1zM1165.2,280.4h1.1v1.1h-1.1zM1231.6,284.9h1.1v1.1h-1.1zM1168.8,244.0h1.1v1.1h-1.1zM1169.2,262.3h1.1v1.1h-1.1zM1160.9,244.0h1.1v1.1h-1.1zM1158.1,276.8h1.1v1.1h-1.1zM1173.1,247.3h1.1v1.1h-1.1zM1155.7,298.4h1.1v1.1h-1.1zM1241.5,260.4h1.1v1.1h-1.1zM1160.0,299.5h1.1v1.1h-1.1zM1157.6,297.6h1.1v1.1h-1.1zM1171.2,260.8h1.1v1.1h-1.1zM1158.2,280.3h1.1v1.1h-1.1zM1163.9,255.4h1.1v1.1h-1.1zM1229.7,265.8h1.1v1.1h-1.1zM1160.7,237.6h1.1v1.1h-1.1zM1175.8,252.9h1.1v1.1h-1.1zM1169.4,283.2h1.1v1.1h-1.1zM1165.2,268.2h1.1v1.1h-1.1zM1189.8,263.2h1.1v1.1h-1.1zM1169.4,263.9h1.1v1.1h-1.1zM1167.7,274.5h1.1v1.1h-1.1zM1174.0,273.9h1.1v1.1h-1.1zM1171.3,227.6h1.1v1.1h-1.1zM1160.2,281.6h1.1v1.1h-1.1zM1228.4,203.8h1.1v1.1h-1.1zM1161.7,264.7h1.1v1.1h-1.1z" fill="#222"/>
<rect x="1380" y="228" width="21.5" height="80" rx="10.75" fill="#0a0a0a" opacity="0.8" filter="url(#bl)"/>
<path d="M1410.4,212.2C1411.5,212.6 1414.2,213.4 1417.1,214.6C1420.0,215.7 1422.8,217.2 1427.8,218.9C1432.8,220.7 1440.7,223.6 1447.2,225.2C1453.6,226.9 1460.1,228.0 1466.5,228.9C1473.0,229.8 1481.1,229.9 1485.9,230.7C1490.8,231.4 1493.0,231.7 1495.6,233.2C1498.2,234.7 1500.3,237.5 1501.6,239.8C1502.9,242.0 1503.5,244.0 1503.5,246.5C1503.5,249.1 1502.5,252.0 1501.6,255.3C1500.7,258.5 1499.1,262.8 1498.0,265.9C1496.9,269.1 1496.5,271.8 1495.1,274.1C1493.7,276.5 1492.1,278.9 1489.8,280.2C1487.4,281.6 1484.1,282.3 1481.1,282.4C1478.0,282.4 1474.1,281.2 1471.4,280.6C1468.6,280.1 1467.0,278.9 1464.6,279.1C1462.2,279.2 1459.8,279.8 1456.9,281.6C1453.9,283.4 1450.4,287.5 1447.2,289.9C1443.9,292.3 1440.7,294.3 1437.5,296.1C1434.3,298.0 1431.2,299.2 1427.8,301.0C1424.4,302.7 1420.0,305.4 1417.1,306.8C1414.2,308.2 1411.5,309.0 1410.4,309.5" fill="none" stroke="#4d4d4d" stroke-width="0.6"/>
<path d="M1410.4,216.5C1411.5,216.8 1414.2,217.5 1417.1,218.5C1420.0,219.4 1422.8,220.5 1427.8,222.3C1432.8,224.1 1440.7,227.1 1447.2,229.1C1453.6,231.1 1460.1,233.3 1466.5,234.4C1473.0,235.6 1481.3,235.2 1485.9,236.1C1490.5,237.0 1492.2,238.0 1494.1,239.8C1496.1,241.5 1497.2,243.3 1497.5,246.5C1497.9,249.8 1497.5,254.9 1496.4,259.1C1495.2,263.4 1493.0,269.2 1490.8,271.9C1488.5,274.6 1485.7,275.2 1483.0,275.2C1480.3,275.2 1477.4,273.1 1474.3,271.9C1471.2,270.7 1467.8,268.0 1464.6,267.8C1461.4,267.7 1458.1,268.9 1454.9,270.8C1451.7,272.6 1448.1,276.2 1445.2,278.7C1442.3,281.1 1440.4,283.1 1437.5,285.5C1434.6,287.9 1431.2,290.6 1427.8,293.2C1424.4,295.8 1420.0,299.1 1417.1,301.0C1414.2,302.9 1411.5,304.0 1410.4,304.6" fill="none" stroke="#4d4d4d" stroke-width="0.6"/>
<path d="M1410.4,220.9C1411.5,221.1 1412.6,221.1 1417.1,222.5C1421.7,223.9 1432.5,227.4 1437.5,229.3C1442.5,231.2 1442.3,232.2 1447.2,233.9C1452.0,235.7 1460.4,238.6 1466.5,239.8C1472.7,240.9 1479.9,239.9 1484.0,240.7C1488.0,241.5 1489.3,243.1 1490.8,244.6C1492.2,246.1 1493.0,247.1 1492.9,249.9C1492.8,252.8 1491.6,258.7 1490.3,261.5C1489.0,264.4 1487.0,266.0 1485.1,266.9C1483.3,267.8 1481.7,267.7 1479.1,266.9C1476.5,266.1 1472.3,263.5 1469.4,262.2C1466.5,261.0 1464.4,259.3 1461.7,259.3C1459.0,259.3 1455.7,260.5 1453.0,262.2C1450.2,264.0 1447.5,267.1 1445.2,270.0C1443.0,272.9 1442.3,276.4 1439.4,279.7C1436.5,282.9 1431.5,286.8 1427.8,289.3C1424.1,291.9 1420.0,293.6 1417.1,295.2C1414.2,296.7 1411.5,298.2 1410.4,298.8" fill="none" stroke="#4d4d4d" stroke-width="0.6"/>
<path d="M1410.4,225.2C1411.5,225.6 1413.3,226.0 1417.1,227.2C1421.0,228.3 1428.9,230.2 1433.6,232.0C1438.3,233.8 1441.7,235.8 1445.2,237.8C1448.8,239.9 1452.2,242.6 1454.9,244.4C1457.7,246.2 1461.7,247.3 1461.7,248.5C1461.7,249.6 1457.3,250.4 1454.9,251.4C1452.6,252.4 1449.7,252.7 1447.7,254.5C1445.6,256.3 1444.5,258.7 1442.8,262.2C1441.1,265.8 1440.0,271.9 1437.5,275.8C1435.0,279.7 1431.2,282.9 1427.8,285.5C1424.4,288.1 1420.0,289.7 1417.1,291.3C1414.2,292.9 1411.5,294.4 1410.4,295.0" fill="none" stroke="#4d4d4d" stroke-width="0.6"/>
<path d="M1466.5,249.0C1467.3,248.4 1469.6,246.4 1471.4,245.8C1473.2,245.1 1475.3,245.1 1477.2,245.0C1479.1,244.9 1481.3,244.6 1483.0,245.2C1484.7,245.8 1486.7,247.1 1487.7,248.5C1488.6,249.8 1489.1,251.7 1488.8,253.3C1488.6,254.9 1487.2,257.1 1486.1,258.2C1485.0,259.2 1484.0,260.0 1482.0,259.7C1480.1,259.4 1476.5,257.6 1474.3,256.4C1472.1,255.2 1470.3,253.8 1469.0,252.5C1467.7,251.3 1466.9,249.6 1466.5,249.0Z" fill="none" stroke="#4d4d4d" stroke-width="0.6"/>
<path d="M1410.4,225.1C1412.2,225.8 1410.8,225.3 1417.1,227.7C1423.5,230.0 1428.5,231.7 1434.1,233.9C1439.7,236.1 1436.6,234.4 1438.1,236.0C1439.5,237.5 1439.1,236.6 1439.4,239.8C1439.8,242.9 1439.4,243.5 1439.4,247.8C1439.4,252.0 1440.4,250.7 1439.3,255.7C1438.3,260.8 1438.1,260.8 1435.4,266.6C1432.8,272.4 1434.3,272.1 1429.4,277.4C1424.5,282.8 1422.2,283.3 1417.1,286.7C1412.1,290.1 1412.2,289.2 1410.4,290.1" fill="none" stroke="#555" stroke-width="0.55"/>
<path d="M1410.4,225.8C1412.2,226.4 1411.6,226.2 1417.1,228.3C1422.7,230.3 1426.4,231.5 1431.2,233.5C1436.0,235.4 1433.7,234.0 1435.2,235.5C1436.6,237.1 1436.2,235.9 1436.5,239.3C1436.9,242.7 1436.5,243.5 1436.5,248.3C1436.5,253.1 1437.3,252.3 1436.4,257.3C1435.5,262.4 1435.3,262.0 1433.0,267.4C1430.7,272.7 1432.0,272.4 1427.8,277.4C1423.6,282.4 1421.8,282.8 1417.1,286.0C1412.5,289.2 1412.2,288.5 1410.4,289.4" fill="none" stroke="#555" stroke-width="0.55"/>
<path d="M1410.4,226.4C1412.2,227.1 1412.6,227.2 1417.1,228.9C1421.7,230.6 1423.5,231.1 1427.3,232.7C1431.1,234.2 1429.9,233.2 1431.3,234.7C1432.7,236.3 1432.3,234.7 1432.6,238.5C1433.0,242.3 1432.7,243.4 1432.6,249.0C1432.6,254.6 1433.3,254.3 1432.5,259.5C1431.8,264.7 1431.7,263.7 1429.8,268.5C1428.0,273.3 1429.1,273.1 1425.7,277.5C1422.3,282.0 1421.2,282.3 1417.1,285.3C1413.1,288.2 1412.2,287.8 1410.4,288.7" fill="none" stroke="#555" stroke-width="0.55"/>
<path d="M1410.4,227.0C1412.2,227.7 1413.4,228.2 1417.1,229.5C1420.9,230.9 1421.4,231.0 1424.4,232.2C1427.4,233.5 1427.0,232.7 1428.4,234.3C1429.8,235.8 1429.4,234.0 1429.7,238.1C1430.1,242.2 1429.8,243.4 1429.7,249.6C1429.7,255.7 1430.2,255.8 1429.6,261.1C1429.0,266.3 1429.0,264.9 1427.5,269.3C1426.0,273.7 1426.8,273.4 1424.1,277.5C1421.3,281.6 1420.8,281.8 1417.1,284.6C1413.5,287.3 1412.2,287.0 1410.4,287.9" fill="none" stroke="#555" stroke-width="0.55"/>
<path d="M1410.4,227.7C1412.2,228.3 1414.1,229.0 1417.1,230.2C1420.2,231.3 1419.4,230.9 1421.7,231.9C1424.0,232.8 1424.2,232.3 1425.7,233.9C1427.1,235.5 1426.7,233.4 1427.0,237.7C1427.4,242.0 1427.0,243.5 1427.0,250.1C1427.0,256.8 1427.4,257.3 1426.9,262.6C1426.5,267.9 1426.4,266.0 1425.2,270.0C1424.1,274.0 1424.7,273.8 1422.6,277.4C1420.4,281.1 1420.4,281.2 1417.1,283.8C1413.9,286.4 1412.2,286.3 1410.4,287.2" fill="none" stroke="#555" stroke-width="0.55"/>
<path d="M1410.4,228.3C1412.2,229.0 1414.8,229.9 1417.1,230.8C1419.5,231.7 1417.6,230.8 1419.2,231.6C1420.8,232.3 1421.7,232.0 1423.1,233.6C1424.6,235.2 1424.1,232.8 1424.5,237.4C1424.9,241.9 1424.5,243.6 1424.5,250.7C1424.5,257.7 1424.8,258.6 1424.4,263.9C1424.1,269.3 1424.0,267.1 1423.2,270.6C1422.3,274.2 1422.8,274.0 1421.2,277.4C1419.6,280.7 1420.0,280.7 1417.1,283.1C1414.3,285.5 1412.2,285.6 1410.4,286.5" fill="none" stroke="#555" stroke-width="0.55"/>
<path d="M1410.4,228.9C1412.2,229.6 1414.3,230.2 1417.1,231.4C1420.0,232.6 1419.7,231.9 1421.1,233.5C1422.5,235.0 1422.1,232.6 1422.5,237.3C1422.8,242.0 1422.5,243.8 1422.5,251.2C1422.4,258.6 1422.6,259.7 1422.4,265.1C1422.1,270.4 1422.1,267.9 1421.5,271.1C1420.9,274.4 1421.2,274.2 1420.1,277.2C1418.9,280.2 1419.7,280.1 1417.1,282.4C1414.6,284.7 1412.2,284.9 1410.4,285.8" fill="none" stroke="#555" stroke-width="0.55"/>
<path d="M1410.4,229.5C1412.2,230.2 1414.8,231.0 1417.1,232.1C1419.5,233.1 1418.3,232.0 1419.2,233.4C1420.1,234.8 1420.2,232.3 1420.5,237.2C1420.9,242.1 1420.6,243.9 1420.5,251.7C1420.5,259.4 1420.6,260.8 1420.4,266.1C1420.3,271.4 1420.3,268.7 1419.9,271.6C1419.5,274.5 1419.7,274.3 1419.0,277.0C1418.3,279.7 1419.4,279.5 1417.1,281.6C1414.8,283.8 1412.2,284.1 1410.4,285.0" fill="none" stroke="#555" stroke-width="0.55"/>
<path d="M1410.4,230.2C1412.2,230.8 1415.3,231.8 1417.1,232.7C1419.0,233.5 1417.0,232.2 1417.4,233.4C1417.9,234.6 1418.4,232.2 1418.8,237.2C1419.2,242.2 1418.8,244.2 1418.8,252.1C1418.8,260.1 1418.8,261.8 1418.7,267.1C1418.6,272.4 1418.7,269.3 1418.5,271.9C1418.3,274.5 1418.4,274.4 1418.0,276.8C1417.7,279.2 1419.2,278.9 1417.1,280.9C1415.1,282.9 1412.2,283.4 1410.4,284.3" fill="none" stroke="#555" stroke-width="0.55"/>
<path d="M1404.5,182.6L1404.0,188.4L1404.0,193.1L1404.0,197.6L1403.7,201.7L1402.9,205.4L1401.8,208.6L1400.8,211.8L1399.9,215.5L1398.9,219.6L1397.5,223.5L1395.6,226.4L1393.2,227.6L1390.4,227.2L1387.0,225.9L1383.6,224.6L1381.1,223.8L1378.7,223.1L1376.4,222.2L1374.4,220.3L1372.7,217.6L1371.3,214.4L1369.9,211.3L1368.3,208.3L1366.6,205.1L1365.1,201.1L1364.4,196.0L1364.7,189.9L1365.7,182.6L1366.6,178.1L1367.1,174.6L1367.5,171.4L1368.3,168.6L1369.7,166.5L1371.6,165.1L1373.5,164.0L1375.0,162.7L1376.3,160.9L1377.5,158.7L1379.2,156.9L1381.4,156.0L1383.9,156.2L1387.0,156.9L1389.9,157.3L1392.2,157.1L1394.6,156.6L1397.0,156.4L1399.1,157.2L1400.8,158.9L1402.0,161.2L1403.0,163.7L1404.0,166.1L1405.1,168.5L1405.8,171.4L1406.0,174.7L1405.4,178.3ZM1404.0,182.6L1403.2,188.2L1402.9,192.6L1402.9,196.9L1402.9,201.2L1402.5,205.2L1401.6,208.7L1400.5,211.7L1399.3,214.7L1398.1,217.9L1396.7,221.1L1395.0,223.8L1392.8,225.2L1390.2,225.3L1387.0,224.2L1383.9,222.7L1381.5,221.6L1379.3,220.8L1377.2,220.0L1375.2,218.6L1373.5,216.3L1372.1,213.4L1370.9,210.2L1369.6,207.0L1368.1,203.9L1366.6,200.2L1365.6,195.5L1365.5,189.8L1366.3,182.6L1367.4,178.2L1368.2,174.9L1368.7,171.9L1369.3,169.1L1370.3,166.8L1371.9,165.1L1373.6,163.9L1375.2,162.8L1376.6,161.2L1377.9,159.2L1379.5,157.3L1381.5,156.1L1383.9,155.8L1387.0,156.2L1389.9,156.7L1392.2,156.8L1394.5,156.6L1396.8,156.5L1398.9,157.1L1400.5,158.8L1401.6,161.3L1402.4,164.1L1403.2,166.6L1404.1,169.1L1405.0,171.7L1405.4,174.8L1405.0,178.3ZM1403.5,182.6L1402.7,188.2L1402.4,192.5L1402.5,196.7L1402.4,201.0L1401.9,204.8L1401.1,208.1L1399.9,211.0L1398.8,213.8L1397.5,216.7L1396.2,219.7L1394.5,222.2L1392.5,223.6L1390.0,223.8L1387.0,223.0L1384.0,221.8L1381.7,220.7L1379.6,219.9L1377.6,219.0L1375.8,217.5L1374.2,215.2L1373.0,212.2L1371.9,208.9L1370.8,205.8L1369.5,202.7L1368.2,199.1L1367.4,194.7L1367.3,189.3L1368.0,182.6L1368.9,178.4L1369.4,175.3L1369.8,172.3L1370.2,169.5L1371.0,167.1L1372.4,165.3L1374.0,164.0L1375.5,162.9L1376.9,161.4L1378.2,159.6L1379.8,157.8L1381.7,156.7L1384.0,156.4L1387.0,156.8L1389.8,157.3L1392.0,157.4L1394.1,157.2L1396.3,157.2L1398.3,157.9L1399.9,159.5L1401.0,161.9L1401.7,164.5L1402.5,167.0L1403.4,169.3L1404.3,171.9L1404.7,174.9L1404.4,178.4ZM1402.8,182.6L1402.0,188.0L1401.7,192.2L1401.7,196.3L1401.6,200.3L1401.1,204.1L1400.3,207.3L1399.3,210.0L1398.1,212.7L1397.0,215.6L1395.7,218.3L1394.0,220.5L1392.1,221.6L1389.8,221.6L1387.0,220.7L1384.2,219.7L1382.1,218.9L1380.1,218.4L1378.1,217.7L1376.3,216.4L1374.8,214.2L1373.6,211.4L1372.6,208.3L1371.5,205.3L1370.2,202.2L1369.0,198.7L1368.3,194.3L1368.3,189.1L1369.1,182.6L1370.0,178.6L1370.7,175.7L1371.0,172.9L1371.4,170.3L1372.2,168.0L1373.4,166.2L1374.8,164.8L1376.1,163.4L1377.2,161.7L1378.5,159.8L1380.0,158.1L1381.9,157.1L1384.1,157.0L1387.0,157.4L1389.6,157.9L1391.8,157.9L1393.9,157.6L1396.0,157.6L1397.9,158.2L1399.5,159.8L1400.5,162.1L1401.4,164.6L1402.2,166.9L1403.1,169.3L1404.0,171.9L1404.3,175.0L1403.8,178.5ZM1402.4,182.6L1401.7,188.0L1401.3,192.2L1401.2,196.2L1401.0,200.0L1400.4,203.4L1399.5,206.4L1398.5,209.0L1397.5,211.5L1396.4,214.2L1395.1,216.6L1393.5,218.5L1391.7,219.5L1389.6,219.6L1387.0,219.1L1384.4,218.5L1382.3,218.1L1380.3,217.8L1378.4,217.2L1376.7,215.8L1375.3,213.6L1374.2,210.8L1373.1,207.9L1372.1,204.9L1370.9,201.8L1369.9,198.3L1369.3,194.0L1369.3,188.9L1370.0,182.6L1370.8,178.7L1371.3,175.8L1371.7,173.1L1372.3,170.7L1373.1,168.6L1374.3,166.9L1375.5,165.5L1376.7,164.1L1377.8,162.5L1379.0,160.7L1380.4,159.2L1382.2,158.4L1384.4,158.3L1387.0,158.6L1389.5,158.9L1391.5,158.8L1393.5,158.6L1395.4,158.6L1397.2,159.2L1398.7,160.7L1399.8,162.8L1400.7,165.0L1401.6,167.2L1402.5,169.5L1403.3,172.1L1403.5,175.1L1403.2,178.5ZM1401.3,182.6L1400.5,187.7L1400.1,191.6L1400.0,195.3L1399.8,198.9L1399.3,202.2L1398.6,205.1L1397.7,207.8L1396.8,210.3L1395.8,212.9L1394.6,215.4L1393.2,217.3L1391.5,218.4L1389.5,218.5L1387.0,218.1L1384.5,217.6L1382.5,217.1L1380.7,216.7L1379.0,215.9L1377.4,214.4L1376.1,212.2L1375.1,209.5L1374.1,206.6L1373.2,203.8L1372.1,200.9L1371.1,197.5L1370.4,193.5L1370.4,188.7L1370.9,182.6L1371.7,178.8L1372.3,176.1L1372.7,173.5L1373.3,171.2L1374.1,169.2L1375.1,167.6L1376.2,166.2L1377.3,164.8L1378.3,163.0L1379.3,161.1L1380.7,159.5L1382.4,158.5L1384.4,158.3L1387.0,158.6L1389.4,159.0L1391.3,159.1L1393.2,159.0L1395.1,159.1L1396.8,159.8L1398.2,161.2L1399.3,163.1L1400.2,165.3L1401.0,167.5L1401.9,169.8L1402.5,172.4L1402.7,175.4L1402.2,178.7ZM1400.8,182.6L1400.2,187.7L1399.8,191.6L1399.4,195.0L1399.0,198.3L1398.5,201.4L1397.9,204.2L1397.1,206.9L1396.3,209.5L1395.3,211.8L1394.1,213.8L1392.7,215.3L1391.1,216.2L1389.3,216.6L1387.0,216.6L1384.6,216.4L1382.8,216.0L1381.1,215.3L1379.6,214.1L1378.2,212.5L1377.0,210.4L1375.9,208.1L1374.9,205.7L1373.9,203.1L1372.9,200.3L1372.1,196.9L1371.6,192.9L1371.7,188.3L1372.1,182.6L1372.6,179.0L1372.9,176.2L1373.2,173.6L1373.7,171.3L1374.4,169.3L1375.4,167.6L1376.5,166.2L1377.6,164.9L1378.6,163.4L1379.8,161.8L1381.1,160.5L1382.7,159.5L1384.6,159.1L1387.0,159.2L1389.3,159.4L1391.1,159.6L1392.9,159.8L1394.5,160.1L1396.1,160.8L1397.5,162.0L1398.7,163.7L1399.6,165.6L1400.4,167.8L1401.0,170.2L1401.5,172.8L1401.6,175.7L1401.3,178.8ZM1399.7,182.6L1399.2,187.5L1398.8,191.1L1398.4,194.3L1398.1,197.4L1397.6,200.3L1397.0,202.9L1396.3,205.4L1395.5,207.8L1394.6,210.1L1393.5,212.1L1392.2,213.6L1390.8,214.5L1389.1,214.9L1387.0,214.8L1384.8,214.6L1383.1,214.2L1381.5,213.7L1380.0,212.8L1378.7,211.5L1377.5,209.6L1376.5,207.4L1375.5,205.0L1374.6,202.5L1373.7,199.7L1372.9,196.5L1372.5,192.6L1372.4,188.2L1372.7,182.6L1373.1,179.0L1373.4,176.2L1373.6,173.7L1374.1,171.4L1374.9,169.5L1376.0,168.0L1377.0,166.7L1378.1,165.4L1379.1,163.9L1380.1,162.3L1381.4,160.9L1382.9,160.0L1384.7,159.7L1387.0,159.8L1389.2,160.1L1390.9,160.3L1392.6,160.4L1394.2,160.6L1395.7,161.2L1397.0,162.4L1398.1,164.2L1398.9,166.2L1399.5,168.5L1400.0,170.8L1400.4,173.3L1400.5,176.1L1400.2,179.0ZM1398.2,182.6L1397.8,187.0L1397.6,190.4L1397.4,193.6L1397.2,196.6L1396.8,199.5L1396.3,202.2L1395.7,204.7L1395.1,207.2L1394.2,209.6L1393.2,211.6L1392.0,213.1L1390.6,214.0L1389.0,214.3L1387.0,214.3L1384.9,214.0L1383.3,213.6L1381.8,213.0L1380.4,211.9L1379.3,210.3L1378.2,208.4L1377.3,206.1L1376.5,203.7L1375.7,201.2L1375.0,198.5L1374.4,195.3L1374.1,191.7L1374.1,187.7L1374.2,182.6L1374.4,179.2L1374.4,176.6L1374.6,174.1L1375.0,171.9L1375.7,170.0L1376.6,168.5L1377.6,167.1L1378.5,165.7L1379.4,164.2L1380.5,162.8L1381.7,161.7L1383.2,161.0L1384.8,160.7L1387.0,160.8L1389.1,160.9L1390.7,161.0L1392.2,161.1L1393.7,161.4L1395.1,162.1L1396.4,163.3L1397.4,164.9L1398.1,166.8L1398.7,169.0L1399.1,171.4L1399.2,173.9L1399.0,176.6L1398.7,179.4ZM1397.5,182.6L1397.1,186.9L1396.9,190.1L1396.8,193.2L1396.6,196.2L1396.3,199.0L1395.8,201.5L1395.2,204.0L1394.6,206.4L1393.8,208.8L1392.9,210.9L1391.8,212.5L1390.4,213.3L1388.9,213.3L1387.0,213.0L1385.1,212.5L1383.6,212.1L1382.2,211.7L1380.8,211.0L1379.6,209.9L1378.6,208.1L1377.7,205.8L1377.1,203.2L1376.4,200.5L1375.9,197.7L1375.5,194.6L1375.3,191.2L1375.4,187.3L1375.5,182.6L1375.7,179.5L1375.8,177.1L1376.0,174.8L1376.3,172.7L1376.9,170.9L1377.6,169.5L1378.5,168.1L1379.3,166.7L1380.1,165.3L1381.0,163.8L1382.1,162.6L1383.4,162.0L1385.0,161.8L1387.0,161.8L1388.9,161.9L1390.4,161.8L1391.9,161.7L1393.4,162.0L1394.6,162.8L1395.6,164.2L1396.4,166.0L1397.0,168.0L1397.5,170.1L1397.9,172.1L1398.2,174.4L1398.2,176.8L1397.9,179.5ZM1397.1,182.6L1396.6,187.0L1396.2,190.2L1396.1,193.3L1395.9,196.3L1395.5,199.1L1395.0,201.6L1394.4,204.0L1393.7,206.3L1392.8,208.4L1391.8,210.1L1390.6,211.2L1389.2,211.6L1387.6,211.5L1385.5,211.1L1384.0,210.7L1382.7,210.3L1381.3,209.8L1380.1,208.9L1379.0,207.3L1378.1,205.1L1377.4,202.5L1376.8,199.6L1376.4,196.4L1376.2,193.0L1376.2,189.3L1376.4,185.2L1376.7,180.9L1376.9,178.4L1377.1,176.2L1377.4,174.1L1377.7,172.2L1378.3,170.4L1379.0,168.9L1379.8,167.5L1380.6,166.1L1381.5,164.9L1382.6,163.8L1384.0,163.1L1385.5,162.8L1387.6,162.7L1389.2,162.8L1390.7,162.9L1392.0,163.2L1393.3,163.9L1394.3,165.0L1395.2,166.5L1396.0,168.2L1396.6,170.0L1397.2,171.9L1397.6,174.1L1397.7,176.6L1397.5,179.3ZM1396.4,182.6L1396.1,187.1L1395.7,190.5L1395.5,193.5L1395.2,196.5L1394.8,199.2L1394.2,201.6L1393.5,203.9L1392.8,206.1L1391.8,207.8L1390.7,209.0L1389.4,209.6L1388.0,209.8L1386.0,209.7L1384.5,209.6L1383.1,209.3L1381.8,208.6L1380.7,207.3L1379.7,205.4L1378.9,203.2L1378.1,200.8L1377.5,198.1L1377.1,194.9L1377.0,191.2L1377.2,187.3L1377.5,182.6L1377.7,179.6L1377.7,177.2L1377.8,174.9L1378.1,172.8L1378.8,171.2L1379.5,169.8L1380.4,168.6L1381.2,167.3L1382.1,166.0L1383.2,165.0L1384.5,164.3L1386.0,163.9L1388.0,163.7L1389.5,163.7L1390.9,163.8L1392.2,164.3L1393.3,165.3L1394.2,166.7L1395.0,168.3L1395.7,170.1L1396.2,172.0L1396.7,174.2L1396.8,176.6L1396.7,179.3Z" fill="#000" fill-opacity="0.012" stroke="#5c5c5c" stroke-width="0.55" stroke-linejoin="round"/>
<path d="M1398.6,182.6L1398.7,185.5L1398.7,188.4L1398.7,191.3L1398.4,194.1L1397.7,196.6L1396.8,198.7L1395.7,200.6L1394.6,202.2L1393.4,203.6L1392.1,204.9L1390.8,205.8L1389.3,206.4L1387.8,206.7L1386.2,206.8L1384.6,206.7L1383.2,206.3L1381.7,205.5L1380.4,204.2L1379.3,202.5L1378.3,200.6L1377.3,198.7L1376.2,196.7L1375.1,194.7L1374.0,192.3L1373.0,189.6L1372.3,186.3L1372.0,182.6L1372.1,179.7L1372.4,177.0L1373.0,174.6L1374.0,172.4L1375.1,170.5L1376.2,168.8L1377.4,167.2L1378.5,165.6L1379.7,164.1L1381.1,162.8L1382.7,161.9L1384.3,161.7L1386.1,161.9L1387.9,162.5L1389.5,163.2L1390.9,164.0L1392.3,164.9L1393.5,166.0L1394.7,167.2L1395.7,168.7L1396.7,170.3L1397.5,172.0L1398.1,173.9L1398.5,176.0L1398.7,178.1L1398.7,180.3ZM1397.4,182.6L1397.5,185.6L1397.5,188.5L1397.3,191.3L1396.8,193.9L1396.0,196.2L1395.1,198.4L1394.0,200.3L1392.9,202.0L1391.5,203.1L1390.1,203.8L1388.6,204.1L1387.0,204.2L1385.4,204.2L1383.9,203.9L1382.4,203.2L1381.1,201.9L1380.0,200.2L1379.0,198.3L1377.9,196.4L1376.8,194.4L1375.7,192.1L1374.8,189.4L1374.2,186.2L1373.9,182.6L1374.0,179.7L1374.3,177.1L1375.0,174.8L1375.9,172.7L1377.1,171.0L1378.3,169.5L1379.5,168.0L1380.7,166.5L1382.0,165.3L1383.6,164.5L1385.2,164.2L1387.0,164.5L1388.7,165.1L1390.1,166.0L1391.4,167.1L1392.6,168.3L1393.7,169.6L1394.7,171.0L1395.7,172.5L1396.5,174.1L1397.0,176.1L1397.3,178.2L1397.4,180.3ZM1396.3,182.6L1396.4,185.6L1396.3,188.5L1395.8,191.2L1395.2,193.7L1394.4,196.0L1393.4,198.0L1392.2,199.7L1390.8,200.8L1389.3,201.3L1387.8,201.5L1386.2,201.4L1384.7,201.2L1383.2,200.5L1381.9,199.3L1380.8,197.6L1379.8,195.8L1378.7,193.8L1377.7,191.7L1376.8,189.1L1376.2,186.1L1375.9,182.6L1376.0,179.9L1376.3,177.4L1377.1,175.1L1378.0,173.2L1379.1,171.5L1380.2,169.9L1381.4,168.3L1382.8,167.2L1384.4,166.5L1386.1,166.4L1387.9,166.8L1389.4,167.7L1390.7,169.0L1391.8,170.3L1392.9,171.6L1394.0,172.8L1395.0,174.3L1395.7,176.1L1396.1,178.1L1396.3,180.3ZM1395.0,182.6L1395.0,185.6L1394.8,188.4L1394.3,191.1L1393.6,193.5L1392.6,195.6L1391.5,197.3L1390.1,198.3L1388.6,198.7L1387.0,198.8L1385.4,198.8L1384.0,198.2L1382.7,196.8L1381.7,194.9L1380.7,193.0L1379.7,191.1L1378.8,188.7L1378.1,185.9L1377.8,182.6L1377.8,179.9L1378.2,177.6L1379.0,175.5L1379.9,173.6L1381.0,171.9L1382.2,170.3L1383.6,169.3L1385.2,168.8L1387.0,168.8L1388.7,169.3L1390.1,170.3L1391.3,171.7L1392.3,173.1L1393.3,174.6L1394.1,176.2L1394.7,178.2L1395.0,180.3ZM1393.8,182.6L1393.7,185.6L1393.4,188.4L1392.8,190.9L1391.9,193.2L1390.7,194.8L1389.3,195.8L1387.8,196.2L1386.2,196.4L1384.7,195.9L1383.4,194.5L1382.4,192.5L1381.5,190.5L1380.6,188.4L1379.8,185.8L1379.5,182.6L1379.6,180.0L1380.2,177.8L1380.9,175.9L1381.9,174.1L1383.0,172.5L1384.5,171.5L1386.1,171.2L1387.9,171.4L1389.4,172.2L1390.6,173.4L1391.7,174.8L1392.6,176.4L1393.3,178.2L1393.7,180.3ZM1392.4,182.6L1392.2,185.6L1391.8,188.4L1390.9,190.8L1389.7,192.5L1388.2,193.4L1386.6,193.6L1385.0,192.9L1383.8,191.3L1382.8,189.4L1381.8,187.2L1381.1,184.3L1381.0,181.2L1381.5,178.9L1382.4,176.9L1383.5,175.2L1384.8,173.9L1386.5,173.4L1388.3,173.9L1389.7,175.0L1390.8,176.5L1391.7,178.2L1392.3,180.2ZM1391.0,182.6L1390.8,185.6L1390.1,188.1L1388.9,189.9L1387.4,190.6L1385.8,190.3L1384.5,189.0L1383.5,187.0L1382.6,184.3L1382.5,181.2L1383.2,179.0L1384.3,177.2L1385.7,176.0L1387.5,176.0L1388.9,177.0L1390.1,178.4L1390.8,180.2ZM1389.7,182.6L1389.3,185.5L1388.2,187.4L1386.6,187.9L1385.2,186.6L1384.3,184.3L1384.2,181.3L1385.1,179.3L1386.5,178.2L1388.2,178.9L1389.3,180.3ZM1388.3,182.6L1388.0,184.1L1387.4,185.0L1386.6,185.0L1386.0,184.1L1385.6,182.6L1385.9,181.4L1386.6,180.7L1387.4,180.7L1388.0,181.4Z" fill="#000" fill-opacity="0.0" stroke="#5a5a5a" stroke-width="0.5" stroke-linejoin="round"/>
<path d="M1412.9,265.0L1412.4,274.6L1411.8,280.8L1411.2,286.0L1410.6,290.8L1409.8,295.2L1408.8,299.1L1407.5,302.4L1405.9,305.1L1404.2,307.4L1402.3,309.3L1400.2,310.9L1397.8,312.2L1395.0,312.9L1390.8,313.2L1386.9,312.9L1384.3,312.3L1382.1,311.3L1380.1,309.9L1378.3,308.0L1376.7,305.6L1375.3,302.7L1374.2,299.2L1373.2,295.3L1372.4,291.1L1371.7,286.3L1371.2,281.0L1371.0,274.6L1371.1,265.0L1371.4,255.7L1371.7,249.6L1372.1,244.3L1372.6,239.5L1373.3,235.1L1374.3,231.3L1375.4,228.0L1376.8,225.2L1378.4,222.7L1380.1,220.7L1382.1,219.1L1384.3,218.1L1386.9,217.8L1390.8,217.9L1395.0,218.3L1397.7,219.0L1400.2,219.8L1402.3,221.0L1404.3,222.7L1406.0,225.0L1407.5,228.0L1408.6,231.5L1409.7,235.3L1410.7,239.3L1411.6,243.8L1412.4,248.9L1412.9,255.3ZM1410.8,265.0L1410.5,274.3L1409.9,280.4L1409.4,285.5L1408.8,290.1L1408.1,294.3L1407.1,298.1L1406.0,301.3L1404.6,304.0L1403.0,306.2L1401.3,308.1L1399.4,309.6L1397.2,310.8L1394.7,311.6L1390.8,311.9L1387.2,311.6L1384.9,310.9L1382.9,309.8L1381.1,308.4L1379.5,306.6L1378.0,304.4L1376.7,301.6L1375.7,298.3L1374.8,294.5L1374.1,290.3L1373.5,285.7L1373.0,280.5L1372.8,274.3L1372.8,265.0L1373.1,255.9L1373.4,250.0L1373.8,244.9L1374.3,240.3L1374.9,236.1L1375.8,232.3L1376.8,229.0L1378.0,226.2L1379.5,223.8L1381.1,221.9L1382.9,220.4L1384.9,219.5L1387.3,219.0L1390.8,219.0L1394.6,219.4L1397.1,220.1L1399.3,221.1L1401.3,222.3L1403.1,224.0L1404.7,226.2L1406.0,229.0L1407.1,232.3L1408.0,236.0L1408.9,240.0L1409.7,244.5L1410.3,249.5L1410.8,255.6ZM1409.5,265.0L1409.3,274.1L1408.9,280.1L1408.4,285.1L1407.8,289.7L1407.1,293.8L1406.3,297.6L1405.2,300.9L1403.9,303.6L1402.4,305.8L1400.8,307.7L1398.9,309.1L1396.9,310.2L1394.5,310.9L1390.8,311.2L1387.4,310.9L1385.2,310.2L1383.3,309.1L1381.6,307.7L1380.1,305.9L1378.7,303.7L1377.5,300.9L1376.5,297.7L1375.7,293.9L1375.0,289.8L1374.5,285.2L1374.1,280.1L1373.8,274.1L1373.7,265.0L1373.9,256.0L1374.3,250.2L1374.7,245.2L1375.2,240.7L1375.8,236.6L1376.6,232.8L1377.6,229.6L1378.7,226.8L1380.1,224.5L1381.6,222.7L1383.3,221.2L1385.2,220.2L1387.4,219.7L1390.8,219.6L1394.4,219.9L1396.8,220.6L1398.9,221.7L1400.7,223.0L1402.4,224.7L1403.9,226.9L1405.2,229.6L1406.2,232.9L1407.1,236.5L1407.8,240.6L1408.5,245.0L1409.1,249.9L1409.4,255.9ZM1408.7,265.0L1408.4,274.0L1408.0,279.8L1407.6,284.8L1407.0,289.3L1406.4,293.4L1405.6,297.1L1404.5,300.3L1403.3,303.0L1401.9,305.2L1400.3,307.0L1398.6,308.4L1396.6,309.5L1394.3,310.2L1390.8,310.4L1387.6,310.2L1385.5,309.5L1383.6,308.5L1382.0,307.1L1380.6,305.4L1379.3,303.1L1378.2,300.3L1377.2,297.1L1376.5,293.4L1375.8,289.4L1375.2,285.0L1374.8,280.0L1374.4,274.1L1374.4,265.0L1374.6,256.1L1375.0,250.4L1375.4,245.5L1375.9,241.0L1376.5,236.9L1377.2,233.2L1378.2,230.0L1379.3,227.3L1380.6,225.1L1382.0,223.4L1383.6,221.9L1385.5,220.9L1387.6,220.3L1390.8,220.2L1394.3,220.5L1396.6,221.2L1398.5,222.2L1400.3,223.5L1401.9,225.2L1403.3,227.4L1404.5,230.1L1405.5,233.4L1406.3,237.0L1407.0,241.0L1407.6,245.3L1408.2,250.2L1408.6,256.0ZM1408.1,265.0L1407.8,274.0L1407.4,279.7L1406.9,284.6L1406.4,289.0L1405.7,293.1L1405.0,296.8L1404.0,299.9L1402.8,302.5L1401.4,304.6L1399.9,306.3L1398.2,307.8L1396.3,308.9L1394.1,309.7L1390.8,310.0L1387.7,309.8L1385.7,309.1L1383.9,308.1L1382.4,306.7L1381.0,304.9L1379.7,302.7L1378.7,300.0L1377.8,296.8L1377.1,293.1L1376.5,289.1L1375.9,284.7L1375.5,279.8L1375.1,274.0L1375.1,265.0L1375.3,256.2L1375.7,250.6L1376.1,245.8L1376.6,241.4L1377.1,237.4L1377.8,233.7L1378.7,230.5L1379.8,227.8L1381.0,225.7L1382.4,223.9L1384.0,222.5L1385.7,221.5L1387.7,220.9L1390.8,220.7L1394.1,221.0L1396.3,221.8L1398.2,222.8L1399.9,224.1L1401.4,225.8L1402.7,228.0L1403.9,230.7L1404.8,233.9L1405.6,237.5L1406.2,241.4L1406.8,245.6L1407.4,250.4L1407.9,256.1ZM1407.2,265.0L1407.0,273.8L1406.7,279.5L1406.3,284.4L1405.8,288.8L1405.2,292.8L1404.4,296.4L1403.4,299.5L1402.3,302.1L1401.0,304.2L1399.5,305.9L1397.9,307.3L1396.1,308.4L1394.0,309.2L1390.8,309.5L1387.8,309.3L1385.9,308.7L1384.2,307.6L1382.7,306.2L1381.4,304.5L1380.2,302.2L1379.2,299.5L1378.3,296.3L1377.6,292.7L1377.0,288.8L1376.5,284.5L1376.0,279.7L1375.6,273.9L1375.5,265.0L1375.8,256.3L1376.3,250.7L1376.7,246.0L1377.2,241.7L1377.7,237.7L1378.4,234.1L1379.2,231.0L1380.2,228.4L1381.4,226.3L1382.8,224.6L1384.3,223.2L1385.9,222.1L1387.9,221.5L1390.8,221.3L1394.0,221.6L1396.1,222.3L1397.9,223.3L1399.5,224.7L1400.9,226.4L1402.2,228.5L1403.3,231.2L1404.2,234.3L1405.0,237.8L1405.6,241.7L1406.2,245.9L1406.7,250.6L1407.1,256.3ZM1406.5,265.0L1406.4,273.7L1406.1,279.4L1405.7,284.2L1405.2,288.6L1404.7,292.6L1403.9,296.1L1402.9,299.1L1401.8,301.7L1400.6,303.7L1399.2,305.5L1397.7,306.9L1395.9,308.0L1393.9,308.7L1390.8,309.0L1388.0,308.8L1386.1,308.1L1384.4,307.2L1383.0,305.8L1381.7,304.0L1380.6,301.8L1379.6,299.0L1378.8,295.9L1378.2,292.3L1377.6,288.5L1377.0,284.3L1376.6,279.5L1376.3,273.8L1376.3,265.0L1376.5,256.4L1376.9,250.9L1377.3,246.2L1377.7,242.0L1378.2,238.1L1378.9,234.5L1379.7,231.5L1380.7,228.9L1381.8,226.7L1383.1,225.0L1384.5,223.6L1386.1,222.6L1388.0,222.0L1390.8,221.9L1393.9,222.2L1395.9,222.9L1397.6,223.9L1399.1,225.2L1400.5,226.8L1401.8,228.9L1402.8,231.5L1403.7,234.6L1404.5,238.0L1405.1,241.8L1405.7,246.0L1406.1,250.7L1406.4,256.4ZM1405.9,265.0L1405.8,273.6L1405.5,279.2L1405.2,284.0L1404.7,288.4L1404.1,292.3L1403.4,295.8L1402.5,298.8L1401.4,301.3L1400.2,303.4L1398.9,305.1L1397.4,306.4L1395.7,307.4L1393.8,308.0L1390.8,308.2L1388.1,308.1L1386.3,307.5L1384.7,306.6L1383.3,305.3L1382.1,303.5L1381.0,301.3L1380.1,298.6L1379.3,295.5L1378.6,292.1L1378.0,288.3L1377.6,284.1L1377.2,279.3L1377.0,273.6L1377.0,265.0L1377.2,256.6L1377.5,251.2L1377.8,246.5L1378.2,242.3L1378.7,238.4L1379.3,234.9L1380.1,231.8L1381.0,229.2L1382.1,227.0L1383.4,225.3L1384.7,224.0L1386.3,223.1L1388.1,222.6L1390.8,222.5L1393.7,222.7L1395.7,223.3L1397.4,224.3L1398.8,225.6L1400.2,227.2L1401.4,229.3L1402.4,231.9L1403.3,234.8L1404.0,238.2L1404.7,242.0L1405.2,246.1L1405.6,250.9L1405.9,256.5ZM1405.4,265.0L1405.3,273.5L1405.0,279.1L1404.7,283.9L1404.3,288.2L1403.7,292.1L1403.0,295.5L1402.1,298.5L1401.1,301.0L1399.9,303.0L1398.6,304.6L1397.1,305.8L1395.5,306.7L1393.6,307.3L1390.8,307.6L1388.2,307.5L1386.4,307.1L1384.9,306.2L1383.6,305.0L1382.4,303.2L1381.3,301.1L1380.4,298.4L1379.6,295.4L1379.0,292.0L1378.4,288.2L1378.0,284.0L1377.7,279.1L1377.6,273.5L1377.6,265.0L1377.8,256.8L1378.1,251.4L1378.4,246.8L1378.7,242.6L1379.2,238.8L1379.8,235.3L1380.5,232.3L1381.4,229.7L1382.5,227.6L1383.7,225.9L1385.0,224.7L1386.5,223.8L1388.2,223.4L1390.8,223.3L1393.6,223.5L1395.5,224.0L1397.1,224.9L1398.5,226.1L1399.8,227.7L1401.0,229.8L1402.0,232.2L1402.9,235.1L1403.6,238.4L1404.3,242.0L1404.8,246.2L1405.2,250.9L1405.4,256.5ZM1404.9,265.0L1404.7,273.4L1404.4,278.8L1404.0,283.5L1403.6,287.7L1403.1,291.6L1402.5,295.1L1401.7,298.2L1400.7,300.7L1399.6,302.8L1398.3,304.4L1396.9,305.6L1395.4,306.5L1393.5,307.0L1390.8,307.2L1388.3,307.0L1386.6,306.4L1385.2,305.5L1383.9,304.2L1382.7,302.6L1381.7,300.5L1380.8,297.9L1380.1,295.0L1379.4,291.6L1378.9,287.9L1378.4,283.8L1378.1,279.0L1378.0,273.4L1378.0,265.0L1378.3,256.9L1378.5,251.5L1378.8,246.9L1379.1,242.7L1379.6,238.9L1380.1,235.5L1380.9,232.6L1381.8,230.1L1382.8,228.1L1383.9,226.4L1385.2,225.1L1386.6,224.2L1388.3,223.7L1390.8,223.6L1393.5,223.9L1395.3,224.5L1396.8,225.3L1398.2,226.5L1399.5,228.0L1400.6,230.0L1401.6,232.5L1402.4,235.4L1403.1,238.8L1403.7,242.4L1404.2,246.5L1404.6,251.1L1404.9,256.6ZM1404.6,265.0L1404.4,273.4L1404.1,278.9L1403.7,283.5L1403.2,287.6L1402.7,291.3L1402.0,294.7L1401.2,297.6L1400.3,300.1L1399.2,302.2L1398.0,303.8L1396.7,305.1L1395.2,306.0L1393.4,306.5L1390.8,306.7L1388.4,306.5L1386.8,306.0L1385.4,305.1L1384.1,303.8L1383.1,302.1L1382.1,300.0L1381.2,297.5L1380.5,294.6L1379.9,291.3L1379.4,287.6L1378.9,283.5L1378.6,278.8L1378.4,273.3L1378.4,265.0L1378.6,256.9L1378.8,251.6L1379.1,247.0L1379.5,243.0L1380.0,239.3L1380.6,236.0L1381.3,233.1L1382.1,230.6L1383.1,228.5L1384.2,226.9L1385.4,225.6L1386.8,224.7L1388.4,224.2L1390.8,224.0L1393.4,224.2L1395.2,224.7L1396.6,225.6L1398.0,226.9L1399.2,228.5L1400.2,230.5L1401.2,233.0L1401.9,235.9L1402.6,239.1L1403.2,242.7L1403.7,246.6L1404.1,251.2L1404.4,256.6ZM1403.8,265.0L1403.7,273.2L1403.5,278.6L1403.1,283.2L1402.7,287.3L1402.2,290.9L1401.6,294.3L1400.8,297.2L1399.9,299.7L1398.9,301.8L1397.8,303.4L1396.5,304.7L1395.0,305.5L1393.3,306.1L1390.8,306.3L1388.5,306.2L1386.9,305.7L1385.6,304.7L1384.4,303.4L1383.3,301.7L1382.4,299.5L1381.6,297.0L1380.9,294.1L1380.3,290.9L1379.8,287.2L1379.4,283.2L1379.2,278.6L1379.0,273.1L1379.0,265.0L1379.1,257.0L1379.3,251.7L1379.6,247.2L1379.9,243.2L1380.4,239.5L1380.9,236.3L1381.6,233.4L1382.4,230.9L1383.4,228.8L1384.4,227.1L1385.6,225.8L1386.9,224.9L1388.5,224.3L1390.8,224.2L1393.3,224.4L1395.0,225.0L1396.5,225.9L1397.7,227.2L1398.9,228.8L1399.9,230.9L1400.8,233.4L1401.5,236.2L1402.2,239.4L1402.7,243.0L1403.1,247.0L1403.5,251.5L1403.7,256.9ZM1403.5,265.0L1403.3,273.2L1403.0,278.5L1402.7,283.0L1402.3,287.0L1401.8,290.7L1401.2,294.0L1400.5,296.9L1399.6,299.4L1398.6,301.4L1397.5,303.0L1396.3,304.3L1394.9,305.2L1393.3,305.7L1390.8,306.0L1388.5,305.9L1387.0,305.4L1385.7,304.5L1384.6,303.1L1383.6,301.3L1382.7,299.1L1382.0,296.6L1381.3,293.7L1380.8,290.5L1380.3,286.9L1379.9,282.9L1379.7,278.3L1379.5,273.0L1379.5,265.0L1379.6,257.2L1379.8,252.0L1380.0,247.5L1380.4,243.5L1380.8,239.9L1381.3,236.7L1382.0,233.8L1382.8,231.3L1383.6,229.3L1384.6,227.6L1385.8,226.3L1387.1,225.4L1388.5,224.8L1390.8,224.7L1393.2,224.8L1394.9,225.4L1396.3,226.3L1397.5,227.5L1398.6,229.2L1399.5,231.3L1400.4,233.8L1401.1,236.7L1401.7,239.9L1402.2,243.3L1402.7,247.2L1403.1,251.6L1403.4,256.9ZM1403.0,265.0L1402.9,273.1L1402.6,278.3L1402.2,282.7L1401.8,286.7L1401.4,290.3L1400.8,293.6L1400.1,296.5L1399.3,299.0L1398.3,301.0L1397.3,302.7L1396.1,303.9L1394.7,304.9L1393.2,305.5L1390.8,305.8L1388.6,305.7L1387.1,305.2L1385.9,304.2L1384.8,302.8L1383.9,301.0L1383.0,298.8L1382.3,296.1L1381.7,293.2L1381.2,290.0L1380.7,286.5L1380.3,282.6L1380.1,278.2L1379.9,272.9L1379.9,265.0L1380.1,257.3L1380.3,252.2L1380.5,247.8L1380.8,243.8L1381.2,240.2L1381.7,237.1L1382.4,234.3L1383.1,231.9L1384.0,229.9L1384.9,228.2L1386.0,226.8L1387.2,225.8L1388.6,225.2L1390.8,225.0L1393.2,225.2L1394.7,225.7L1396.1,226.6L1397.2,227.9L1398.3,229.6L1399.2,231.7L1400.0,234.2L1400.7,237.1L1401.2,240.3L1401.7,243.7L1402.2,247.5L1402.6,251.8L1402.9,257.0ZM1402.6,265.0L1402.5,273.1L1402.2,278.2L1401.8,282.6L1401.4,286.5L1401.0,290.1L1400.4,293.3L1399.8,296.2L1399.0,298.6L1398.1,300.6L1397.0,302.2L1395.9,303.4L1394.6,304.3L1393.1,304.8L1390.8,305.0L1388.7,304.9L1387.3,304.5L1386.1,303.7L1385.0,302.5L1384.1,300.8L1383.3,298.6L1382.6,296.0L1382.0,293.0L1381.5,289.8L1381.1,286.4L1380.7,282.6L1380.3,278.2L1380.2,273.0L1380.2,265.0L1380.4,257.3L1380.6,252.3L1380.9,247.9L1381.1,244.0L1381.5,240.4L1382.0,237.2L1382.6,234.5L1383.4,232.2L1384.2,230.2L1385.1,228.6L1386.2,227.3L1387.3,226.3L1388.7,225.8L1390.8,225.7L1393.1,225.9L1394.6,226.4L1395.8,227.3L1397.0,228.4L1398.0,230.0L1398.9,232.1L1399.6,234.6L1400.3,237.5L1400.8,240.7L1401.3,244.1L1401.7,247.7L1402.2,251.9L1402.5,257.0ZM1402.1,265.0L1402.0,272.9L1401.7,278.1L1401.4,282.4L1401.0,286.3L1400.6,289.8L1400.1,293.0L1399.4,295.8L1398.7,298.2L1397.8,300.2L1396.8,301.8L1395.7,303.0L1394.4,303.9L1393.0,304.4L1390.8,304.6L1388.8,304.5L1387.4,304.0L1386.3,303.2L1385.2,302.0L1384.3,300.4L1383.6,298.2L1382.9,295.7L1382.3,292.8L1381.9,289.5L1381.5,286.0L1381.1,282.2L1380.9,277.9L1380.7,272.8L1380.7,265.0L1380.8,257.4L1380.9,252.3L1381.2,248.0L1381.5,244.2L1381.8,240.6L1382.3,237.5L1382.9,234.8L1383.6,232.6L1384.5,230.6L1385.4,229.1L1386.3,227.8L1387.5,226.9L1388.8,226.3L1390.8,226.1L1393.0,226.2L1394.4,226.8L1395.7,227.6L1396.8,228.8L1397.7,230.5L1398.6,232.5L1399.3,235.0L1399.9,237.8L1400.4,240.9L1400.9,244.3L1401.3,247.9L1401.7,252.1L1402.0,257.1ZM1401.6,265.0L1401.5,272.8L1401.2,277.8L1400.9,282.0L1400.6,285.9L1400.2,289.3L1399.7,292.5L1399.1,295.3L1398.3,297.7L1397.5,299.7L1396.6,301.3L1395.5,302.5L1394.3,303.4L1392.9,303.9L1390.8,304.0L1388.9,303.8L1387.6,303.3L1386.5,302.5L1385.5,301.4L1384.6,299.8L1383.9,297.7L1383.2,295.3L1382.7,292.4L1382.2,289.2L1381.8,285.8L1381.5,282.0L1381.2,277.8L1381.0,272.7L1381.0,265.0L1381.1,257.4L1381.3,252.5L1381.5,248.2L1381.8,244.4L1382.2,240.9L1382.6,237.8L1383.2,235.1L1383.9,232.7L1384.7,230.8L1385.5,229.2L1386.5,228.0L1387.6,227.1L1388.9,226.6L1390.8,226.4L1392.9,226.6L1394.3,227.1L1395.5,227.9L1396.6,229.1L1397.5,230.7L1398.3,232.7L1399.0,235.2L1399.6,238.0L1400.1,241.1L1400.5,244.5L1400.9,248.2L1401.3,252.3L1401.5,257.3ZM1401.2,265.0L1401.1,272.7L1400.8,277.7L1400.5,281.9L1400.2,285.7L1399.8,289.1L1399.3,292.2L1398.7,294.9L1398.0,297.2L1397.2,299.1L1396.3,300.8L1395.3,302.1L1394.2,303.1L1392.8,303.6L1390.8,303.6L1388.9,303.3L1387.7,302.8L1386.7,302.0L1385.7,300.9L1384.8,299.4L1384.1,297.5L1383.5,295.0L1383.0,292.2L1382.6,289.0L1382.2,285.5L1381.9,281.8L1381.6,277.6L1381.4,272.6L1381.4,265.0L1381.5,257.5L1381.7,252.7L1381.9,248.5L1382.2,244.7L1382.5,241.2L1383.0,238.1L1383.5,235.4L1384.2,233.1L1384.9,231.2L1385.7,229.7L1386.7,228.5L1387.7,227.6L1388.9,227.1L1390.8,227.0L1392.8,227.2L1394.1,227.7L1395.3,228.4L1396.3,229.5L1397.2,231.1L1398.0,233.1L1398.7,235.6L1399.2,238.4L1399.7,241.5L1400.1,244.7L1400.5,248.3L1400.9,252.3L1401.2,257.3ZM1400.7,265.0L1400.6,272.6L1400.4,277.5L1400.2,281.7L1399.9,285.5L1399.5,288.9L1399.0,292.0L1398.4,294.6L1397.7,296.8L1396.9,298.7L1396.1,300.3L1395.1,301.6L1394.0,302.5L1392.7,303.0L1390.8,303.1L1389.0,302.8L1387.8,302.2L1386.8,301.5L1385.9,300.4L1385.1,299.0L1384.4,297.0L1383.8,294.6L1383.3,291.8L1382.9,288.7L1382.5,285.3L1382.2,281.7L1381.9,277.6L1381.7,272.7L1381.6,265.0L1381.7,257.5L1382.0,252.7L1382.2,248.6L1382.5,244.9L1382.9,241.5L1383.3,238.5L1383.8,235.8L1384.4,233.6L1385.1,231.7L1385.9,230.1L1386.8,228.9L1387.8,228.1L1389.0,227.6L1390.8,227.5L1392.7,227.7L1394.0,228.2L1395.1,228.9L1396.1,230.0L1397.0,231.6L1397.7,233.5L1398.4,235.9L1398.9,238.6L1399.4,241.6L1399.8,244.9L1400.2,248.4L1400.5,252.5L1400.7,257.4ZM1400.4,265.0L1400.3,272.5L1400.1,277.4L1399.8,281.5L1399.5,285.2L1399.1,288.6L1398.6,291.5L1398.1,294.1L1397.4,296.3L1396.7,298.2L1395.9,299.8L1394.9,301.1L1393.9,302.0L1392.7,302.4L1390.8,302.5L1389.1,302.2L1388.0,301.7L1387.0,300.9L1386.1,299.9L1385.3,298.5L1384.6,296.6L1384.1,294.3L1383.6,291.5L1383.2,288.5L1382.8,285.1L1382.5,281.5L1382.3,277.4L1382.1,272.5L1382.1,265.0L1382.2,257.6L1382.4,252.8L1382.6,248.7L1382.8,245.0L1383.1,241.7L1383.6,238.7L1384.1,236.1L1384.7,233.8L1385.4,232.0L1386.1,230.5L1387.0,229.3L1388.0,228.5L1389.1,228.1L1390.8,228.0L1392.6,228.2L1393.9,228.7L1394.9,229.4L1395.9,230.5L1396.7,232.1L1397.4,234.0L1398.0,236.4L1398.6,239.0L1399.0,241.9L1399.4,245.1L1399.8,248.6L1400.2,252.6L1400.4,257.5ZM1400.0,265.0L1400.0,272.5L1399.8,277.4L1399.5,281.5L1399.2,285.1L1398.8,288.3L1398.3,291.1L1397.7,293.6L1397.1,295.8L1396.4,297.7L1395.6,299.3L1394.8,300.5L1393.8,301.3L1392.6,301.8L1390.8,301.8L1389.2,301.6L1388.1,301.1L1387.2,300.3L1386.3,299.3L1385.6,297.8L1384.9,296.0L1384.4,293.7L1383.9,291.0L1383.5,288.1L1383.2,284.8L1382.9,281.2L1382.7,277.1L1382.5,272.3L1382.5,265.0L1382.5,257.7L1382.6,252.9L1382.8,248.8L1383.1,245.1L1383.4,241.8L1383.8,238.9L1384.3,236.4L1384.9,234.2L1385.6,232.3L1386.3,230.8L1387.1,229.6L1388.1,228.8L1389.2,228.3L1390.8,228.2L1392.6,228.4L1393.8,228.9L1394.8,229.7L1395.7,230.8L1396.5,232.3L1397.2,234.2L1397.8,236.5L1398.3,239.2L1398.7,242.1L1399.1,245.3L1399.4,248.8L1399.7,252.8L1399.9,257.6ZM1399.4,265.0L1399.4,272.2L1399.3,277.0L1399.1,281.1L1398.8,284.8L1398.5,288.1L1398.0,290.9L1397.5,293.4L1396.9,295.5L1396.2,297.3L1395.4,298.8L1394.6,300.0L1393.6,301.0L1392.5,301.5L1390.8,301.7L1389.2,301.5L1388.2,301.0L1387.3,300.2L1386.5,299.0L1385.8,297.5L1385.2,295.7L1384.6,293.4L1384.2,290.8L1383.8,287.9L1383.5,284.7L1383.2,281.1L1383.0,277.1L1382.9,272.3L1382.8,265.0L1382.9,257.9L1383.0,253.2L1383.2,249.1L1383.5,245.5L1383.8,242.3L1384.2,239.4L1384.6,236.9L1385.2,234.8L1385.8,233.0L1386.5,231.5L1387.3,230.3L1388.2,229.4L1389.2,228.8L1390.8,228.6L1392.5,228.9L1393.6,229.4L1394.6,230.3L1395.4,231.4L1396.2,232.9L1396.9,234.8L1397.5,237.0L1398.0,239.5L1398.4,242.4L1398.8,245.5L1399.1,249.1L1399.3,253.1L1399.4,257.8ZM1399.1,265.0L1399.1,272.2L1399.0,277.0L1398.8,281.1L1398.6,284.8L1398.2,288.0L1397.8,290.8L1397.2,293.2L1396.6,295.2L1396.0,296.9L1395.2,298.3L1394.4,299.5L1393.5,300.4L1392.4,301.0L1390.8,301.2L1389.3,301.0L1388.3,300.4L1387.5,299.6L1386.7,298.4L1386.0,296.9L1385.4,295.1L1384.9,293.0L1384.5,290.4L1384.1,287.6L1383.8,284.5L1383.5,280.9L1383.3,276.9L1383.2,272.2L1383.2,265.0L1383.2,257.9L1383.4,253.3L1383.5,249.3L1383.8,245.7L1384.0,242.5L1384.4,239.6L1384.9,237.1L1385.4,235.0L1386.0,233.3L1386.7,231.8L1387.4,230.6L1388.3,229.7L1389.3,229.2L1390.8,229.1L1392.4,229.4L1393.5,230.0L1394.4,231.0L1395.2,232.2L1395.9,233.6L1396.6,235.4L1397.1,237.6L1397.6,240.0L1398.0,242.8L1398.4,245.9L1398.7,249.3L1398.9,253.2L1399.1,257.9ZM1398.8,265.0L1398.8,272.2L1398.7,277.0L1398.5,281.0L1398.2,284.6L1397.9,287.7L1397.5,290.5L1397.0,292.9L1396.4,295.0L1395.8,296.6L1395.0,298.0L1394.3,299.1L1393.4,299.9L1392.4,300.4L1390.8,300.6L1389.4,300.5L1388.4,299.9L1387.6,299.1L1386.9,297.9L1386.3,296.5L1385.7,294.7L1385.2,292.6L1384.7,290.2L1384.4,287.4L1384.1,284.3L1383.8,280.7L1383.7,276.7L1383.6,272.0L1383.6,265.0L1383.6,258.1L1383.7,253.4L1383.8,249.5L1384.0,245.9L1384.3,242.7L1384.7,239.9L1385.1,237.4L1385.6,235.4L1386.2,233.6L1386.9,232.2L1387.6,231.1L1388.4,230.3L1389.4,229.9L1390.8,229.8L1392.3,230.1L1393.4,230.7L1394.2,231.6L1395.0,232.8L1395.7,234.2L1396.3,236.0L1396.8,238.0L1397.3,240.4L1397.7,243.1L1398.0,246.1L1398.3,249.5L1398.6,253.3L1398.7,257.9ZM1398.5,265.0L1398.5,272.1L1398.4,276.8L1398.1,280.7L1397.9,284.2L1397.5,287.3L1397.1,290.0L1396.7,292.4L1396.1,294.5L1395.5,296.1L1394.8,297.5L1394.1,298.5L1393.3,299.2L1392.3,299.7L1390.8,299.9L1389.4,299.7L1388.5,299.2L1387.8,298.4L1387.1,297.3L1386.5,295.9L1385.9,294.1L1385.5,292.1L1385.0,289.7L1384.7,287.0L1384.4,284.0L1384.1,280.5L1384.0,276.6L1383.9,272.0L1383.9,265.0L1383.9,258.1L1384.0,253.5L1384.1,249.5L1384.3,246.0L1384.6,242.8L1384.9,240.0L1385.4,237.6L1385.9,235.6L1386.4,233.9L1387.0,232.5L1387.7,231.4L1388.5,230.7L1389.4,230.3L1390.8,230.2L1392.3,230.6L1393.2,231.2L1394.1,232.1L1394.8,233.3L1395.4,234.7L1396.0,236.3L1396.6,238.3L1397.0,240.7L1397.4,243.3L1397.7,246.3L1398.0,249.7L1398.3,253.5L1398.4,258.0ZM1398.1,265.0L1398.1,272.0L1397.9,276.6L1397.7,280.4L1397.5,283.8L1397.2,286.8L1396.8,289.5L1396.3,291.8L1395.8,293.7L1395.2,295.3L1394.6,296.6L1393.9,297.6L1393.1,298.4L1392.2,298.9L1390.8,299.1L1389.5,299.0L1388.7,298.5L1387.9,297.8L1387.3,296.6L1386.7,295.2L1386.2,293.5L1385.8,291.5L1385.3,289.2L1385.0,286.7L1384.7,283.7L1384.4,280.3L1384.3,276.5L1384.2,271.9L1384.2,265.0L1384.2,258.2L1384.2,253.6L1384.4,249.6L1384.6,246.1L1384.8,243.0L1385.2,240.3L1385.6,238.0L1386.1,236.0L1386.6,234.3L1387.2,232.9L1387.9,231.8L1388.6,231.0L1389.5,230.5L1390.8,230.4L1392.2,230.7L1393.2,231.3L1393.9,232.2L1394.6,233.4L1395.3,234.8L1395.8,236.5L1396.3,238.6L1396.8,240.9L1397.1,243.5L1397.4,246.5L1397.7,249.8L1397.9,253.6L1398.1,258.1ZM1397.8,265.0L1397.7,271.9L1397.6,276.4L1397.4,280.2L1397.2,283.5L1396.9,286.5L1396.5,289.2L1396.1,291.4L1395.6,293.3L1395.0,294.8L1394.4,296.1L1393.7,297.1L1393.0,297.9L1392.1,298.4L1390.8,298.5L1389.6,298.3L1388.8,297.8L1388.1,297.0L1387.5,295.9L1386.9,294.6L1386.5,293.0L1386.0,291.0L1385.6,288.8L1385.3,286.2L1385.0,283.3L1384.8,280.1L1384.6,276.4L1384.4,271.9L1384.4,265.0L1384.4,258.2L1384.5,253.7L1384.7,249.9L1384.9,246.5L1385.2,243.4L1385.5,240.7L1385.9,238.4L1386.3,236.5L1386.8,234.9L1387.4,233.5L1388.0,232.5L1388.7,231.7L1389.6,231.3L1390.8,231.1L1392.1,231.3L1393.0,231.8L1393.8,232.7L1394.5,233.8L1395.1,235.1L1395.6,236.7L1396.1,238.7L1396.5,240.9L1396.9,243.6L1397.2,246.5L1397.5,249.8L1397.7,253.6L1397.8,258.2ZM1397.4,265.0L1397.3,271.7L1397.2,276.2L1397.1,280.0L1396.9,283.4L1396.6,286.4L1396.2,288.9L1395.8,291.0L1395.3,292.8L1394.8,294.2L1394.2,295.4L1393.6,296.5L1392.9,297.4L1392.1,297.9L1390.8,298.2L1389.6,298.0L1388.9,297.5L1388.2,296.7L1387.6,295.6L1387.1,294.3L1386.7,292.6L1386.2,290.7L1385.9,288.5L1385.6,285.9L1385.3,283.1L1385.0,279.9L1384.8,276.3L1384.7,271.8L1384.7,265.0L1384.8,258.4L1385.0,254.1L1385.1,250.4L1385.3,247.1L1385.5,244.0L1385.8,241.2L1386.1,238.9L1386.6,236.9L1387.0,235.4L1387.6,234.1L1388.2,233.1L1388.8,232.4L1389.6,231.9L1390.8,231.7L1392.1,231.9L1392.9,232.4L1393.6,233.2L1394.3,234.2L1394.9,235.5L1395.4,237.1L1395.8,239.0L1396.3,241.3L1396.6,243.8L1396.9,246.7L1397.2,249.9L1397.3,253.7L1397.4,258.3ZM1396.9,265.0L1396.9,271.5L1396.8,275.9L1396.7,279.7L1396.6,283.1L1396.3,286.0L1395.9,288.5L1395.5,290.6L1395.1,292.3L1394.6,293.7L1394.0,295.0L1393.4,296.0L1392.8,296.9L1392.0,297.5L1390.8,297.8L1389.7,297.6L1389.0,297.1L1388.4,296.2L1387.8,295.1L1387.3,293.7L1386.9,292.1L1386.5,290.2L1386.1,288.1L1385.8,285.7L1385.5,282.9L1385.3,279.8L1385.1,276.1L1385.1,271.7L1385.1,265.0L1385.1,258.5L1385.3,254.2L1385.4,250.6L1385.6,247.3L1385.8,244.3L1386.0,241.6L1386.4,239.3L1386.8,237.4L1387.2,235.8L1387.7,234.5L1388.3,233.5L1388.9,232.8L1389.7,232.4L1390.8,232.2L1392.0,232.4L1392.8,232.9L1393.5,233.7L1394.1,234.7L1394.6,236.0L1395.1,237.6L1395.6,239.5L1396.0,241.7L1396.3,244.2L1396.5,247.1L1396.8,250.4L1396.9,254.1L1396.9,258.5ZM1396.6,265.0L1396.6,271.5L1396.5,275.8L1396.4,279.6L1396.3,282.9L1396.0,285.7L1395.7,288.1L1395.3,290.1L1394.8,291.8L1394.4,293.2L1393.8,294.4L1393.3,295.5L1392.7,296.4L1391.9,297.0L1390.8,297.3L1389.8,297.2L1389.1,296.7L1388.5,295.9L1388.0,294.8L1387.5,293.4L1387.1,291.7L1386.7,289.8L1386.4,287.6L1386.1,285.3L1385.9,282.6L1385.6,279.5L1385.5,275.9L1385.4,271.6L1385.4,265.0L1385.5,258.6L1385.6,254.4L1385.7,250.9L1385.9,247.7L1386.1,244.8L1386.3,242.2L1386.6,239.9L1387.0,238.0L1387.4,236.4L1387.9,235.1L1388.5,234.1L1389.0,233.4L1389.7,232.9L1390.8,232.7L1391.9,232.9L1392.7,233.3L1393.4,234.1L1393.9,235.2L1394.4,236.5L1394.9,238.2L1395.3,240.0L1395.6,242.2L1396.0,244.7L1396.2,247.4L1396.4,250.6L1396.6,254.3L1396.6,258.6ZM1396.3,265.0L1396.2,271.3L1396.2,275.6L1396.1,279.3L1395.9,282.5L1395.7,285.3L1395.4,287.8L1395.0,289.8L1394.6,291.5L1394.2,292.9L1393.7,294.1L1393.2,295.1L1392.6,295.8L1391.9,296.4L1390.8,296.7L1389.8,296.7L1389.2,296.3L1388.6,295.5L1388.1,294.4L1387.7,292.9L1387.3,291.2L1387.0,289.3L1386.7,287.2L1386.4,284.8L1386.2,282.2L1385.9,279.2L1385.8,275.7L1385.7,271.4L1385.7,265.0L1385.7,258.7L1385.8,254.5L1385.9,250.9L1386.1,247.8L1386.3,245.0L1386.6,242.6L1386.9,240.5L1387.3,238.6L1387.7,237.0L1388.1,235.7L1388.6,234.6L1389.1,233.8L1389.8,233.4L1390.8,233.3L1391.9,233.5L1392.6,234.1L1393.2,234.9L1393.7,236.0L1394.2,237.3L1394.6,238.8L1395.0,240.6L1395.4,242.6L1395.7,245.0L1395.9,247.8L1396.1,250.9L1396.2,254.5L1396.2,258.7ZM1395.9,265.0L1395.9,271.3L1395.9,275.6L1395.8,279.2L1395.6,282.4L1395.4,285.1L1395.1,287.5L1394.7,289.6L1394.3,291.3L1393.9,292.7L1393.4,293.9L1392.9,294.7L1392.3,295.4L1391.6,295.8L1390.5,296.0L1389.7,295.9L1389.1,295.4L1388.6,294.5L1388.1,293.3L1387.8,291.8L1387.4,290.0L1387.1,288.0L1386.8,285.8L1386.6,283.3L1386.4,280.4L1386.2,277.2L1386.1,273.5L1386.0,268.8L1386.0,261.2L1386.0,256.5L1386.1,252.6L1386.3,249.4L1386.5,246.5L1386.8,244.0L1387.0,241.7L1387.3,239.6L1387.7,237.9L1388.1,236.4L1388.6,235.4L1389.1,234.6L1389.7,234.1L1390.5,233.8L1391.6,233.9L1392.4,234.3L1393.0,235.0L1393.5,236.1L1393.9,237.5L1394.3,239.1L1394.7,240.9L1395.0,242.9L1395.3,245.1L1395.6,247.8L1395.8,250.9L1395.9,254.6L1395.9,258.8ZM1395.6,265.0L1395.6,271.3L1395.6,275.5L1395.5,279.2L1395.3,282.4L1395.1,285.1L1394.8,287.4L1394.4,289.4L1394.1,291.0L1393.6,292.4L1393.2,293.5L1392.7,294.4L1392.1,295.0L1391.4,295.4L1390.3,295.5L1389.6,295.3L1389.1,294.7L1388.6,293.7L1388.2,292.4L1387.8,290.8L1387.5,289.0L1387.2,286.9L1387.0,284.6L1386.8,281.9L1386.6,278.8L1386.5,275.4L1386.4,271.3L1386.4,265.0L1386.4,258.8L1386.4,254.7L1386.6,251.3L1386.8,248.3L1386.9,245.5L1387.2,243.1L1387.4,240.9L1387.8,239.0L1388.1,237.5L1388.6,236.3L1389.0,235.4L1389.6,234.8L1390.3,234.4L1391.4,234.3L1392.1,234.5L1392.7,235.2L1393.2,236.3L1393.7,237.8L1394.0,239.4L1394.4,241.3L1394.7,243.3L1395.0,245.5L1395.2,248.1L1395.4,251.2L1395.5,254.8L1395.5,258.9ZM1395.3,265.0L1395.3,271.3L1395.3,275.7L1395.2,279.4L1395.0,282.5L1394.7,285.1L1394.4,287.4L1394.1,289.3L1393.7,290.9L1393.3,292.3L1392.8,293.3L1392.3,294.0L1391.7,294.5L1390.8,294.7L1389.9,294.7L1389.4,294.4L1388.9,293.7L1388.5,292.6L1388.1,291.1L1387.8,289.3L1387.5,287.1L1387.3,284.7L1387.1,281.9L1386.9,278.8L1386.8,275.4L1386.7,271.3L1386.7,265.0L1386.7,258.7L1386.7,254.6L1386.9,251.1L1387.0,248.2L1387.3,245.5L1387.5,243.1L1387.8,241.0L1388.1,239.2L1388.5,237.7L1388.9,236.5L1389.4,235.7L1389.9,235.2L1390.8,235.0L1391.7,235.1L1392.4,235.6L1392.9,236.6L1393.3,237.9L1393.7,239.4L1394.1,241.2L1394.4,243.2L1394.7,245.5L1394.9,248.1L1395.0,251.2L1395.1,254.7L1395.2,258.8ZM1395.0,265.0L1395.0,271.3L1394.9,275.6L1394.8,279.2L1394.6,282.2L1394.4,284.7L1394.1,286.9L1393.8,288.9L1393.5,290.6L1393.1,291.9L1392.6,292.9L1392.1,293.5L1391.5,293.9L1390.5,293.9L1389.9,293.7L1389.4,293.3L1388.9,292.5L1388.5,291.4L1388.2,289.8L1387.9,287.9L1387.7,285.6L1387.5,283.0L1387.3,280.1L1387.2,276.9L1387.1,273.3L1387.0,268.7L1387.0,261.3L1387.0,256.7L1387.1,253.0L1387.3,249.9L1387.4,247.1L1387.6,244.6L1387.9,242.3L1388.2,240.2L1388.5,238.5L1388.9,237.3L1389.3,236.4L1389.8,235.8L1390.5,235.6L1391.5,235.6L1392.1,236.0L1392.7,236.8L1393.1,238.0L1393.5,239.5L1393.8,241.3L1394.1,243.2L1394.4,245.4L1394.6,248.0L1394.8,251.1L1394.9,254.7L1394.9,258.8ZM1394.7,265.0L1394.7,271.3L1394.6,275.6L1394.5,279.2L1394.3,282.2L1394.1,284.8L1393.8,287.0L1393.5,288.9L1393.1,290.5L1392.8,291.7L1392.3,292.6L1391.8,293.2L1391.1,293.4L1390.2,293.3L1389.7,292.9L1389.2,292.3L1388.8,291.3L1388.5,289.9L1388.2,288.1L1387.9,285.8L1387.7,283.3L1387.6,280.4L1387.4,277.1L1387.3,273.4L1387.3,268.7L1387.3,261.3L1387.3,256.7L1387.4,253.0L1387.6,249.9L1387.7,247.0L1387.9,244.5L1388.2,242.2L1388.5,240.3L1388.8,238.8L1389.2,237.6L1389.6,236.8L1390.2,236.4L1391.1,236.3L1391.8,236.6L1392.3,237.3L1392.8,238.3L1393.2,239.8L1393.5,241.4L1393.8,243.3L1394.1,245.5L1394.3,248.1L1394.5,251.1L1394.6,254.6L1394.6,258.8ZM1394.4,265.0L1394.4,271.4L1394.4,275.6L1394.2,279.2L1394.0,282.1L1393.8,284.5L1393.5,286.7L1393.2,288.6L1392.9,290.2L1392.5,291.5L1392.1,292.3L1391.6,292.7L1390.8,292.7L1390.1,292.4L1389.6,291.9L1389.2,291.2L1388.9,290.1L1388.5,288.6L1388.3,286.7L1388.1,284.4L1387.9,281.7L1387.8,278.6L1387.7,275.2L1387.6,271.2L1387.6,265.0L1387.6,258.9L1387.7,255.0L1387.8,251.6L1387.9,248.7L1388.1,246.0L1388.3,243.7L1388.5,241.6L1388.8,239.9L1389.2,238.7L1389.6,237.8L1390.1,237.3L1390.8,237.2L1391.6,237.4L1392.1,237.9L1392.5,238.8L1392.9,240.1L1393.2,241.6L1393.5,243.5L1393.8,245.8L1394.0,248.4L1394.1,251.4L1394.2,254.8L1394.3,258.8ZM1394.1,265.0L1394.1,271.4L1394.1,275.7L1393.9,279.2L1393.7,282.1L1393.5,284.5L1393.2,286.6L1392.9,288.4L1392.6,290.0L1392.2,291.1L1391.8,291.7L1391.2,291.9L1390.4,291.9L1389.9,291.6L1389.5,291.0L1389.1,290.1L1388.8,288.7L1388.5,286.8L1388.3,284.5L1388.2,281.7L1388.1,278.6L1388.0,275.2L1387.9,271.2L1387.8,265.0L1387.9,258.8L1387.9,254.8L1388.1,251.5L1388.2,248.7L1388.4,246.1L1388.6,243.9L1388.8,241.9L1389.1,240.2L1389.5,239.0L1389.9,238.2L1390.4,237.8L1391.2,237.9L1391.8,238.4L1392.2,239.2L1392.6,240.3L1392.9,241.8L1393.2,243.7L1393.4,246.0L1393.6,248.6L1393.8,251.6L1393.9,254.9L1394.0,258.8ZM1393.7,265.0L1393.8,271.4L1393.7,275.7L1393.6,279.2L1393.4,282.0L1393.2,284.4L1392.9,286.5L1392.6,288.3L1392.3,289.6L1391.9,290.6L1391.5,291.1L1390.8,291.2L1390.2,290.9L1389.8,290.4L1389.4,289.6L1389.1,288.4L1388.8,286.7L1388.6,284.6L1388.4,282.0L1388.3,279.0L1388.2,275.5L1388.1,271.3L1388.1,265.0L1388.1,258.7L1388.2,254.7L1388.3,251.4L1388.5,248.5L1388.6,246.0L1388.9,243.9L1389.1,242.0L1389.4,240.5L1389.7,239.4L1390.2,238.8L1390.8,238.6L1391.5,238.9L1391.9,239.6L1392.3,240.7L1392.6,242.1L1392.9,243.9L1393.1,246.1L1393.3,248.7L1393.4,251.7L1393.6,255.0L1393.7,258.9ZM1393.4,265.0L1393.4,271.3L1393.4,275.4L1393.3,278.8L1393.1,281.7L1392.9,284.2L1392.7,286.2L1392.4,287.8L1392.1,289.0L1391.7,289.8L1391.3,290.3L1390.6,290.4L1390.1,290.0L1389.8,289.4L1389.5,288.4L1389.2,287.1L1388.9,285.3L1388.7,283.0L1388.6,280.3L1388.5,277.1L1388.4,273.4L1388.4,268.7L1388.4,261.3L1388.4,256.7L1388.5,253.1L1388.6,250.1L1388.8,247.4L1389.0,245.1L1389.2,243.2L1389.4,241.7L1389.8,240.5L1390.1,239.9L1390.6,239.6L1391.3,239.9L1391.7,240.5L1392.1,241.4L1392.4,242.7L1392.7,244.4L1392.9,246.6L1393.0,249.1L1393.2,251.9L1393.3,255.1L1393.4,258.9ZM1393.1,265.0L1393.1,271.1L1393.0,275.1L1392.9,278.6L1392.8,281.6L1392.6,284.1L1392.4,286.1L1392.1,287.5L1391.8,288.6L1391.5,289.4L1391.0,289.7L1390.4,289.5L1390.0,289.0L1389.7,288.1L1389.4,286.8L1389.2,285.0L1389.0,282.8L1388.9,280.0L1388.8,276.9L1388.7,273.2L1388.7,268.7L1388.7,261.3L1388.7,256.7L1388.8,253.1L1388.9,250.0L1389.0,247.4L1389.2,245.3L1389.4,243.5L1389.7,242.1L1390.0,241.1L1390.4,240.6L1391.0,240.6L1391.5,241.1L1391.8,241.9L1392.1,243.0L1392.4,244.6L1392.6,246.7L1392.8,249.1L1392.9,251.9L1393.0,255.0L1393.1,258.9ZM1392.8,265.0L1392.8,271.1L1392.7,275.0L1392.6,278.5L1392.5,281.5L1392.4,283.9L1392.1,285.7L1391.9,287.0L1391.6,288.0L1391.2,288.6L1390.6,288.7L1390.2,288.3L1389.9,287.5L1389.7,286.3L1389.5,284.7L1389.3,282.5L1389.2,279.8L1389.1,276.7L1389.0,273.2L1388.9,268.7L1388.9,261.4L1389.0,256.8L1389.0,253.2L1389.2,250.2L1389.3,247.7L1389.5,245.6L1389.7,243.9L1389.9,242.6L1390.2,241.7L1390.6,241.5L1391.2,241.7L1391.6,242.4L1391.9,243.4L1392.1,244.8L1392.3,246.7L1392.5,249.2L1392.6,251.9L1392.7,255.0L1392.8,258.9ZM1392.5,265.0L1392.5,271.0L1392.4,275.0L1392.4,278.3L1392.2,281.1L1392.1,283.3L1391.9,285.0L1391.6,286.3L1391.3,287.2L1391.0,287.5L1390.5,287.4L1390.2,286.8L1389.9,285.7L1389.7,284.2L1389.6,282.2L1389.4,279.6L1389.3,276.6L1389.3,273.1L1389.2,268.6L1389.2,261.4L1389.2,256.9L1389.3,253.4L1389.4,250.4L1389.6,248.0L1389.7,246.0L1389.9,244.4L1390.2,243.3L1390.5,242.6L1391.0,242.5L1391.3,242.9L1391.6,243.8L1391.9,245.1L1392.1,246.9L1392.2,249.1L1392.4,251.8L1392.5,255.0L1392.5,259.0ZM1392.3,265.0L1392.2,271.1L1392.2,275.1L1392.1,278.3L1391.9,281.0L1391.8,283.1L1391.6,284.6L1391.3,285.6L1391.0,286.1L1390.6,286.1L1390.3,285.6L1390.1,284.5L1389.9,282.9L1389.8,280.8L1389.6,278.2L1389.6,274.9L1389.5,271.0L1389.5,265.0L1389.5,259.0L1389.5,255.0L1389.6,251.9L1389.8,249.4L1389.9,247.2L1390.1,245.4L1390.3,244.3L1390.6,243.7L1391.0,243.6L1391.4,244.2L1391.6,245.3L1391.8,247.0L1392.0,249.1L1392.1,251.7L1392.2,254.9L1392.2,258.9ZM1392.0,265.0L1391.9,271.0L1391.9,274.8L1391.8,278.0L1391.7,280.6L1391.5,282.5L1391.4,283.8L1391.1,284.5L1390.8,284.8L1390.5,284.5L1390.3,283.7L1390.1,282.4L1390.0,280.4L1389.9,277.9L1389.8,274.7L1389.8,270.9L1389.8,265.0L1389.8,259.1L1389.8,255.4L1389.9,252.4L1390.0,249.9L1390.1,247.8L1390.3,246.3L1390.5,245.3L1390.8,245.0L1391.1,245.3L1391.4,246.1L1391.5,247.6L1391.7,249.6L1391.8,252.2L1391.9,255.2L1391.9,259.0ZM1391.7,265.0L1391.6,270.9L1391.6,274.6L1391.5,277.7L1391.4,280.1L1391.3,281.8L1391.1,282.9L1390.9,283.3L1390.6,283.1L1390.4,282.4L1390.3,281.0L1390.2,278.9L1390.1,276.1L1390.0,272.8L1390.0,268.5L1390.0,261.5L1390.0,257.2L1390.1,253.9L1390.2,251.3L1390.3,249.3L1390.4,247.8L1390.6,246.9L1390.9,246.8L1391.1,247.3L1391.3,248.5L1391.4,250.3L1391.5,252.6L1391.6,255.5L1391.6,259.2Z" fill="#000" fill-opacity="0.06" stroke="#222" stroke-width="0.45" stroke-linejoin="round"/>
<path d="M1391.4,236.0v4.4M1390.7,241.7v7.2M1390.8,250.5v9.0M1391.0,262.1v5.8M1391.3,270.1v4.2M1390.6,275.5v4.4M1391.3,281.6v5.4M1390.8,289.0v3.7M1391.1,296.1v3.4" stroke="#fff" stroke-opacity="0.32" stroke-width="0.8" stroke-linecap="round" fill="none"/>
<path d="M1467.4,292.1h1.1v1.1h-1.1zM1513.2,238.9h1.1v1.1h-1.1zM1506.8,259.4h1.1v1.1h-1.1zM1489.5,226.4h1.1v1.1h-1.1zM1471.9,294.0h1.1v1.1h-1.1zM1429.8,215.6h1.1v1.1h-1.1zM1511.4,250.3h1.1v1.1h-1.1zM1484.2,302.6h1.1v1.1h-1.1zM1496.2,233.4h1.1v1.1h-1.1zM1481.4,230.4h1.1v1.1h-1.1zM1435.6,191.6h1.1v1.1h-1.1zM1501.7,285.9h1.1v1.1h-1.1zM1459.8,194.6h1.1v1.1h-1.1zM1489.6,292.6h1.1v1.1h-1.1zM1453.5,222.9h1.1v1.1h-1.1zM1464.2,293.6h1.1v1.1h-1.1zM1457.1,207.2h1.1v1.1h-1.1zM1477.2,294.0h1.1v1.1h-1.1zM1442.7,302.3h1.1v1.1h-1.1zM1511.7,247.5h1.1v1.1h-1.1zM1511.9,258.3h1.1v1.1h-1.1zM1504.6,225.7h1.1v1.1h-1.1zM1440.5,210.0h1.1v1.1h-1.1zM1506.0,261.4h1.1v1.1h-1.1zM1480.6,216.2h1.1v1.1h-1.1zM1500.8,231.0h1.1v1.1h-1.1zM1458.2,304.1h1.1v1.1h-1.1zM1484.7,287.2h1.1v1.1h-1.1zM1457.1,293.5h1.1v1.1h-1.1zM1503.6,276.1h1.1v1.1h-1.1zM1482.2,227.1h1.1v1.1h-1.1zM1451.8,220.2h1.1v1.1h-1.1zM1496.4,211.9h1.1v1.1h-1.1zM1509.0,200.6h1.1v1.1h-1.1zM1450.0,214.1h1.1v1.1h-1.1zM1492.8,219.1h1.1v1.1h-1.1zM1482.4,208.8h1.1v1.1h-1.1zM1508.9,303.1h1.1v1.1h-1.1zM1490.3,223.4h1.1v1.1h-1.1zM1462.2,300.5h1.1v1.1h-1.1zM1450.4,203.4h1.1v1.1h-1.1zM1497.3,233.9h1.1v1.1h-1.1zM1467.2,225.6h1.1v1.1h-1.1zM1432.5,190.8h1.1v1.1h-1.1zM1434.1,196.7h1.1v1.1h-1.1zM1448.7,220.4h1.1v1.1h-1.1zM1510.1,282.9h1.1v1.1h-1.1zM1440.8,214.9h1.1v1.1h-1.1zM1479.3,218.0h1.1v1.1h-1.1zM1473.4,218.1h1.1v1.1h-1.1zM1505.3,228.2h1.1v1.1h-1.1zM1485.4,300.6h1.1v1.1h-1.1zM1448.5,298.9h1.1v1.1h-1.1zM1478.7,204.0h1.1v1.1h-1.1zM1474.6,223.3h1.1v1.1h-1.1zM1450.6,205.1h1.1v1.1h-1.1zM1509.3,271.8h1.1v1.1h-1.1zM1439.8,302.5h1.1v1.1h-1.1zM1483.9,217.2h1.1v1.1h-1.1zM1513.1,256.6h1.1v1.1h-1.1zM1507.9,272.7h1.1v1.1h-1.1zM1458.4,223.8h1.1v1.1h-1.1zM1467.4,225.0h1.1v1.1h-1.1zM1510.6,244.9h1.1v1.1h-1.1zM1463.7,217.0h1.1v1.1h-1.1zM1495.9,200.5h1.1v1.1h-1.1zM1463.2,290.2h1.1v1.1h-1.1zM1464.1,219.5h1.1v1.1h-1.1zM1449.0,303.0h1.1v1.1h-1.1zM1460.2,299.4h1.1v1.1h-1.1zM1505.1,305.8h1.1v1.1h-1.1zM1464.9,219.7h1.1v1.1h-1.1zM1421.1,212.0h1.1v1.1h-1.1zM1444.9,217.5h1.1v1.1h-1.1zM1436.7,214.6h1.1v1.1h-1.1zM1424.2,211.6h1.1v1.1h-1.1zM1465.8,292.7h1.1v1.1h-1.1zM1478.1,225.4h1.1v1.1h-1.1zM1486.4,226.6h1.1v1.1h-1.1zM1509.0,226.7h1.1v1.1h-1.1zM1479.2,223.5h1.1v1.1h-1.1zM1456.9,214.7h1.1v1.1h-1.1zM1425.6,185.7h1.1v1.1h-1.1zM1474.6,200.0h1.1v1.1h-1.1zM1479.4,286.2h1.1v1.1h-1.1zM1513.2,234.1h1.1v1.1h-1.1zM1451.8,214.2h1.1v1.1h-1.1zM1464.1,296.1h1.1v1.1h-1.1zM1451.9,207.1h1.1v1.1h-1.1zM1511.0,261.6h1.1v1.1h-1.1zM1446.8,210.9h1.1v1.1h-1.1zM1456.0,195.7h1.1v1.1h-1.1zM1503.5,262.5h1.1v1.1h-1.1zM1485.6,223.4h1.1v1.1h-1.1zM1509.2,238.6h1.1v1.1h-1.1zM1493.4,289.3h1.1v1.1h-1.1zM1485.0,293.3h1.1v1.1h-1.1zM1486.5,286.5h1.1v1.1h-1.1zM1497.2,232.4h1.1v1.1h-1.1zM1503.1,255.4h1.1v1.1h-1.1zM1494.2,231.8h1.1v1.1h-1.1zM1492.8,299.6h1.1v1.1h-1.1zM1460.8,218.7h1.1v1.1h-1.1zM1448.4,217.7h1.1v1.1h-1.1zM1446.6,218.4h1.1v1.1h-1.1zM1496.0,288.7h1.1v1.1h-1.1zM1438.9,196.6h1.1v1.1h-1.1zM1510.4,251.3h1.1v1.1h-1.1zM1475.1,226.3h1.1v1.1h-1.1zM1491.2,285.6h1.1v1.1h-1.1zM1471.6,227.5h1.1v1.1h-1.1zM1504.5,240.4h1.1v1.1h-1.1zM1506.2,236.2h1.1v1.1h-1.1zM1457.3,218.0h1.1v1.1h-1.1zM1463.1,208.5h1.1v1.1h-1.1zM1506.9,251.7h1.1v1.1h-1.1zM1458.7,220.2h1.1v1.1h-1.1zM1472.5,296.2h1.1v1.1h-1.1zM1476.4,284.4h1.1v1.1h-1.1zM1513.8,237.1h1.1v1.1h-1.1zM1476.1,291.5h1.1v1.1h-1.1zM1496.8,228.3h1.1v1.1h-1.1zM1448.9,213.9h1.1v1.1h-1.1zM1447.4,200.2h1.1v1.1h-1.1zM1488.7,223.9h1.1v1.1h-1.1z" fill="#222"/>
<rect x="811.1" y="138.6" width="239.5" height="238.3" fill="none" stroke="#000" stroke-width="2.3"/>
<path d="M896.3,138.6V340.6H1050.6" fill="none" stroke="#000" stroke-width="3.6"/>
<text font-size="26.5" text-anchor="middle" transform="translate(923 127.6) scale(1 1.05)" stroke="#000" stroke-width="0.3">Untreated</text>
<text font-size="26" text-anchor="middle" transform="translate(984 184.5) scale(1 1.05)" stroke="#000" stroke-width="0.3">1.5%</text>
<rect x="1072.9" y="138.6" width="239" height="238.3" fill="none" stroke="#000" stroke-width="2.3"/>
<path d="M1157,138.6V337.6H1311.9" fill="none" stroke="#000" stroke-width="3.6"/>
<text font-size="26.5" text-anchor="middle" transform="translate(1181.6 127.6) scale(1 1.05)" stroke="#000" stroke-width="0.3">MOPC_SDIE</text>
<text font-size="26" text-anchor="middle" transform="translate(1245 184.5) scale(1 1.05)" stroke="#000" stroke-width="0.3">1.6%</text>
<rect x="1330.4" y="138.6" width="239" height="238.3" fill="none" stroke="#000" stroke-width="2.3"/>
<path d="M1415,138.6V335.8H1569.4" fill="none" stroke="#000" stroke-width="3.6"/>
<text font-size="26.5" text-anchor="middle" transform="translate(1466.6 127.6) scale(1 1.05)" stroke="#000" stroke-width="0.3">8H8_SDIE</text>
<text font-size="26" text-anchor="middle" transform="translate(1513.3 184.5) scale(1 1.05)" stroke="#000" stroke-width="0.3">12.8%</text>
<polygon points="164.3,1304.5 170.2,1304.5 230.8,1245.5 224.8,1245.5" fill="#000" fill-opacity="0.035"/>
<polygon points="183.0,1304.5 170.2,1304.5 230.8,1245.5 243.5,1245.5" fill="#000" fill-opacity="0.035"/>
<polygon points="234.8,1304.5 246.2,1304.5 306.8,1245.5 295.3,1245.5" fill="#000" fill-opacity="0.035"/>
<polygon points="278.0,1304.5 297.5,1304.5 358.0,1245.5 338.5,1245.5" fill="#000" fill-opacity="0.035"/>
<polygon points="324.6,1304.5 341.2,1304.5 401.8,1245.5 385.1,1245.5" fill="#000" fill-opacity="0.035"/>
<polygon points="203.8,1304.5 216.0,1304.5 276.5,1245.5 264.2,1245.5" fill="#000" fill-opacity="0.25"/>
<path d="M157.3,1304.5L217.8,1245.5M159.2,1304.5L219.7,1245.5M160.8,1304.5L221.3,1245.5M162.0,1304.5L222.5,1245.5M163.1,1304.5L223.6,1245.5M164.0,1304.5L224.5,1245.5M164.8,1304.5L225.3,1245.5M165.5,1304.5L226.0,1245.5M166.2,1304.5L226.7,1245.5M166.8,1304.5L227.3,1245.5M167.3,1304.5L227.8,1245.5M167.8,1304.5L228.3,1245.5M168.3,1304.5L228.8,1245.5M168.7,1304.5L229.2,1245.5M169.1,1304.5L229.6,1245.5M169.5,1304.5L230.0,1245.5M169.9,1304.5L230.4,1245.5M197.9,1304.5L258.4,1245.5M193.7,1304.5L254.2,1245.5M190.4,1304.5L250.9,1245.5M187.8,1304.5L248.3,1245.5M185.5,1304.5L246.0,1245.5M183.6,1304.5L244.1,1245.5M181.9,1304.5L242.4,1245.5M180.3,1304.5L240.8,1245.5M178.9,1304.5L239.4,1245.5M177.7,1304.5L238.2,1245.5M176.5,1304.5L237.0,1245.5M175.4,1304.5L235.9,1245.5M174.4,1304.5L234.9,1245.5M173.5,1304.5L234.0,1245.5M172.6,1304.5L233.1,1245.5M171.8,1304.5L232.3,1245.5M171.0,1304.5L231.5,1245.5M221.3,1304.5L281.8,1245.5M225.1,1304.5L285.6,1245.5M228.0,1304.5L288.5,1245.5M230.4,1304.5L290.9,1245.5M232.5,1304.5L293.0,1245.5M234.2,1304.5L294.7,1245.5M235.8,1304.5L296.3,1245.5M237.1,1304.5L297.6,1245.5M238.4,1304.5L298.9,1245.5M239.5,1304.5L300.0,1245.5M240.6,1304.5L301.1,1245.5M241.6,1304.5L302.1,1245.5M242.5,1304.5L303.0,1245.5M243.3,1304.5L303.8,1245.5M244.1,1304.5L304.6,1245.5M244.9,1304.5L305.4,1245.5M245.6,1304.5L306.1,1245.5M255.3,1304.5L315.8,1245.5M261.7,1304.5L322.2,1245.5M266.6,1304.5L327.1,1245.5M270.7,1304.5L331.2,1245.5M274.1,1304.5L334.6,1245.5M277.1,1304.5L337.6,1245.5M279.7,1304.5L340.2,1245.5M282.1,1304.5L342.6,1245.5M284.2,1304.5L344.7,1245.5M286.1,1304.5L346.6,1245.5M287.9,1304.5L348.4,1245.5M289.6,1304.5L350.1,1245.5M291.1,1304.5L351.6,1245.5M292.5,1304.5L353.0,1245.5M293.9,1304.5L354.4,1245.5M295.2,1304.5L355.7,1245.5M296.4,1304.5L356.9,1245.5M305.2,1304.5L365.7,1245.5M310.7,1304.5L371.2,1245.5M314.9,1304.5L375.4,1245.5M318.4,1304.5L378.9,1245.5M321.3,1304.5L381.8,1245.5M323.8,1304.5L384.3,1245.5M326.1,1304.5L386.6,1245.5M328.1,1304.5L388.6,1245.5M329.9,1304.5L390.4,1245.5M331.5,1304.5L392.0,1245.5M333.1,1304.5L393.6,1245.5M334.5,1304.5L395.0,1245.5M335.8,1304.5L396.3,1245.5M337.0,1304.5L397.5,1245.5M338.2,1304.5L398.7,1245.5M339.2,1304.5L399.7,1245.5M340.3,1304.5L400.8,1245.5M349.0,1304.5L409.5,1245.5M354.4,1304.5L414.9,1245.5M358.7,1304.5L419.2,1245.5" stroke="#8a8a8a" stroke-width="0.4" fill="none"/>
<path d="M203.8,1304.5L264.2,1245.5M205.5,1304.5L266.0,1245.5M207.2,1304.5L267.8,1245.5M209.0,1304.5L269.5,1245.5M210.8,1304.5L271.2,1245.5M212.5,1304.5L273.0,1245.5M214.2,1304.5L274.8,1245.5M216.0,1304.5L276.5,1245.5" stroke="#555" stroke-width="0.5" fill="none"/>
<path d="M154.5,1304.5L215.0,1245.5M170.2,1304.5L230.8,1245.5M246.2,1304.5L306.8,1245.5M297.5,1304.5L358.0,1245.5M341.2,1304.5L401.8,1245.5M360.0,1304.5L420.5,1245.5" stroke="#3c3c3c" stroke-width="0.7" fill="none"/>
<path d="M215.0,1245.5C220.5,1245.5 241.9,1245.9 248.0,1245.5C254.1,1245.1 250.5,1244.8 251.5,1243.0C252.5,1241.2 253.2,1239.2 254.0,1235.0C254.8,1230.8 255.6,1225.0 256.5,1217.5C257.4,1210.0 258.5,1199.6 259.5,1190.0C260.5,1180.4 261.5,1170.0 262.5,1160.0C263.5,1150.0 264.5,1139.0 265.5,1130.0C266.5,1121.0 267.5,1112.5 268.5,1106.2C269.5,1100.0 270.4,1095.5 271.2,1092.5C272.1,1089.5 273.0,1087.8 273.8,1088.2C274.5,1088.7 274.9,1090.1 275.5,1095.0C276.1,1099.9 276.8,1108.3 277.5,1117.5C278.2,1126.7 278.8,1139.2 279.5,1150.0C280.2,1160.8 280.8,1173.8 281.5,1182.5C282.2,1191.2 282.8,1197.1 283.5,1202.5C284.2,1207.9 285.1,1211.7 286.0,1215.0C286.9,1218.3 288.1,1220.9 289.0,1222.5C289.9,1224.1 290.7,1224.7 291.5,1224.5C292.3,1224.3 293.2,1221.2 294.0,1221.5C294.8,1221.8 295.5,1225.1 296.5,1226.5C297.5,1227.9 298.8,1229.4 300.0,1230.0C301.2,1230.6 302.8,1229.2 304.0,1230.0C305.2,1230.8 306.2,1233.7 307.5,1235.0C308.8,1236.3 310.1,1237.5 311.5,1238.0C312.9,1238.5 314.6,1237.7 316.0,1238.2C317.4,1238.8 318.6,1240.5 320.0,1241.5C321.4,1242.5 322.9,1243.8 324.5,1244.5C326.1,1245.2 313.6,1245.3 329.5,1245.5C345.4,1245.7 404.9,1245.5 420.0,1245.5Z" fill="#c9c8fa" stroke="none"/>
<path d="M215.0,1245.5C220.5,1245.5 241.9,1245.9 248.0,1245.5C254.1,1245.1 250.5,1244.8 251.5,1243.0C252.5,1241.2 253.2,1239.2 254.0,1235.0C254.8,1230.8 255.6,1225.0 256.5,1217.5C257.4,1210.0 258.5,1199.6 259.5,1190.0C260.5,1180.4 261.5,1170.0 262.5,1160.0C263.5,1150.0 264.5,1139.0 265.5,1130.0C266.5,1121.0 267.5,1112.5 268.5,1106.2C269.5,1100.0 270.4,1095.5 271.2,1092.5C272.1,1089.5 273.0,1087.8 273.8,1088.2C274.5,1088.7 274.9,1090.1 275.5,1095.0C276.1,1099.9 276.8,1108.3 277.5,1117.5C278.2,1126.7 278.8,1139.2 279.5,1150.0C280.2,1160.8 280.8,1173.8 281.5,1182.5C282.2,1191.2 282.8,1197.1 283.5,1202.5C284.2,1207.9 285.1,1211.7 286.0,1215.0C286.9,1218.3 288.1,1220.9 289.0,1222.5C289.9,1224.1 290.7,1224.7 291.5,1224.5C292.3,1224.3 293.2,1221.2 294.0,1221.5C294.8,1221.8 295.5,1225.1 296.5,1226.5C297.5,1227.9 298.8,1229.4 300.0,1230.0C301.2,1230.6 302.8,1229.2 304.0,1230.0C305.2,1230.8 306.2,1233.7 307.5,1235.0C308.8,1236.3 310.1,1237.5 311.5,1238.0C312.9,1238.5 314.6,1237.7 316.0,1238.2C317.4,1238.8 318.6,1240.5 320.0,1241.5C321.4,1242.5 322.9,1243.8 324.5,1244.5C326.1,1245.2 313.6,1245.3 329.5,1245.5C345.4,1245.7 404.9,1245.5 420.0,1245.5" fill="none" stroke="#8988ec" stroke-width="1.1"/>
<line x1="215" y1="1245.5" x2="420" y2="1245.5" stroke="#8988ec" stroke-width="1.2" stroke-linecap="butt"/>
<path d="M185.0,1274.5C190.4,1274.5 211.5,1275.0 217.5,1274.5C223.5,1274.0 220.1,1273.2 221.0,1271.2C221.9,1269.2 222.3,1266.9 223.0,1262.5C223.7,1258.1 224.3,1251.2 225.0,1245.0C225.7,1238.8 226.3,1230.2 227.0,1225.0C227.7,1219.8 228.2,1216.7 229.0,1213.8C229.8,1210.8 230.8,1210.6 231.5,1207.5C232.2,1204.4 232.8,1200.8 233.5,1195.0C234.2,1189.2 234.8,1181.7 235.5,1172.5C236.2,1163.3 236.8,1150.4 237.5,1140.0C238.2,1129.6 238.9,1116.9 239.5,1110.0C240.1,1103.1 240.6,1101.0 241.0,1098.8C241.4,1096.5 241.5,1096.0 241.8,1096.2C242.0,1096.5 242.3,1096.5 242.8,1100.0C243.2,1103.5 243.7,1108.8 244.2,1117.5C244.8,1126.2 245.6,1139.6 246.2,1152.5C246.9,1165.4 247.6,1182.1 248.2,1195.0C248.9,1207.9 249.5,1220.0 250.2,1230.0C251.0,1240.0 251.6,1248.5 252.5,1255.0C253.4,1261.5 254.3,1265.7 255.5,1268.8C256.7,1271.8 257.9,1272.5 259.5,1273.5C261.1,1274.5 243.2,1274.3 265.0,1274.5C286.8,1274.7 369.2,1274.5 390.0,1274.5Z" fill="#9a9a9a" fill-opacity="0.42" stroke="none"/>
<path d="M185.0,1274.5C190.4,1274.5 211.5,1275.0 217.5,1274.5C223.5,1274.0 220.1,1273.2 221.0,1271.2C221.9,1269.2 222.3,1266.9 223.0,1262.5C223.7,1258.1 224.3,1251.2 225.0,1245.0C225.7,1238.8 226.3,1230.2 227.0,1225.0C227.7,1219.8 228.2,1216.7 229.0,1213.8C229.8,1210.8 230.8,1210.6 231.5,1207.5C232.2,1204.4 232.8,1200.8 233.5,1195.0C234.2,1189.2 234.8,1181.7 235.5,1172.5C236.2,1163.3 236.8,1150.4 237.5,1140.0C238.2,1129.6 238.9,1116.9 239.5,1110.0C240.1,1103.1 240.6,1101.0 241.0,1098.8C241.4,1096.5 241.5,1096.0 241.8,1096.2C242.0,1096.5 242.3,1096.5 242.8,1100.0C243.2,1103.5 243.7,1108.8 244.2,1117.5C244.8,1126.2 245.6,1139.6 246.2,1152.5C246.9,1165.4 247.6,1182.1 248.2,1195.0C248.9,1207.9 249.5,1220.0 250.2,1230.0C251.0,1240.0 251.6,1248.5 252.5,1255.0C253.4,1261.5 254.3,1265.7 255.5,1268.8C256.7,1271.8 257.9,1272.5 259.5,1273.5C261.1,1274.5 243.2,1274.3 265.0,1274.5C286.8,1274.7 369.2,1274.5 390.0,1274.5" fill="none" stroke="#3c3c3c" stroke-width="1.1"/>
<line x1="185" y1="1274.5" x2="390" y2="1274.5" stroke="#3c3c3c" stroke-width="1.1" stroke-linecap="butt"/>
<path d="M154.5,1304.5C159.6,1304.5 179.2,1304.8 185.0,1304.5C190.8,1304.2 188.2,1304.6 189.5,1303.0C190.8,1301.4 191.7,1298.8 192.5,1295.0C193.3,1291.2 193.8,1286.2 194.5,1280.0C195.2,1273.8 195.9,1264.2 196.5,1257.5C197.1,1250.8 197.7,1244.4 198.2,1240.0C198.8,1235.6 199.4,1233.8 200.0,1231.2C200.6,1228.8 201.3,1228.1 202.0,1225.0C202.7,1221.9 203.3,1218.3 204.0,1212.5C204.7,1206.7 205.3,1198.3 206.0,1190.0C206.7,1181.7 207.4,1169.8 208.0,1162.5C208.6,1155.2 209.1,1149.6 209.5,1146.2C209.9,1142.9 210.1,1142.3 210.5,1142.5C210.9,1142.7 211.3,1143.3 211.8,1147.5C212.2,1151.7 212.7,1158.8 213.2,1167.5C213.8,1176.2 214.4,1188.8 215.0,1200.0C215.6,1211.2 216.3,1223.3 217.0,1235.0C217.7,1246.7 218.5,1260.4 219.2,1270.0C220.0,1279.6 220.7,1287.3 221.5,1292.5C222.3,1297.7 223.0,1299.3 224.0,1301.2C225.0,1303.2 226.1,1303.5 227.5,1304.0C228.9,1304.5 210.4,1304.4 232.5,1304.5C254.6,1304.6 338.8,1304.5 360.0,1304.5" fill="none" stroke="#111" stroke-width="1.25"/>
<line x1="154.5" y1="1304.5" x2="360" y2="1304.5" stroke="#111" stroke-width="1.2" stroke-linecap="butt"/>
<rect x="153.1" y="1039.1" width="270.3" height="268.1" fill="none" stroke="#000" stroke-width="2.2"/>
<line x1="130" y1="1329.5" x2="434.5" y2="1329.5" stroke="#000" stroke-width="3.4" stroke-linecap="butt"/>
<polygon points="454.5,1329.5 432,1321.9 432,1337.1" fill="#000"/>
<text font-size="26" text-anchor="middle" transform="translate(287.2 1372.2) scale(1 1.05)" stroke="#000" stroke-width="0.3">IFNγ</text>
<polygon points="915.6,1305.0 927.0,1305.0 984.5,1246.0 973.1,1246.0" fill="#000" fill-opacity="0.035"/>
<polygon points="935.5,1305.0 927.0,1305.0 984.5,1246.0 993.0,1246.0" fill="#000" fill-opacity="0.035"/>
<polygon points="972.4,1305.0 980.0,1305.0 1037.5,1246.0 1029.9,1246.0" fill="#000" fill-opacity="0.035"/>
<polygon points="1014.9,1305.0 1036.2,1305.0 1093.8,1246.0 1072.4,1246.0" fill="#000" fill-opacity="0.035"/>
<polygon points="1066.5,1305.0 1085.0,1305.0 1142.5,1246.0 1124.0,1246.0" fill="#000" fill-opacity="0.035"/>
<polygon points="949.5,1305.0 960.0,1305.0 1017.5,1246.0 1007.0,1246.0" fill="#000" fill-opacity="0.25"/>
<path d="M902.3,1305.0L959.8,1246.0M906.0,1305.0L963.5,1246.0M908.9,1305.0L966.4,1246.0M911.3,1305.0L968.8,1246.0M913.3,1305.0L970.8,1246.0M915.1,1305.0L972.6,1246.0M916.6,1305.0L974.1,1246.0M918.0,1305.0L975.5,1246.0M919.2,1305.0L976.7,1246.0M920.3,1305.0L977.8,1246.0M921.4,1305.0L978.9,1246.0M922.4,1305.0L979.9,1246.0M923.3,1305.0L980.8,1246.0M924.1,1305.0L981.6,1246.0M924.9,1305.0L982.4,1246.0M925.6,1305.0L983.1,1246.0M926.3,1305.0L983.8,1246.0M945.5,1305.0L1003.0,1246.0M942.7,1305.0L1000.2,1246.0M940.5,1305.0L998.0,1246.0M938.8,1305.0L996.3,1246.0M937.3,1305.0L994.8,1246.0M936.0,1305.0L993.5,1246.0M934.8,1305.0L992.3,1246.0M933.8,1305.0L991.3,1246.0M932.8,1305.0L990.3,1246.0M932.0,1305.0L989.5,1246.0M931.2,1305.0L988.7,1246.0M930.5,1305.0L988.0,1246.0M929.8,1305.0L987.3,1246.0M929.2,1305.0L986.7,1246.0M928.6,1305.0L986.1,1246.0M928.0,1305.0L985.5,1246.0M927.5,1305.0L985.0,1246.0M963.5,1305.0L1021.0,1246.0M966.0,1305.0L1023.5,1246.0M968.0,1305.0L1025.5,1246.0M969.5,1305.0L1027.0,1246.0M970.9,1305.0L1028.4,1246.0M972.0,1305.0L1029.5,1246.0M973.1,1305.0L1030.6,1246.0M974.0,1305.0L1031.5,1246.0M974.8,1305.0L1032.3,1246.0M975.6,1305.0L1033.1,1246.0M976.3,1305.0L1033.8,1246.0M976.9,1305.0L1034.4,1246.0M977.5,1305.0L1035.0,1246.0M978.1,1305.0L1035.6,1246.0M978.6,1305.0L1036.1,1246.0M979.1,1305.0L1036.6,1246.0M979.6,1305.0L1037.1,1246.0M989.9,1305.0L1047.4,1246.0M996.9,1305.0L1054.4,1246.0M1002.4,1305.0L1059.9,1246.0M1006.8,1305.0L1064.3,1246.0M1010.6,1305.0L1068.1,1246.0M1013.9,1305.0L1071.4,1246.0M1016.7,1305.0L1074.2,1246.0M1019.3,1305.0L1076.8,1246.0M1021.6,1305.0L1079.1,1246.0M1023.8,1305.0L1081.3,1246.0M1025.7,1305.0L1083.2,1246.0M1027.5,1305.0L1085.0,1246.0M1029.2,1305.0L1086.7,1246.0M1030.8,1305.0L1088.3,1246.0M1032.3,1305.0L1089.8,1246.0M1033.7,1305.0L1091.2,1246.0M1035.0,1305.0L1092.5,1246.0M1044.8,1305.0L1102.3,1246.0M1050.9,1305.0L1108.4,1246.0M1055.6,1305.0L1113.1,1246.0M1059.5,1305.0L1117.0,1246.0M1062.8,1305.0L1120.3,1246.0M1065.6,1305.0L1123.1,1246.0M1068.1,1305.0L1125.6,1246.0M1070.3,1305.0L1127.8,1246.0M1072.3,1305.0L1129.8,1246.0M1074.2,1305.0L1131.7,1246.0M1075.9,1305.0L1133.4,1246.0M1077.4,1305.0L1134.9,1246.0M1078.9,1305.0L1136.4,1246.0M1080.3,1305.0L1137.8,1246.0M1081.6,1305.0L1139.1,1246.0M1082.8,1305.0L1140.3,1246.0M1083.9,1305.0L1141.4,1246.0M1093.6,1305.0L1151.1,1246.0M1099.7,1305.0L1157.2,1246.0" stroke="#8a8a8a" stroke-width="0.4" fill="none"/>
<path d="M949.5,1305.0L1007.0,1246.0M951.0,1305.0L1008.5,1246.0M952.5,1305.0L1010.0,1246.0M954.0,1305.0L1011.5,1246.0M955.5,1305.0L1013.0,1246.0M957.0,1305.0L1014.5,1246.0M958.5,1305.0L1016.0,1246.0M960.0,1305.0L1017.5,1246.0" stroke="#555" stroke-width="0.5" fill="none"/>
<path d="M897.0,1305.0L954.5,1246.0M927.0,1305.0L984.5,1246.0M980.0,1305.0L1037.5,1246.0M1036.2,1305.0L1093.8,1246.0M1085.0,1305.0L1142.5,1246.0M1103.8,1305.0L1161.2,1246.0" stroke="#3c3c3c" stroke-width="0.7" fill="none"/>
<path d="M954.5,1246.0C960.7,1246.0 984.8,1246.6 991.5,1246.0C998.2,1245.4 994.0,1245.6 995.0,1242.5C996.0,1239.4 996.7,1235.4 997.5,1227.5C998.3,1219.6 999.2,1206.7 1000.0,1195.0C1000.8,1183.3 1001.7,1170.0 1002.5,1157.5C1003.3,1145.0 1004.2,1130.8 1005.0,1120.0C1005.8,1109.2 1006.7,1099.6 1007.5,1092.5C1008.3,1085.4 1009.2,1080.9 1010.0,1077.5C1010.8,1074.1 1011.8,1073.5 1012.5,1072.0C1013.2,1070.5 1013.9,1068.5 1014.5,1068.8C1015.1,1069.0 1015.5,1068.5 1016.0,1073.8C1016.5,1079.0 1017.0,1088.1 1017.5,1100.0C1018.0,1111.9 1018.5,1130.0 1019.0,1145.0C1019.5,1160.0 1020.2,1178.3 1020.8,1190.0C1021.3,1201.7 1021.8,1209.0 1022.5,1215.0C1023.2,1221.0 1023.9,1223.2 1025.0,1226.2C1026.1,1229.2 1027.5,1231.2 1029.0,1233.0C1030.5,1234.8 1032.2,1236.5 1034.0,1237.0C1035.8,1237.5 1038.0,1235.8 1040.0,1236.0C1042.0,1236.2 1044.2,1237.8 1046.2,1238.2C1048.3,1238.7 1050.2,1238.7 1052.5,1238.5C1054.8,1238.3 1057.8,1237.0 1060.0,1237.0C1062.2,1237.0 1063.6,1238.2 1065.5,1238.5C1067.4,1238.8 1069.2,1238.6 1071.2,1238.5C1073.2,1238.4 1075.4,1238.2 1077.5,1238.0C1079.6,1237.8 1081.6,1237.5 1083.8,1237.5C1085.9,1237.5 1088.5,1237.6 1090.5,1238.2C1092.5,1238.9 1093.7,1240.5 1095.5,1241.5C1097.3,1242.5 1099.2,1243.8 1101.2,1244.5C1103.2,1245.2 1097.6,1245.8 1107.5,1246.0C1117.4,1246.2 1151.7,1246.0 1160.5,1246.0Z" fill="#c9c8fa" stroke="none"/>
<path d="M954.5,1246.0C960.7,1246.0 984.8,1246.6 991.5,1246.0C998.2,1245.4 994.0,1245.6 995.0,1242.5C996.0,1239.4 996.7,1235.4 997.5,1227.5C998.3,1219.6 999.2,1206.7 1000.0,1195.0C1000.8,1183.3 1001.7,1170.0 1002.5,1157.5C1003.3,1145.0 1004.2,1130.8 1005.0,1120.0C1005.8,1109.2 1006.7,1099.6 1007.5,1092.5C1008.3,1085.4 1009.2,1080.9 1010.0,1077.5C1010.8,1074.1 1011.8,1073.5 1012.5,1072.0C1013.2,1070.5 1013.9,1068.5 1014.5,1068.8C1015.1,1069.0 1015.5,1068.5 1016.0,1073.8C1016.5,1079.0 1017.0,1088.1 1017.5,1100.0C1018.0,1111.9 1018.5,1130.0 1019.0,1145.0C1019.5,1160.0 1020.2,1178.3 1020.8,1190.0C1021.3,1201.7 1021.8,1209.0 1022.5,1215.0C1023.2,1221.0 1023.9,1223.2 1025.0,1226.2C1026.1,1229.2 1027.5,1231.2 1029.0,1233.0C1030.5,1234.8 1032.2,1236.5 1034.0,1237.0C1035.8,1237.5 1038.0,1235.8 1040.0,1236.0C1042.0,1236.2 1044.2,1237.8 1046.2,1238.2C1048.3,1238.7 1050.2,1238.7 1052.5,1238.5C1054.8,1238.3 1057.8,1237.0 1060.0,1237.0C1062.2,1237.0 1063.6,1238.2 1065.5,1238.5C1067.4,1238.8 1069.2,1238.6 1071.2,1238.5C1073.2,1238.4 1075.4,1238.2 1077.5,1238.0C1079.6,1237.8 1081.6,1237.5 1083.8,1237.5C1085.9,1237.5 1088.5,1237.6 1090.5,1238.2C1092.5,1238.9 1093.7,1240.5 1095.5,1241.5C1097.3,1242.5 1099.2,1243.8 1101.2,1244.5C1103.2,1245.2 1097.6,1245.8 1107.5,1246.0C1117.4,1246.2 1151.7,1246.0 1160.5,1246.0" fill="none" stroke="#8988ec" stroke-width="1.1"/>
<line x1="954.5" y1="1246" x2="1160.5" y2="1246" stroke="#8988ec" stroke-width="1.2" stroke-linecap="butt"/>
<path d="M925.0,1275.0C931.3,1275.0 956.1,1275.6 963.0,1275.0C969.9,1274.4 965.6,1274.2 966.5,1271.2C967.4,1268.3 967.8,1264.4 968.5,1257.5C969.2,1250.6 969.8,1240.4 970.5,1230.0C971.2,1219.6 971.8,1205.8 972.5,1195.0C973.2,1184.2 973.9,1172.8 974.5,1165.0C975.1,1157.2 975.7,1151.3 976.2,1148.0C976.8,1144.7 977.5,1146.8 978.0,1145.0C978.5,1143.2 979.0,1141.7 979.5,1137.5C980.0,1133.3 980.7,1125.0 981.2,1120.0C981.8,1115.0 982.3,1110.1 982.8,1107.5C983.2,1104.9 983.4,1104.1 983.8,1104.5C984.1,1104.9 984.5,1104.9 985.0,1110.0C985.5,1115.1 986.0,1124.2 986.5,1135.0C987.0,1145.8 987.5,1161.7 988.0,1175.0C988.5,1188.3 989.1,1203.3 989.8,1215.0C990.4,1226.7 991.0,1237.1 991.8,1245.0C992.5,1252.9 993.3,1258.2 994.5,1262.5C995.7,1266.8 997.0,1268.7 998.8,1270.5C1000.5,1272.3 1002.9,1272.8 1005.0,1273.5C1007.1,1274.2 990.1,1274.8 1011.2,1275.0C1032.4,1275.2 1111.9,1275.0 1132.0,1275.0Z" fill="#9a9a9a" fill-opacity="0.42" stroke="none"/>
<path d="M925.0,1275.0C931.3,1275.0 956.1,1275.6 963.0,1275.0C969.9,1274.4 965.6,1274.2 966.5,1271.2C967.4,1268.3 967.8,1264.4 968.5,1257.5C969.2,1250.6 969.8,1240.4 970.5,1230.0C971.2,1219.6 971.8,1205.8 972.5,1195.0C973.2,1184.2 973.9,1172.8 974.5,1165.0C975.1,1157.2 975.7,1151.3 976.2,1148.0C976.8,1144.7 977.5,1146.8 978.0,1145.0C978.5,1143.2 979.0,1141.7 979.5,1137.5C980.0,1133.3 980.7,1125.0 981.2,1120.0C981.8,1115.0 982.3,1110.1 982.8,1107.5C983.2,1104.9 983.4,1104.1 983.8,1104.5C984.1,1104.9 984.5,1104.9 985.0,1110.0C985.5,1115.1 986.0,1124.2 986.5,1135.0C987.0,1145.8 987.5,1161.7 988.0,1175.0C988.5,1188.3 989.1,1203.3 989.8,1215.0C990.4,1226.7 991.0,1237.1 991.8,1245.0C992.5,1252.9 993.3,1258.2 994.5,1262.5C995.7,1266.8 997.0,1268.7 998.8,1270.5C1000.5,1272.3 1002.9,1272.8 1005.0,1273.5C1007.1,1274.2 990.1,1274.8 1011.2,1275.0C1032.4,1275.2 1111.9,1275.0 1132.0,1275.0" fill="none" stroke="#3c3c3c" stroke-width="1.1"/>
<line x1="925" y1="1275" x2="1132" y2="1275" stroke="#3c3c3c" stroke-width="1.1" stroke-linecap="butt"/>
<path d="M897.0,1305.0C903.2,1305.0 927.7,1305.3 934.5,1305.0C941.3,1304.7 937.0,1305.1 938.0,1303.0C939.0,1300.9 939.6,1298.0 940.2,1292.5C940.9,1287.0 941.5,1278.8 942.0,1270.0C942.5,1261.2 943.0,1250.0 943.5,1240.0C944.0,1230.0 944.5,1217.9 945.0,1210.0C945.5,1202.1 946.1,1197.5 946.8,1192.5C947.4,1187.5 948.2,1184.2 949.0,1180.0C949.8,1175.8 950.5,1172.1 951.2,1167.5C952.0,1162.9 952.6,1157.9 953.2,1152.5C953.9,1147.1 954.6,1139.2 955.2,1135.0C955.9,1130.8 956.5,1127.0 957.0,1127.0C957.5,1127.0 957.8,1128.7 958.2,1135.0C958.7,1141.3 959.0,1152.9 959.5,1165.0C960.0,1177.1 960.5,1193.8 961.0,1207.5C961.5,1221.2 962.1,1235.4 962.8,1247.5C963.4,1259.6 964.0,1271.7 964.8,1280.0C965.5,1288.3 966.2,1293.6 967.2,1297.5C968.2,1301.4 969.5,1302.2 970.8,1303.5C972.0,1304.8 952.8,1304.8 975.0,1305.0C997.2,1305.2 1082.3,1305.0 1103.8,1305.0" fill="none" stroke="#111" stroke-width="1.25"/>
<line x1="897" y1="1305" x2="1103.75" y2="1305" stroke="#111" stroke-width="1.2" stroke-linecap="butt"/>
<rect x="896.1" y="1039.1" width="267.6" height="268.6" fill="none" stroke="#000" stroke-width="2.2"/>
<line x1="876.3" y1="1329.5" x2="1180" y2="1329.5" stroke="#000" stroke-width="3.4" stroke-linecap="butt"/>
<polygon points="1200,1329.5 1177.5,1321.9 1177.5,1337.1" fill="#000"/>
<text font-size="26" text-anchor="middle" transform="translate(1018.3 1372.5) scale(1 1.05)" stroke="#000" stroke-width="0.3">TNF</text>
<text font-size="26.4" text-anchor="middle" transform="translate(320.8 1478.1) scale(1 1.05)" stroke="#000" stroke-width="0.3">MOPC_SDIE</text>
<text font-size="26.4" text-anchor="middle" transform="translate(672.2 1479.1) scale(1 1.05)" stroke="#000" stroke-width="0.3">8H8_SDIE</text>
<path d="M167.1,1504.9V1493.9Q167.1,1491.4 169.6,1491.4H487.3Q489.8,1491.4 489.8,1493.9V1504.9" fill="none" stroke="#000" stroke-width="2.0"/>
<path d="M510.5,1504.9V1493.9Q510.5,1491.4 513,1491.4H831.6Q834.1,1491.4 834.1,1493.9V1504.9" fill="none" stroke="#000" stroke-width="2.0"/>
<text font-size="22.9" text-anchor="middle" transform="translate(206.2 1534.8) scale(1 1.05)" stroke="#000" stroke-width="0.3">A549</text>
<path d="M159.9,1561.5V1547.7Q159.9,1545.2 162.4,1545.2H255.6Q258.1,1545.2 258.1,1547.7V1561.5" fill="none" stroke="#000" stroke-width="2.0"/>
<text font-size="22.9" text-anchor="middle" transform="translate(323 1534.2) scale(1 1.05)" stroke="#000" stroke-width="0.3">NCI-H226</text>
<path d="M275.7,1559.3V1547.7Q275.7,1545.2 278.2,1545.2H374Q376.5,1545.2 376.5,1547.7V1559.3" fill="none" stroke="#000" stroke-width="2.0"/>
<text font-size="22.9" text-anchor="middle" transform="translate(439.3 1534.8) scale(1 1.05)" stroke="#000" stroke-width="0.3">NCI-H460</text>
<path d="M392.2,1559.3V1547.7Q392.2,1545.2 394.7,1545.2H490.7Q493.2,1545.2 493.2,1547.7V1559.3" fill="none" stroke="#000" stroke-width="2.0"/>
<text font-size="22.9" text-anchor="middle" transform="translate(560.3 1534.2) scale(1 1.05)" stroke="#000" stroke-width="0.3">A549</text>
<path d="M511.8,1559.3V1547.7Q511.8,1545.2 514.3,1545.2H610.3Q612.8,1545.2 612.8,1547.7V1559.3" fill="none" stroke="#000" stroke-width="2.0"/>
<text font-size="22.9" text-anchor="middle" transform="translate(677.2 1534.2) scale(1 1.05)" stroke="#000" stroke-width="0.3">NCI-H226</text>
<path d="M627.6,1559.3V1547.7Q627.6,1545.2 630.1,1545.2H726.2Q728.7,1545.2 728.7,1547.7V1559.3" fill="none" stroke="#000" stroke-width="2.0"/>
<text font-size="22.9" text-anchor="middle" transform="translate(792.9 1536.4) scale(1 1.05)" stroke="#000" stroke-width="0.3">NCI-H460</text>
<path d="M746,1559.3V1547.7Q746,1545.2 748.5,1545.2H844.5Q847,1545.2 847,1547.7V1559.3" fill="none" stroke="#000" stroke-width="2.0"/>
<text font-size="25.8" transform="translate(52.9 1638.7) scale(1 1.05)" stroke="#000" stroke-width="0.3">TNF</text>
<text font-size="26.2" transform="translate(61.4 1751.3) scale(1 1.05)" stroke="#000" stroke-width="0.3">IFNγ</text>
<g shape-rendering="crispEdges">
<rect x="152" y="1570" width="29.7" height="117.6" fill="#a58fc8"/>
<rect x="181.1" y="1570" width="29.7" height="117.6" fill="#d6cbe6"/>
<rect x="210.2" y="1570" width="29.7" height="117.6" fill="#d6cbe6"/>
<rect x="239.3" y="1570" width="29.7" height="117.6" fill="#ab98cc"/>
<rect x="268.4" y="1570" width="29.7" height="117.6" fill="#f2eff7"/>
<rect x="297.5" y="1570" width="29.7" height="117.6" fill="#ece7f3"/>
<rect x="326.6" y="1570" width="29.7" height="117.6" fill="#ebe5f3"/>
<rect x="355.7" y="1570" width="29.7" height="117.6" fill="#d9cfe8"/>
<rect x="384.8" y="1570" width="29.7" height="117.6" fill="#f3f0f8"/>
<rect x="413.9" y="1570" width="29.7" height="117.6" fill="#f2eff7"/>
<rect x="443" y="1570" width="29.7" height="117.6" fill="#f2eff7"/>
<rect x="472.1" y="1570" width="29.7" height="117.6" fill="#f1eef6"/>
<rect x="501.2" y="1570" width="29.7" height="117.6" fill="#6e4e9f"/>
<rect x="530.3" y="1570" width="29.7" height="117.6" fill="#7b5ca8"/>
<rect x="559.4" y="1570" width="29.7" height="117.6" fill="#b09dcf"/>
<rect x="588.5" y="1570" width="29.7" height="117.6" fill="#a48dc7"/>
<rect x="617.6" y="1570" width="29.7" height="117.6" fill="#a18ac5"/>
<rect x="646.7" y="1570" width="29.7" height="117.6" fill="#a088c4"/>
<rect x="675.8" y="1570" width="29.7" height="117.6" fill="#d9cee8"/>
<rect x="704.9" y="1570" width="29.7" height="117.6" fill="#b7a5d3"/>
<rect x="734" y="1570" width="29.7" height="117.6" fill="#ebe5f2"/>
<rect x="763.1" y="1570" width="29.7" height="117.6" fill="#b09bcf"/>
<rect x="792.2" y="1570" width="29.7" height="117.6" fill="#f4f1f8"/>
<rect x="821.3" y="1570" width="30" height="117.6" fill="#f2eef7"/>
<rect x="152" y="1687" width="29.7" height="118.5" fill="#fcfcfd"/>
<rect x="181.1" y="1687" width="29.7" height="118.5" fill="#efebf6"/>
<rect x="210.2" y="1687" width="29.7" height="118.5" fill="#fbfafd"/>
<rect x="239.3" y="1687" width="29.7" height="118.5" fill="#ae9ace"/>
<rect x="268.4" y="1687" width="29.7" height="118.5" fill="#ffffff"/>
<rect x="297.5" y="1687" width="29.7" height="118.5" fill="#f6f4fa"/>
<rect x="326.6" y="1687" width="29.7" height="118.5" fill="#f5f3f9"/>
<rect x="355.7" y="1687" width="29.7" height="118.5" fill="#d3c7e3"/>
<rect x="384.8" y="1687" width="29.7" height="118.5" fill="#fbfafd"/>
<rect x="413.9" y="1687" width="29.7" height="118.5" fill="#f9f8fc"/>
<rect x="443" y="1687" width="29.7" height="118.5" fill="#f8f6fb"/>
<rect x="472.1" y="1687" width="29.7" height="118.5" fill="#ece7f3"/>
<rect x="501.2" y="1687" width="29.7" height="118.5" fill="#7c5ea9"/>
<rect x="530.3" y="1687" width="29.7" height="118.5" fill="#8467ae"/>
<rect x="559.4" y="1687" width="29.7" height="118.5" fill="#e0d8ec"/>
<rect x="588.5" y="1687" width="29.7" height="118.5" fill="#bcabd6"/>
<rect x="617.6" y="1687" width="29.7" height="118.5" fill="#a892c9"/>
<rect x="646.7" y="1687" width="29.7" height="118.5" fill="#9279ba"/>
<rect x="675.8" y="1687" width="29.7" height="118.5" fill="#c0b0d9"/>
<rect x="704.9" y="1687" width="29.7" height="118.5" fill="#d1c4e2"/>
<rect x="734" y="1687" width="29.7" height="118.5" fill="#b39fd0"/>
<rect x="763.1" y="1687" width="29.7" height="118.5" fill="#8566af"/>
<rect x="792.2" y="1687" width="29.7" height="118.5" fill="#cdbfdf"/>
<rect x="821.3" y="1687" width="30" height="118.5" fill="#ece6f3"/>
</g>
<rect x="152" y="1570" width="699.3" height="235.5" fill="none" stroke="#000" stroke-width="4.4"/>
<defs><linearGradient id="gF" x1="0" y1="0" x2="0" y2="1">
<stop offset="-0.09%" stop-color="#6f4f9f"/>
<stop offset="10.83%" stop-color="#7555a3"/>
<stop offset="35.68%" stop-color="#8a6db2"/>
<stop offset="60.36%" stop-color="#9d85c1"/>
<stop offset="84.91%" stop-color="#ab97cc"/>
<stop offset="89.43%" stop-color="#b19ecf"/>
<stop offset="98.81%" stop-color="#ffffff"/>
</linearGradient></defs>
<rect x="908.7" y="1570.2" width="58.3" height="234.6" fill="url(#gF)" stroke="#000" stroke-width="4.5"/>
<line x1="908.7" y1="1595.6" x2="919.9" y2="1595.6" stroke="#000" stroke-width="4.6" stroke-linecap="butt"/>
<line x1="955.8" y1="1595.6" x2="967" y2="1595.6" stroke="#000" stroke-width="4.6" stroke-linecap="butt"/>
<text font-size="26.2" transform="translate(984.2 1605.2) scale(1 1.05)" stroke="#000" stroke-width="0.3">3</text>
<line x1="908.7" y1="1653.9" x2="919.9" y2="1653.9" stroke="#000" stroke-width="4.6" stroke-linecap="butt"/>
<line x1="955.8" y1="1653.9" x2="967" y2="1653.9" stroke="#000" stroke-width="4.6" stroke-linecap="butt"/>
<text font-size="26.2" transform="translate(984.2 1663.5) scale(1 1.05)" stroke="#000" stroke-width="0.3">2</text>
<line x1="908.7" y1="1711.8" x2="919.9" y2="1711.8" stroke="#000" stroke-width="4.6" stroke-linecap="butt"/>
<line x1="955.8" y1="1711.8" x2="967" y2="1711.8" stroke="#000" stroke-width="4.6" stroke-linecap="butt"/>
<text font-size="26.2" transform="translate(984.2 1721.4) scale(1 1.05)" stroke="#000" stroke-width="0.3">1</text>
<line x1="908.7" y1="1769.4" x2="919.9" y2="1769.4" stroke="#000" stroke-width="4.6" stroke-linecap="butt"/>
<line x1="955.8" y1="1769.4" x2="967" y2="1769.4" stroke="#000" stroke-width="4.6" stroke-linecap="butt"/>
<text font-size="26.2" transform="translate(984.2 1779) scale(1 1.05)" stroke="#000" stroke-width="0.3">0</text>
<text font-size="26.1" text-anchor="middle" transform="translate(1039.4 1680.7) rotate(-90) scale(1 1.05)" stroke="#000" stroke-width="0.3">z-score</text>
<text font-size="26.4" text-anchor="middle" transform="translate(320.8 1936.6) scale(1 1.05)" stroke="#000" stroke-width="0.3">MOPC_SDIE</text>
<text font-size="26.4" text-anchor="middle" transform="translate(672.2 1935.8) scale(1 1.05)" stroke="#000" stroke-width="0.3">8H8_SDIE</text>
<path d="M167.1,1962.2V1951Q167.1,1948.5 169.6,1948.5H487.3Q489.8,1948.5 489.8,1951V1962.2" fill="none" stroke="#000" stroke-width="2.0"/>
<path d="M510.5,1962V1951Q510.5,1948.5 513,1948.5H831.6Q834.1,1948.5 834.1,1951V1962" fill="none" stroke="#000" stroke-width="2.0"/>
<text font-size="22.9" text-anchor="middle" transform="translate(206.2 1989.4) scale(1 1.05)" stroke="#000" stroke-width="0.3">A549</text>
<path d="M160.5,2014V2004.2Q160.5,2001.7 163,2001.7H258.8Q261.3,2001.7 261.3,2004.2V2014" fill="none" stroke="#000" stroke-width="2.0"/>
<text font-size="22.9" text-anchor="middle" transform="translate(323 1990) scale(1 1.05)" stroke="#000" stroke-width="0.3">NCI-H226</text>
<path d="M277,2014V2004.2Q277,2001.7 279.5,2001.7H375.2Q377.7,2001.7 377.7,2004.2V2014" fill="none" stroke="#000" stroke-width="2.0"/>
<text font-size="22.9" text-anchor="middle" transform="translate(439.3 1988.5) scale(1 1.05)" stroke="#000" stroke-width="0.3">NCI-H460</text>
<path d="M391.2,2014V2004.2Q391.2,2001.7 393.7,2001.7H489.8Q492.3,2001.7 492.3,2004.2V2014" fill="none" stroke="#000" stroke-width="2.0"/>
<text font-size="22.9" text-anchor="middle" transform="translate(560.3 1988.5) scale(1 1.05)" stroke="#000" stroke-width="0.3">A549</text>
<path d="M507.7,2014V2004.2Q507.7,2001.7 510.2,2001.7H606.6Q609.1,2001.7 609.1,2004.2V2014" fill="none" stroke="#000" stroke-width="2.0"/>
<text font-size="22.9" text-anchor="middle" transform="translate(677.2 1988.5) scale(1 1.05)" stroke="#000" stroke-width="0.3">NCI-H226</text>
<path d="M627.9,2014V2004.2Q627.9,2001.7 630.4,2001.7H727.1Q729.6,2001.7 729.6,2004.2V2014" fill="none" stroke="#000" stroke-width="2.0"/>
<text font-size="22.9" text-anchor="middle" transform="translate(792.9 1988.5) scale(1 1.05)" stroke="#000" stroke-width="0.3">NCI-H460</text>
<path d="M742.8,2014V2004.2Q742.8,2001.7 745.3,2001.7H841.7Q844.2,2001.7 844.2,2004.2V2014" fill="none" stroke="#000" stroke-width="2.0"/>
<text font-size="26" transform="translate(51.7 2101) scale(1 1.05)" stroke="#000" stroke-width="0.3">Grly</text>
<text font-size="26" transform="translate(52.3 2206.7) scale(1 1.05)" stroke="#000" stroke-width="0.3">GrzA</text>
<text font-size="26" transform="translate(52.3 2330) scale(1 1.05)" stroke="#000" stroke-width="0.3">GrzB</text>
<text font-size="26" transform="translate(49.4 2437.9) scale(1 1.05)" stroke="#000" stroke-width="0.3">PFN</text>
<g shape-rendering="crispEdges">
<rect x="152.3" y="2023.7" width="29.7" height="116.9" fill="#e8e2f0"/>
<rect x="181.4" y="2023.7" width="29.7" height="116.9" fill="#f2eff7"/>
<rect x="210.5" y="2023.7" width="29.7" height="116.9" fill="#f2eff7"/>
<rect x="239.6" y="2023.7" width="29.7" height="116.9" fill="#f1eef7"/>
<rect x="268.7" y="2023.7" width="29.7" height="116.9" fill="#e9e3f0"/>
<rect x="297.8" y="2023.7" width="29.7" height="116.9" fill="#c5b5db"/>
<rect x="326.9" y="2023.7" width="29.7" height="116.9" fill="#cbbde0"/>
<rect x="356" y="2023.7" width="29.7" height="116.9" fill="#ddd3ea"/>
<rect x="385.1" y="2023.7" width="29.7" height="116.9" fill="#d8cde6"/>
<rect x="414.2" y="2023.7" width="29.7" height="116.9" fill="#f0ecf5"/>
<rect x="443.3" y="2023.7" width="29.7" height="116.9" fill="#fdfdfe"/>
<rect x="472.4" y="2023.7" width="29.7" height="116.9" fill="#fbfafd"/>
<rect x="501.5" y="2023.7" width="29.7" height="116.9" fill="#71519f"/>
<rect x="530.6" y="2023.7" width="29.7" height="116.9" fill="#977fbe"/>
<rect x="559.7" y="2023.7" width="29.7" height="116.9" fill="#a48dc7"/>
<rect x="588.8" y="2023.7" width="29.7" height="116.9" fill="#bba9d5"/>
<rect x="617.9" y="2023.7" width="29.7" height="116.9" fill="#d6cbe5"/>
<rect x="647" y="2023.7" width="29.7" height="116.9" fill="#d4c8e4"/>
<rect x="676.1" y="2023.7" width="29.7" height="116.9" fill="#d0c3e1"/>
<rect x="705.2" y="2023.7" width="29.7" height="116.9" fill="#d8cee7"/>
<rect x="734.3" y="2023.7" width="29.7" height="116.9" fill="#a38bc5"/>
<rect x="763.4" y="2023.7" width="29.7" height="116.9" fill="#a38bc5"/>
<rect x="792.5" y="2023.7" width="29.7" height="116.9" fill="#a690c8"/>
<rect x="821.6" y="2023.7" width="30.2" height="116.9" fill="#cdbfdf"/>
<rect x="152.3" y="2140" width="29.7" height="116.9" fill="#ffffff"/>
<rect x="181.4" y="2140" width="29.7" height="116.9" fill="#e0d7ec"/>
<rect x="210.5" y="2140" width="29.7" height="116.9" fill="#ffffff"/>
<rect x="239.6" y="2140" width="29.7" height="116.9" fill="#e2daed"/>
<rect x="268.7" y="2140" width="29.7" height="116.9" fill="#977dbb"/>
<rect x="297.8" y="2140" width="29.7" height="116.9" fill="#ffffff"/>
<rect x="326.9" y="2140" width="29.7" height="116.9" fill="#f0ebf6"/>
<rect x="356" y="2140" width="29.7" height="116.9" fill="#b09bce"/>
<rect x="385.1" y="2140" width="29.7" height="116.9" fill="#a993c8"/>
<rect x="414.2" y="2140" width="29.7" height="116.9" fill="#ffffff"/>
<rect x="443.3" y="2140" width="29.7" height="116.9" fill="#ffffff"/>
<rect x="472.4" y="2140" width="29.7" height="116.9" fill="#e9e4f1"/>
<rect x="501.5" y="2140" width="29.7" height="116.9" fill="#c6b6db"/>
<rect x="530.6" y="2140" width="29.7" height="116.9" fill="#9e86c1"/>
<rect x="559.7" y="2140" width="29.7" height="116.9" fill="#e8e2f1"/>
<rect x="588.8" y="2140" width="29.7" height="116.9" fill="#c4b4da"/>
<rect x="617.9" y="2140" width="29.7" height="116.9" fill="#886cb0"/>
<rect x="647" y="2140" width="29.7" height="116.9" fill="#d7cce6"/>
<rect x="676.1" y="2140" width="29.7" height="116.9" fill="#bba9d5"/>
<rect x="705.2" y="2140" width="29.7" height="116.9" fill="#a994c9"/>
<rect x="734.3" y="2140" width="29.7" height="116.9" fill="#886cb0"/>
<rect x="763.4" y="2140" width="29.7" height="116.9" fill="#d7cbe5"/>
<rect x="792.5" y="2140" width="29.7" height="116.9" fill="#9e86c1"/>
<rect x="821.6" y="2140" width="30.2" height="116.9" fill="#b09bce"/>
<rect x="152.3" y="2256.3" width="29.7" height="116.9" fill="#c8b9dc"/>
<rect x="181.4" y="2256.3" width="29.7" height="116.9" fill="#e7e1f0"/>
<rect x="210.5" y="2256.3" width="29.7" height="116.9" fill="#a791c8"/>
<rect x="239.6" y="2256.3" width="29.7" height="116.9" fill="#a38cc5"/>
<rect x="268.7" y="2256.3" width="29.7" height="116.9" fill="#fbfafc"/>
<rect x="297.8" y="2256.3" width="29.7" height="116.9" fill="#fefefe"/>
<rect x="326.9" y="2256.3" width="29.7" height="116.9" fill="#faf9fc"/>
<rect x="356" y="2256.3" width="29.7" height="116.9" fill="#f5f3f9"/>
<rect x="385.1" y="2256.3" width="29.7" height="116.9" fill="#dbd1e8"/>
<rect x="414.2" y="2256.3" width="29.7" height="116.9" fill="#d8cde6"/>
<rect x="443.3" y="2256.3" width="29.7" height="116.9" fill="#dfd6eb"/>
<rect x="472.4" y="2256.3" width="29.7" height="116.9" fill="#c8b9dc"/>
<rect x="501.5" y="2256.3" width="29.7" height="116.9" fill="#6e4e9d"/>
<rect x="530.6" y="2256.3" width="29.7" height="116.9" fill="#a18ac5"/>
<rect x="559.7" y="2256.3" width="29.7" height="116.9" fill="#ab96cb"/>
<rect x="588.8" y="2256.3" width="29.7" height="116.9" fill="#9b83c0"/>
<rect x="617.9" y="2256.3" width="29.7" height="116.9" fill="#b4a1d1"/>
<rect x="647" y="2256.3" width="29.7" height="116.9" fill="#c0afd8"/>
<rect x="676.1" y="2256.3" width="29.7" height="116.9" fill="#f0ecf6"/>
<rect x="705.2" y="2256.3" width="29.7" height="116.9" fill="#e6dff0"/>
<rect x="734.3" y="2256.3" width="29.7" height="116.9" fill="#cbbcdf"/>
<rect x="763.4" y="2256.3" width="29.7" height="116.9" fill="#c7b7dc"/>
<rect x="792.5" y="2256.3" width="29.7" height="116.9" fill="#c7b7dc"/>
<rect x="821.6" y="2256.3" width="30.2" height="116.9" fill="#dbd1e8"/>
<rect x="152.3" y="2372.6" width="29.7" height="117.1" fill="#b5a0d0"/>
<rect x="181.4" y="2372.6" width="29.7" height="117.1" fill="#ffffff"/>
<rect x="210.5" y="2372.6" width="29.7" height="117.1" fill="#cfc2e1"/>
<rect x="239.6" y="2372.6" width="29.7" height="117.1" fill="#cdc0e0"/>
<rect x="268.7" y="2372.6" width="29.7" height="117.1" fill="#f5f3f9"/>
<rect x="297.8" y="2372.6" width="29.7" height="117.1" fill="#b29dcf"/>
<rect x="326.9" y="2372.6" width="29.7" height="117.1" fill="#c6b6db"/>
<rect x="356" y="2372.6" width="29.7" height="117.1" fill="#c7b7dc"/>
<rect x="385.1" y="2372.6" width="29.7" height="117.1" fill="#fdfdfd"/>
<rect x="414.2" y="2372.6" width="29.7" height="117.1" fill="#e7e1f0"/>
<rect x="443.3" y="2372.6" width="29.7" height="117.1" fill="#f7f5fa"/>
<rect x="472.4" y="2372.6" width="29.7" height="117.1" fill="#e8e2f0"/>
<rect x="501.5" y="2372.6" width="29.7" height="117.1" fill="#71519f"/>
<rect x="530.6" y="2372.6" width="29.7" height="117.1" fill="#c4b4da"/>
<rect x="559.7" y="2372.6" width="29.7" height="117.1" fill="#ab96cb"/>
<rect x="588.8" y="2372.6" width="29.7" height="117.1" fill="#b7a4d3"/>
<rect x="617.9" y="2372.6" width="29.7" height="117.1" fill="#d5c9e4"/>
<rect x="647" y="2372.6" width="29.7" height="117.1" fill="#8b70b3"/>
<rect x="676.1" y="2372.6" width="29.7" height="117.1" fill="#b19ccf"/>
<rect x="705.2" y="2372.6" width="29.7" height="117.1" fill="#b19ccf"/>
<rect x="734.3" y="2372.6" width="29.7" height="117.1" fill="#efeaf5"/>
<rect x="763.4" y="2372.6" width="29.7" height="117.1" fill="#a993ca"/>
<rect x="792.5" y="2372.6" width="29.7" height="117.1" fill="#bfaed7"/>
<rect x="821.6" y="2372.6" width="30.2" height="117.1" fill="#e8e2f1"/>
</g>
<rect x="152.3" y="2023.7" width="699.5" height="466" fill="none" stroke="#000" stroke-width="4.4"/>
<defs><linearGradient id="gH" x1="0" y1="0" x2="0" y2="1">
<stop offset="-0.17%" stop-color="#6f4f9f"/>
<stop offset="21.12%" stop-color="#7f61aa"/>
<stop offset="41.78%" stop-color="#8d72b5"/>
<stop offset="62.60%" stop-color="#9d85c1"/>
<stop offset="83.38%" stop-color="#ab97cc"/>
<stop offset="84.63%" stop-color="#ae9bce"/>
<stop offset="88.92%" stop-color="#c9bcdd"/>
<stop offset="93.65%" stop-color="#e0d8ec"/>
<stop offset="99.44%" stop-color="#f7f5fb"/>
</linearGradient></defs>
<rect x="910.2" y="2023.8" width="58.6" height="465.8" fill="url(#gH)" stroke="#000" stroke-width="4.5"/>
<text font-size="26.2" transform="translate(984.6 2040.5) scale(1 1.05)" stroke="#000" stroke-width="0.3">4</text>
<line x1="910.2" y1="2122.2" x2="921.4" y2="2122.2" stroke="#000" stroke-width="4.6" stroke-linecap="butt"/>
<line x1="957.6" y1="2122.2" x2="968.8" y2="2122.2" stroke="#000" stroke-width="4.6" stroke-linecap="butt"/>
<text font-size="26.2" transform="translate(984.6 2131.8) scale(1 1.05)" stroke="#000" stroke-width="0.3">3</text>
<line x1="910.2" y1="2218.4" x2="921.4" y2="2218.4" stroke="#000" stroke-width="4.6" stroke-linecap="butt"/>
<line x1="957.6" y1="2218.4" x2="968.8" y2="2218.4" stroke="#000" stroke-width="4.6" stroke-linecap="butt"/>
<text font-size="26.2" transform="translate(984.6 2228) scale(1 1.05)" stroke="#000" stroke-width="0.3">2</text>
<line x1="910.2" y1="2315.4" x2="921.4" y2="2315.4" stroke="#000" stroke-width="4.6" stroke-linecap="butt"/>
<line x1="957.6" y1="2315.4" x2="968.8" y2="2315.4" stroke="#000" stroke-width="4.6" stroke-linecap="butt"/>
<text font-size="26.2" transform="translate(984.6 2325) scale(1 1.05)" stroke="#000" stroke-width="0.3">1</text>
<line x1="910.2" y1="2412.2" x2="921.4" y2="2412.2" stroke="#000" stroke-width="4.6" stroke-linecap="butt"/>
<line x1="957.6" y1="2412.2" x2="968.8" y2="2412.2" stroke="#000" stroke-width="4.6" stroke-linecap="butt"/>
<text font-size="26.2" transform="translate(984.6 2421.8) scale(1 1.05)" stroke="#000" stroke-width="0.3">0</text>
<text font-size="26.1" text-anchor="middle" transform="translate(1040 2272.8) rotate(-90) scale(1 1.05)" stroke="#000" stroke-width="0.3">z-score</text>
</svg>
</body>
</html>
